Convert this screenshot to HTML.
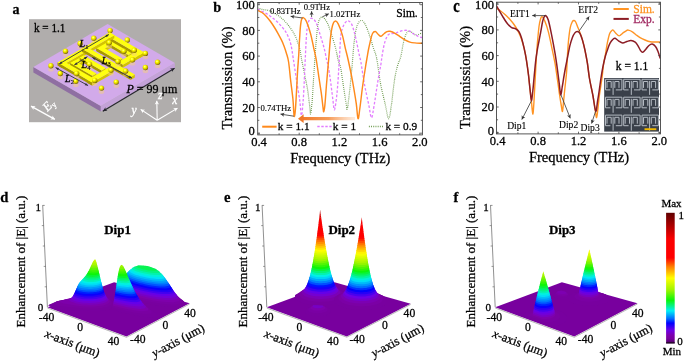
<!DOCTYPE html>
<html><head><meta charset="utf-8"><style>
html,body{margin:0;padding:0;background:#fff;width:685px;height:361px;overflow:hidden}
svg{display:block;font-family:"Liberation Serif", serif;will-change:transform}
text{stroke-width:.28px}
text:not([fill]){stroke:#000}
</style></head><body>
<svg width="685" height="361" viewBox="0 0 685 361">
<defs>
<clipPath id="clipb"><rect x="257.7" y="2.5" width="164.7" height="132.4"/></clipPath>
<clipPath id="clipc"><rect x="496.5" y="2.2" width="164" height="131.7"/></clipPath>
<linearGradient id="gArr" gradientUnits="userSpaceOnUse" x1="302" y1="0" x2="355" y2="0"><stop offset="0" stop-color="#f07828"/><stop offset="0.5" stop-color="#f58a3a" stop-opacity="0.85"/><stop offset="1" stop-color="#fbb078" stop-opacity="0.25"/></linearGradient>
<radialGradient id="gSph" cx="0.38" cy="0.34" r="0.75"><stop offset="0" stop-color="#ffffa0"/><stop offset="0.28" stop-color="#ffff00"/><stop offset="0.68" stop-color="#c0ac00"/><stop offset="1" stop-color="#403800"/></radialGradient>
</defs>
<text x="12.6" y="13.6" font-size="14" font-weight="bold">a</text>
<rect x="29" y="19.2" width="152" height="103" fill="#b0adac"/>
<polygon points="33.4,67 100.8,106 100.8,111.5 33.4,72.5" fill="#8f6fa2" />
<polygon points="100.8,106 174.9,62.9 174.9,68.4 100.8,111.5" fill="#c4a2d8" />
<polygon points="33.4,67 107.6,24.1 174.9,62.9 100.8,106" fill="#d2aaea" />
<text x="0" y="0" font-size="11.2" transform="translate(33.9 31.9) scale(1 1.15)">k = 1.1</text>
<ellipse cx="110.1" cy="34.2" rx="2.8" ry="2.2" fill="#f6d080" opacity="0.5"/>
<circle cx="110.1" cy="30.6" r="2.7" fill="url(#gSph)"/>
<ellipse cx="127.3" cy="43.6" rx="2.8" ry="2.2" fill="#f6d080" opacity="0.5"/>
<circle cx="127.3" cy="40" r="2.7" fill="url(#gSph)"/>
<ellipse cx="93.8" cy="41.9" rx="2.8" ry="2.2" fill="#f6d080" opacity="0.5"/>
<circle cx="93.8" cy="38.3" r="2.7" fill="url(#gSph)"/>
<ellipse cx="80.1" cy="47.1" rx="2.8" ry="2.2" fill="#f6d080" opacity="0.5"/>
<circle cx="80.1" cy="43.5" r="2.7" fill="url(#gSph)"/>
<polygon points="96.4,51.1 101,53.7 101,50.7 96.4,48.1" fill="#a89800" />
<polygon points="101,53.7 115.1,45.6 115.1,42.6 101,50.7" fill="#d4c400" />
<polygon points="96.4,48.1 101,50.7 115.1,42.6 110.5,39.9" fill="#ffff10" />
<polygon points="106.4,45.3 128.4,57.9 128.4,54.9 106.4,42.3" fill="#a89800" />
<polygon points="128.4,57.9 132.4,55.6 132.4,52.6 128.4,54.9" fill="#d4c400" />
<polygon points="106.4,42.3 128.4,54.9 132.4,52.6 110.5,39.9" fill="#ffff10" />
<polygon points="105.4,38.1 139.8,58 139.8,55 105.4,35.1" fill="#a89800" />
<polygon points="139.8,58 144.1,55.5 144.1,52.5 139.8,55" fill="#d4c400" />
<polygon points="105.4,35.1 139.8,55 144.1,52.5 109.7,32.6" fill="#ffff10" />
<polygon points="96.4,51.1 118.3,63.8 118.3,60.8 96.4,48.1" fill="#a89800" />
<polygon points="118.3,63.8 122.3,61.4 122.3,58.4 118.3,60.8" fill="#d4c400" />
<polygon points="96.4,48.1 118.3,60.8 122.3,58.4 100.4,45.8" fill="#ffff10" />
<polygon points="57.7,65.6 62.3,68.3 62.3,65.3 57.7,62.6" fill="#a89800" />
<polygon points="62.3,68.3 114.3,38.3 114.3,35.3 62.3,65.3" fill="#d4c400" />
<polygon points="57.7,62.6 62.3,65.3 114.3,35.3 109.7,32.6" fill="#ffff10" />
<polygon points="70.4,66.1 75,68.8 75,65.8 70.4,63.1" fill="#a89800" />
<polygon points="75,68.8 88.4,61 88.4,58 75,65.8" fill="#d4c400" />
<polygon points="70.4,63.1 75,65.8 88.4,58 83.8,55.4" fill="#ffff10" />
<polygon points="118.3,65.1 122.9,67.7 122.9,64.7 118.3,62.1" fill="#a89800" />
<polygon points="122.9,67.7 144.1,55.5 144.1,52.5 122.9,64.7" fill="#d4c400" />
<polygon points="118.3,62.1 122.9,64.7 144.1,52.5 139.5,49.8" fill="#ffff10" />
<polygon points="79.7,60.7 101.6,73.4 101.6,70.4 79.7,57.7" fill="#a89800" />
<polygon points="101.6,73.4 105.7,71.1 105.7,68.1 101.6,70.4" fill="#d4c400" />
<polygon points="79.7,57.7 101.6,70.4 105.7,68.1 83.8,55.4" fill="#ffff10" />
<polygon points="70.4,66.1 92.3,78.8 92.3,75.8 70.4,63.1" fill="#a89800" />
<polygon points="92.3,78.8 96.4,76.4 96.4,73.4 92.3,75.8" fill="#d4c400" />
<polygon points="70.4,63.1 92.3,75.8 96.4,73.4 74.5,60.8" fill="#ffff10" />
<polygon points="81.9,51.7 130.7,80 130.7,77 81.9,48.7" fill="#a89800" />
<polygon points="130.7,80 134.8,77.6 134.8,74.6 130.7,77" fill="#d4c400" />
<polygon points="81.9,48.7 130.7,77 134.8,74.6 85.9,46.4" fill="#ffff10" />
<polygon points="57.7,65.6 92.1,85.5 92.1,82.5 57.7,62.6" fill="#a89800" />
<polygon points="92.1,85.5 96.4,83 96.4,80 92.1,82.5" fill="#d4c400" />
<polygon points="57.7,62.6 92.1,82.5 96.4,80 62,60.2" fill="#ffff10" />
<polygon points="87.5,82.9 92.1,85.5 92.1,82.5 87.5,79.9" fill="#a89800" />
<polygon points="92.1,85.5 113.3,73.3 113.3,70.3 92.1,82.5" fill="#d4c400" />
<polygon points="87.5,79.9 92.1,82.5 113.3,70.3 108.7,67.6" fill="#ffff10" />
<ellipse cx="65.5" cy="54.8" rx="2.8" ry="2.2" fill="#f6d080" opacity="0.5"/>
<circle cx="65.5" cy="51.2" r="2.7" fill="url(#gSph)"/>
<ellipse cx="109.3" cy="46.2" rx="2.8" ry="2.2" fill="#f6d080" opacity="0.5"/>
<circle cx="109.3" cy="42.6" r="2.7" fill="url(#gSph)"/>
<ellipse cx="123.9" cy="54.8" rx="2.8" ry="2.2" fill="#f6d080" opacity="0.5"/>
<circle cx="123.9" cy="51.2" r="2.7" fill="url(#gSph)"/>
<ellipse cx="134.2" cy="53.9" rx="2.8" ry="2.2" fill="#f6d080" opacity="0.5"/>
<circle cx="134.2" cy="50.3" r="2.7" fill="url(#gSph)"/>
<ellipse cx="145.4" cy="57" rx="2.8" ry="2.2" fill="#f6d080" opacity="0.5"/>
<circle cx="145.4" cy="53.4" r="2.7" fill="url(#gSph)"/>
<ellipse cx="50.9" cy="69.4" rx="2.8" ry="2.2" fill="#f6d080" opacity="0.5"/>
<circle cx="50.9" cy="65.8" r="2.7" fill="url(#gSph)"/>
<ellipse cx="89.5" cy="67.7" rx="2.8" ry="2.2" fill="#f6d080" opacity="0.5"/>
<circle cx="89.5" cy="64.1" r="2.7" fill="url(#gSph)"/>
<ellipse cx="111" cy="73.7" rx="2.8" ry="2.2" fill="#f6d080" opacity="0.5"/>
<circle cx="111" cy="70.1" r="2.7" fill="url(#gSph)"/>
<ellipse cx="117.9" cy="65.1" rx="2.8" ry="2.2" fill="#f6d080" opacity="0.5"/>
<circle cx="117.9" cy="61.5" r="2.7" fill="url(#gSph)"/>
<ellipse cx="132.5" cy="63.4" rx="2.8" ry="2.2" fill="#f6d080" opacity="0.5"/>
<circle cx="132.5" cy="59.8" r="2.7" fill="url(#gSph)"/>
<ellipse cx="145.4" cy="71.1" rx="2.8" ry="2.2" fill="#f6d080" opacity="0.5"/>
<circle cx="145.4" cy="67.5" r="2.7" fill="url(#gSph)"/>
<ellipse cx="60.3" cy="77.1" rx="2.8" ry="2.2" fill="#f6d080" opacity="0.5"/>
<circle cx="60.3" cy="73.5" r="2.7" fill="url(#gSph)"/>
<ellipse cx="76.6" cy="77.1" rx="2.8" ry="2.2" fill="#f6d080" opacity="0.5"/>
<circle cx="76.6" cy="73.5" r="2.7" fill="url(#gSph)"/>
<ellipse cx="94.7" cy="84" rx="2.8" ry="2.2" fill="#f6d080" opacity="0.5"/>
<circle cx="94.7" cy="80.4" r="2.7" fill="url(#gSph)"/>
<ellipse cx="116.2" cy="85.7" rx="2.8" ry="2.2" fill="#f6d080" opacity="0.5"/>
<circle cx="116.2" cy="82.1" r="2.7" fill="url(#gSph)"/>
<ellipse cx="125.6" cy="74.6" rx="2.8" ry="2.2" fill="#f6d080" opacity="0.5"/>
<circle cx="125.6" cy="71" r="2.7" fill="url(#gSph)"/>
<ellipse cx="75.8" cy="84.9" rx="2.8" ry="2.2" fill="#f6d080" opacity="0.5"/>
<circle cx="75.8" cy="81.3" r="2.7" fill="url(#gSph)"/>
<ellipse cx="101.5" cy="91.7" rx="2.8" ry="2.2" fill="#f6d080" opacity="0.5"/>
<circle cx="101.5" cy="88.1" r="2.7" fill="url(#gSph)"/>
<ellipse cx="157.6" cy="65.9" rx="2.8" ry="2.2" fill="#f6d080" opacity="0.5"/>
<circle cx="157.6" cy="62.3" r="2.7" fill="url(#gSph)"/>
<g stroke="#303040" stroke-width="0.9" fill="#303040">
<path d="M59.1 64L108.9 34.5" fill="none"/>
<path d="M59.1 64L61.2 61.3L62.5 63.5Z" stroke="none"/>
<path d="M108.9 34.5L106.8 37.2L105.5 35Z" stroke="none"/>
<path d="M55.6 67.6L88.1 85.6" fill="none"/>
<path d="M55.6 67.6L59 68L57.8 70.3Z" stroke="none"/>
<path d="M88.1 85.6L84.7 85.2L85.9 82.9Z" stroke="none"/>
<path d="M74.3 65L87.4 56.7" fill="none"/>
<path d="M74.3 65L76.3 62.2L77.7 64.4Z" stroke="none"/>
<path d="M87.4 56.7L85.4 59.5L84 57.3Z" stroke="none"/>
<path d="M92.3 57.4L132 78.2" fill="none"/>
<path d="M92.3 57.4L95.7 57.7L94.5 60Z" stroke="none"/>
<path d="M132 78.2L128.6 77.9L129.8 75.6Z" stroke="none"/>
</g>
<path d="M174.6 68.2L102.8 111.2" stroke="#26262e" stroke-width="1.1" fill="none"/>
<path d="M102.8 111.2L105.4 107.3L105.5 109.6L107.4 110.8Z" fill="#26262e"/>
<path d="M174.6 68.2L172 72.1L171.9 69.8L170 68.6Z" fill="#26262e"/>
<text x="79.5" y="46.5" font-size="10" font-style="italic">L</text>
<text x="85.3" y="48.5" font-size="6.5" style="stroke-width:.12px">1</text>
<text x="65" y="82" font-size="10" font-style="italic">L</text>
<text x="70.8" y="84" font-size="6.5" style="stroke-width:.12px">2</text>
<text x="101.8" y="64.3" font-size="10" font-style="italic">L</text>
<text x="107.6" y="66.3" font-size="6.5" style="stroke-width:.12px">3</text>
<text x="81.5" y="67.8" font-size="10" font-style="italic">L</text>
<text x="87.3" y="69.8" font-size="6.5" style="stroke-width:.12px">4</text>
<text x="126.4" y="93.2" font-size="12"><tspan font-style="italic">P</tspan> = 99 μm</text>
<path d="M157.2 120.3L156.8 100.7" stroke="#fff" stroke-width="1.1" fill="none"/>
<path d="M156.8 100.7L159.1 104.5L156.9 103.5L154.7 104.5Z" fill="#fff"/>
<path d="M157.2 120.3L177.5 108.1" stroke="#fff" stroke-width="1.1" fill="none"/>
<path d="M177.5 108.1L175.4 111.9L175.1 109.6L173.1 108.2Z" fill="#fff"/>
<path d="M157.2 120.3L140.7 109.4" stroke="#fff" stroke-width="1.1" fill="none"/>
<path d="M140.7 109.4L145.1 109.7L143.1 111L142.7 113.3Z" fill="#fff"/>
<text x="158" y="98.8" font-size="11.5" font-style="italic" fill="#fff" stroke="#fff">z</text>
<text x="172.3" y="103.6" font-size="11.5" font-style="italic" fill="#fff" stroke="#fff">x</text>
<text x="131.6" y="113.6" font-size="11.5" font-style="italic" fill="#fff" stroke="#fff">y</text>
<path d="M31 106.2L54.9 119.3" stroke="#fff" stroke-width="1.35" fill="none"/>
<path d="M54.9 119.3L50.3 119.4L52.3 117.9L52.5 115.4Z" fill="#fff"/>
<path d="M31 106.2L35.6 106.1L33.6 107.6L33.4 110.1Z" fill="#fff"/>
<text x="0" y="0" font-size="12.5" fill="#fff" stroke="#fff" stroke-width="0.3" transform="translate(47.6 112) rotate(-46)"><tspan font-style="italic">E</tspan><tspan font-size="8" dy="2">y</tspan></text>
<text x="213.3" y="12" font-size="14.3" font-weight="bold">b</text>
<g clip-path="url(#clipb)">
<path d="M257.7 8C258.6 8.3 261 9.1 263 9.6C265 10.1 267 9.7 269.8 10.9C272.6 12.1 276.7 14.3 279.7 16.6C282.7 18.9 285.5 21.8 288 24.9C290.5 27.9 293 31.8 294.7 34.9C296.4 38 297.1 40.7 298 43.2C298.9 45.7 299.3 46.6 300 50C300.7 53.4 301.2 57.3 302.4 63.5C303.6 69.7 305.9 80.1 307.1 87C308.3 93.9 309 100.4 309.6 104.9C310.2 109.4 310.2 114.6 310.6 114C311 113.4 311.6 107.5 312.1 101.5C312.6 95.5 313.1 85.4 313.6 78C314.1 70.6 314.6 63.3 315 57C315.4 50.7 315.9 44.7 316.3 40C316.7 35.3 316.9 32.1 317.3 29C317.7 25.9 318 23.1 318.8 21.1C319.6 19.1 320.8 16.7 322.2 16.9C323.6 17.1 325.6 19.7 327.1 22.5C328.6 25.3 329.8 29.4 331.2 33.5C332.6 37.6 334.2 43 335.4 47.4C336.6 51.8 337.3 56.4 338.2 60C339.1 63.6 340 64.3 340.9 69C341.8 73.7 342.8 82.4 343.7 88.2C344.6 94 345.6 100.5 346.2 104C346.8 107.5 346.6 111.5 347.2 109.5C347.8 107.5 348.8 97.9 349.5 92C350.2 86.1 350.8 79.3 351.3 74C351.8 68.7 352.1 65.8 352.6 60C353.1 54.2 353.7 44.8 354.5 39C355.3 33.2 356.1 28.3 357.3 25.2C358.5 22.1 360.1 20.4 361.5 20.4C362.9 20.4 364.2 22.6 365.6 25.2C367 27.8 368.5 32.6 369.8 36.3C371.1 40 372.1 43.7 373.2 47.4C374.3 51.1 375.5 52.5 376.7 58.5C377.9 64.5 379.1 76 380.5 83.4C381.9 90.9 383.6 97.3 385 103.2C386.4 109.1 387.5 118.3 388.6 118.6C389.7 118.9 390.4 111.4 391.4 105C392.4 98.6 393.5 86.5 394.5 80C395.5 73.5 396.4 69.9 397.5 66C398.6 62.1 399.8 60.3 400.8 56.5C401.8 52.7 402.5 46.8 403.3 43.2C404.1 39.6 404.9 36.9 405.7 34.9C406.5 32.9 407.4 31.9 408.2 31.3C409 30.8 409.9 31.3 410.7 31.6C411.5 31.9 412.4 32.7 413.2 33.3C414 33.9 414.9 35 415.7 35.2C416.5 35.4 417.1 35 418.2 34.6C419.2 34.2 421.4 33.1 422 32.8" fill="none" stroke="#679647" stroke-width="1.2" stroke-dasharray="0.85 1.15"/>
<path d="M257.7 8.9C258.1 9.2 259.2 9.9 260.4 10.5C261.6 11.1 263.4 11.9 264.9 12.7C266.4 13.5 267.8 14.5 269.3 15.5C270.8 16.5 272.2 17.6 273.7 18.8C275.2 20 276.7 21.2 278.2 22.7C279.7 24.2 281.3 26.1 282.6 27.7C283.9 29.3 284.9 30.4 285.9 32.1C286.9 33.8 287.8 35.6 288.7 37.7C289.6 39.9 290.2 41.5 291 45C291.8 48.5 292.4 53 293.3 58.8C294.2 64.6 295.4 73 296.5 80C297.6 87 299 95.1 299.8 101C300.6 106.9 300.9 115.7 301.5 115.5C302.1 115.3 302.7 105.9 303.2 100C303.7 94.1 304 86.7 304.3 80C304.6 73.3 304.9 66.7 305.2 60C305.5 53.3 305.9 45.3 306.2 40C306.5 34.7 306.7 31.3 307.2 28C307.7 24.7 308.3 22 309.1 20.4C309.9 18.8 310.8 17.9 311.9 18.3C313 18.7 314.6 19.7 316 22.5C317.4 25.3 318.8 30.5 320.2 34.9C321.6 39.3 323.2 44.6 324.3 48.8C325.4 53 326 57.1 326.6 60C327.2 62.9 327.6 62.7 328.2 66C328.8 69.3 329.6 74.3 330.4 80C331.2 85.7 332.2 94.9 332.9 99.9C333.6 104.9 333.8 110.9 334.5 109.8C335.2 108.7 336.3 99.8 337 93.2C337.7 86.6 338.3 76.4 338.7 70C339.1 63.6 339.2 60.9 339.6 55C340 49.1 340.2 39.9 340.9 34.9C341.6 29.9 342.6 27.5 343.7 25.2C344.8 22.9 346.2 21.1 347.4 20.8C348.6 20.5 350 21.5 351.1 23.2C352.2 24.9 353 27.7 353.9 30.8C354.8 33.9 355.7 37.8 356.6 41.9C357.5 46 358.7 52.4 359.4 55.7C360.1 59.1 360.1 57.4 360.9 62C361.7 66.6 363 76.2 364.3 83.4C365.6 90.6 367.6 99.3 368.8 105C370 110.7 370.6 117.7 371.5 117.7C372.4 117.7 373.1 111 374.2 105C375.2 99 376.7 88.3 377.8 81.6C378.9 74.9 380 69.5 380.8 64.8C381.6 60.1 381.8 57.1 382.5 53.2C383.2 49.3 384 44.7 385 41.6C386 38.5 387.1 36.1 388.3 34.8C389.5 33.4 390.7 33.8 392 33.5C393.3 33.2 394.7 33.4 396 33C397.3 32.6 398.4 31.8 399.9 31.3C401.4 30.9 403.4 30.4 404.9 30.3C406.4 30.2 407.9 30.3 409.1 30.8C410.4 31.3 411.3 32.6 412.4 33.3C413.5 34 414.7 34.3 415.7 34.9C416.7 35.5 417.6 36.2 418.6 36.6C419.7 37 421.4 37.4 422 37.5" fill="none" stroke="#e27cff" stroke-width="1.3" stroke-dasharray="2.6 1.8"/>
<path d="M257.7 10.3C258.4 10.7 260.6 11.5 262 12.5C263.4 13.5 265 14.9 266.4 16.4C267.8 17.9 269.1 19.6 270.5 21.5C271.9 23.4 273.5 25.9 274.8 28C276.1 30.1 277.1 31.8 278.2 33.8C279.3 35.8 280.4 37.9 281.4 39.9C282.4 41.9 283.2 43.8 284 46C284.8 48.2 285.6 50.5 286.4 53.2C287.2 55.9 287.9 57.5 288.6 62C289.3 66.5 289.9 73.9 290.6 80C291.3 86.1 292.3 92.8 292.9 98.8C293.5 104.8 293.7 113.8 294.1 115.8C294.5 117.8 294.9 114.6 295.3 110.6C295.7 106.6 296.1 98.5 296.5 91.8C296.9 85.1 297.2 76.9 297.6 70.6C298 64.3 298.5 59.1 298.8 54C299.1 48.9 299.2 44.3 299.5 40C299.8 35.7 300 31.4 300.3 28C300.6 24.6 301 21.4 301.5 19.7C302 18 302.5 17.4 303.3 17.6C304.1 17.8 305.1 18.5 306.3 21.1C307.5 23.8 309.2 28.9 310.5 33.5C311.8 38.1 312.9 44.4 313.9 48.8C314.9 53.2 315.5 55.4 316.3 60C317.1 64.6 318 71.1 318.8 76.6C319.6 82.1 320.6 88.2 321.3 93.2C322 98.2 322.5 103.4 322.9 106.5C323.3 109.6 323.4 112.1 323.7 111.8C324 111.5 324.5 108.8 324.9 104.9C325.3 101 325.8 93.8 326.2 88.2C326.6 82.7 327.2 76.6 327.6 71.6C328 66.6 328.3 63.6 328.8 58C329.3 52.4 329.9 43.2 330.5 37.7C331.1 32.2 331.8 28 332.6 25.2C333.4 22.4 334.2 21.3 335.1 21.1C336 20.9 337 21.6 338.2 23.9C339.4 26.2 341.1 30.8 342.3 34.9C343.5 39 344.4 44.4 345.4 48.6C346.4 52.8 347 54.5 348.2 60C349.4 65.5 351.3 74.4 352.6 81.6C353.9 88.8 355.3 97 356.2 103.2C357.1 109.4 357.4 117.7 358 118.6C358.6 119.5 359.1 113.9 359.8 108.6C360.6 103.3 361.6 93.6 362.5 87C363.4 80.4 364.4 73.8 365.2 69C365.9 64.2 366.4 61.3 367 58C367.6 54.7 368 51.9 368.6 49C369.2 46.1 369.9 43.1 370.5 40.5C371.1 37.9 371.7 35 372.5 33.5C373.3 32 374.4 31.4 375.3 31.5C376.2 31.6 377.2 33.4 378.1 34.2C379 35 379.9 36.4 380.9 36.3C381.9 36.2 383.3 34.3 384.3 33.5C385.3 32.7 386.1 32 387 31.6C387.9 31.2 388.7 31 390 31.3C391.3 31.6 393.4 32.4 395 33.3C396.6 34.2 398.2 35.5 399.9 36.6C401.5 37.7 403.2 39 404.9 39.9C406.6 40.8 408.2 41.6 409.9 42.1C411.6 42.6 412.9 42.7 414.9 42.9C416.9 43.1 420.8 43.2 422 43.3" fill="none" stroke="#ff8a1c" stroke-width="1.45"/>
</g>
<rect x="257.7" y="2.5" width="164.7" height="132.4" fill="none" stroke="#444" stroke-width="0.9"/>
<path d="M259 134.9v-2.2M259 2.5v2.2M279.1 134.9v-1.6M279.1 2.5v1.6M299.2 134.9v-2.2M299.2 2.5v2.2M319.3 134.9v-1.6M319.3 2.5v1.6M339.4 134.9v-2.2M339.4 2.5v2.2M359.5 134.9v-1.6M359.5 2.5v1.6M379.6 134.9v-2.2M379.6 2.5v2.2M399.7 134.9v-1.6M399.7 2.5v1.6M419.8 134.9v-2.2M419.8 2.5v2.2M257.7 133.2h2.2M422.4 133.2h-2.2M257.7 120.3h1.6M422.4 120.3h-1.6M257.7 107.5h2.2M422.4 107.5h-2.2M257.7 94.6h1.6M422.4 94.6h-1.6M257.7 81.8h2.2M422.4 81.8h-2.2M257.7 68.9h1.6M422.4 68.9h-1.6M257.7 56.1h2.2M422.4 56.1h-2.2M257.7 43.2h1.6M422.4 43.2h-1.6M257.7 30.4h2.2M422.4 30.4h-2.2M257.7 17.5h1.6M422.4 17.5h-1.6M257.7 4.7h2.2M422.4 4.7h-2.2" stroke="#444" stroke-width="0.8" fill="none"/>
<text x="259" y="146" font-size="12.6" text-anchor="middle">0.4</text>
<text x="299.2" y="146" font-size="12.6" text-anchor="middle">0.8</text>
<text x="339.4" y="146" font-size="12.6" text-anchor="middle">1.2</text>
<text x="379.6" y="146" font-size="12.6" text-anchor="middle">1.6</text>
<text x="419.8" y="146" font-size="12.6" text-anchor="middle">2.0</text>
<text x="254.8" y="135.3" font-size="12.6" text-anchor="end">0</text>
<text x="254.8" y="111.8" font-size="12.6" text-anchor="end">20</text>
<text x="254.8" y="86.1" font-size="12.6" text-anchor="end">40</text>
<text x="254.8" y="60.4" font-size="12.6" text-anchor="end">60</text>
<text x="254.8" y="34.7" font-size="12.6" text-anchor="end">80</text>
<text x="254.8" y="9.3" font-size="12.6" text-anchor="end">100</text>
<text x="0" y="0" font-size="14.5" text-anchor="middle" transform="translate(231.8 78) rotate(-90)">Transmission (%)</text>
<text x="340.3" y="162.8" font-size="14.5" text-anchor="middle">Frequency (THz)</text>
<path d="M262.2 126.7H276.6" stroke="#ff8a1c" stroke-width="2"/>
<text x="277.8" y="129.6" font-size="11.3">k = 1.1</text>
<path d="M317.3 126.5H331.6" stroke="#e27cff" stroke-width="1.6" stroke-dasharray="2.4 1.6"/>
<text x="332.8" y="129.6" font-size="11.3">k = 1</text>
<path d="M368.9 126.5H384.2" stroke="#679647" stroke-width="1.3" stroke-dasharray="0.9 1.3"/>
<text x="385.4" y="129.6" font-size="11.3">k = 0.9</text>
<text x="396.3" y="17.1" font-size="11.5">Sim.</text>
<text x="269.9" y="13.9" font-size="8.7" style="stroke-width:.12px">0.83THz</text>
<text x="303.7" y="10.3" font-size="8.7" style="stroke-width:.12px">0.9THz</text>
<text x="329.6" y="16.6" font-size="8.7" style="stroke-width:.12px">1.02THz</text>
<text x="260.5" y="110.5" font-size="8.7" style="stroke-width:.12px">0.74THz</text>
<path d="M302.5 18L290.6 16.3" stroke="#333" stroke-width="0.8" fill="none"/>
<path d="M290.6 16.3L294.6 14.9L293.4 16.7L294.1 18.8Z" fill="#333"/>
<path d="M311.6 17L311.6 11.2" stroke="#333" stroke-width="0.8" fill="none"/>
<path d="M311.6 11.2L313.6 15L311.6 14L309.6 15Z" fill="#333"/>
<path d="M322.4 16.8L328.8 13.8" stroke="#333" stroke-width="0.8" fill="none"/>
<path d="M328.8 13.8L326.2 17.2L326.2 15L324.5 13.6Z" fill="#333"/>
<path d="M293.9 116.2L280.5 114.1" stroke="#333" stroke-width="0.8" fill="none"/>
<path d="M280.5 114.1L284.6 112.7L283.3 114.5L283.9 116.7Z" fill="#333"/>
<path d="M302.5 118.7H355" stroke="url(#gArr)" stroke-width="3.2"/>
<path d="M298 118.7L303.6 114.3V123.1Z" fill="#f07828"/>
<text x="0" y="0" font-size="14.5" font-weight="bold" transform="translate(453.2 12) scale(1 1.3)">c</text>
<g clip-path="url(#clipc)">
<path d="M496.5 8.7C497.1 9 498.6 9.5 500 10.5C501.4 11.5 503.3 13 505 14.5C506.7 16 508.5 17.8 510 19.5C511.5 21.2 512.8 22.8 514 24.5C515.2 26.2 516.5 28.1 517.4 29.8C518.3 31.5 518.9 32.8 519.6 34.5C520.3 36.2 521 37.7 521.8 40C522.5 42.3 523.3 44.9 524.1 48.2C524.9 51.5 525.7 55.5 526.4 60C527.1 64.5 527.9 70 528.5 75C529.1 80 529.6 85.3 530.1 90C530.6 94.7 531.2 99 531.6 103C532 107 532.4 113.8 532.8 114C533.2 114.2 533.5 108.3 533.8 104.3C534.1 100.3 534.3 94.9 534.6 90C534.9 85.1 535.1 80 535.4 75C535.7 70 535.9 65.3 536.2 60C536.5 54.7 536.9 48.6 537.4 43C537.9 37.4 538.5 30.6 539 26.5C539.5 22.4 540.2 20.1 540.7 18.5C541.2 16.9 541.6 16.3 542.3 16.8C543 17.3 544 19.1 545 21.6C546 24.1 547.2 27.4 548.3 31.6C549.4 35.8 550.5 41.3 551.6 46.6C552.7 51.9 554 57.6 555 63.2C556 68.8 556.7 74.7 557.5 80C558.3 85.3 559 90.8 559.6 95C560.2 99.2 560.7 102.3 561.2 105C561.7 107.7 562.1 112.1 562.5 111.4C562.9 110.7 563.2 104.6 563.6 101C564 97.4 564.3 93.5 564.7 90C565.1 86.5 565.5 83 565.8 80C566.1 77 566.3 75.9 566.6 72C566.9 68.1 567.1 61.9 567.4 56.5C567.7 51.1 568.1 44.8 568.6 39.9C569.1 35 569.7 30.4 570.3 27.4C570.9 24.3 571.8 22.8 572.4 21.6C573 20.5 573.5 20.4 574.1 20.5C574.7 20.6 575.1 20.9 575.7 22C576.3 23.1 577.2 25.7 577.9 27.4C578.6 29.1 579.1 30.3 579.9 32.4C580.6 34.5 581.6 37 582.4 39.9C583.2 42.8 584.1 46 584.9 49.9C585.7 53.8 586.6 58.4 587.4 63.1C588.1 67.8 588.5 72.5 589.4 78C590.3 83.5 592.1 91 593 96C593.9 101 594.4 104.4 595 108C595.6 111.6 596.1 117.9 596.6 117.6C597.1 117.3 597.8 109.6 598.2 106C598.7 102.4 598.7 100.7 599.3 96C599.9 91.3 601.3 83.3 602 78C602.7 72.7 603 67.9 603.6 64C604.2 60.1 604.8 58.2 605.4 54.6C606 51 606.8 45.7 607.5 42.2C608.2 38.8 608.8 35.8 609.5 33.9C610.2 32 611 31.4 611.6 30.8C612.2 30.2 612.3 29.6 613 30C613.7 30.4 614.8 32.2 615.8 33.2C616.8 34.2 618.1 35.9 619.2 35.9C620.4 35.9 621.5 34.1 622.7 33.2C623.9 32.4 625.3 31.3 626.2 30.8C627.1 30.3 627.2 29.9 628.2 30.1C629.2 30.3 631 30.9 632.4 31.8C633.8 32.6 635.2 34.2 636.6 35.2C638 36.2 639.1 37 640.5 37.8C641.9 38.6 643.4 39.3 645 40C646.6 40.7 648.7 41.5 650.4 41.8C652.1 42.1 653.4 42 655 42C656.6 42 659.4 42 660.3 42" fill="none" stroke="#ff9424" stroke-width="1.4"/>
<path d="M496.5 5.8C496.9 6.6 498.1 8.6 499.2 10.5C500.3 12.4 501.9 15.3 503.3 17.5C504.7 19.7 506.1 22.1 507.5 23.8C508.9 25.5 510.2 26.8 511.6 27.6C513 28.5 514.5 28.2 515.8 28.9C517 29.6 518.1 30.2 519.1 31.8C520.1 33.4 520.8 35.5 521.6 38.2C522.4 40.9 523.3 44.6 524.1 48.2C524.9 51.8 525.7 55.5 526.4 60C527.1 64.5 527.9 70 528.5 75C529.1 80 529.6 85.7 530.1 90C530.6 94.3 531 100.4 531.4 100.6C531.8 100.8 532.3 95.3 532.8 91C533.3 86.7 533.8 80.2 534.3 75C534.8 69.8 535.3 64.2 535.8 60C536.3 55.8 536.8 53.2 537.3 50C537.8 46.8 538.4 44 539 41C539.6 38 540.1 35.2 540.7 32C541.3 28.8 542 24.5 542.5 22C543 19.5 543.5 18.3 544 17.2C544.5 16.1 545.1 15.1 545.8 15.6C546.5 16.1 547.3 16.8 548.3 20C549.3 23.2 550.5 29.4 551.6 34.9C552.7 40.4 554 47.4 555 53.2C556 59.1 556.8 64.9 557.5 70C558.2 75.1 558.8 79.9 559.3 84C559.8 88.1 560.2 94.3 560.7 94.8C561.2 95.3 561.7 90.1 562.2 87C562.8 83.9 563.4 79.5 564 76C564.6 72.5 565.2 69 565.8 66C566.4 63 566.7 61.4 567.4 58C568.1 54.6 569.1 49.1 569.9 45.7C570.7 42.3 571.6 39.5 572.4 37.4C573.2 35.3 574.1 33.9 574.9 32.9C575.7 31.9 576.6 31.5 577.4 31.6C578.2 31.7 579.1 31.9 579.9 33.3C580.7 34.7 581.6 37.1 582.4 39.9C583.2 42.7 584.1 46 584.9 49.9C585.7 53.8 586.6 58.4 587.4 63.1C588.1 67.8 588.5 72.5 589.4 78C590.3 83.5 592 90.5 593 96C594 101.5 594.9 110.5 595.7 111.3C596.5 112.1 597 104.5 597.6 101C598.2 97.5 598.7 94.2 599.3 90C599.9 85.8 600.6 80.2 601.3 76C602 71.8 602.6 68.3 603.3 65C604 61.7 604.6 58.9 605.4 56C606.2 53.1 607.4 49.9 608.2 47.7C609 45.5 609.4 44.2 610.2 42.8C611 41.4 612.2 40 613 39.2C613.8 38.5 614.2 38 615.1 38.3C616 38.6 617.2 40 618.5 40.8C619.8 41.6 621.3 42.8 622.7 42.9C624.1 43 625.5 41.9 626.9 41.5C628.3 41.1 629.6 40.4 631 40.5C632.4 40.6 634.1 41.4 635.2 42.2C636.4 43.1 637 44.2 637.9 45.6C638.8 47 639.7 49.4 640.5 50.5C641.3 51.6 641.9 52.5 642.8 52.2C643.7 52 645 50.1 646 49C647 47.9 648 46.3 649 45.5C650 44.7 651.1 43.9 652.2 44.1C653.3 44.3 654.5 45.3 655.5 46.5C656.5 47.7 657.2 49.5 658 51.5C658.8 53.5 659.9 57.3 660.3 58.5" fill="none" stroke="#8c1c24" stroke-width="1.5"/>
</g>
<rect x="496.5" y="2.2" width="164" height="131.7" fill="none" stroke="#444" stroke-width="0.9"/>
<path d="M497.7 133.9v-2.2M497.7 2.2v2.2M517.9 133.9v-1.6M517.9 2.2v1.6M538.1 133.9v-2.2M538.1 2.2v2.2M558.3 133.9v-1.6M558.3 2.2v1.6M578.5 133.9v-2.2M578.5 2.2v2.2M598.7 133.9v-1.6M598.7 2.2v1.6M618.9 133.9v-2.2M618.9 2.2v2.2M639.1 133.9v-1.6M639.1 2.2v1.6M659.3 133.9v-2.2M659.3 2.2v2.2M496.5 132.7h2.2M660.5 132.7h-2.2M496.5 119.8h1.6M660.5 119.8h-1.6M496.5 107h2.2M660.5 107h-2.2M496.5 94.1h1.6M660.5 94.1h-1.6M496.5 81.3h2.2M660.5 81.3h-2.2M496.5 68.4h1.6M660.5 68.4h-1.6M496.5 55.6h2.2M660.5 55.6h-2.2M496.5 42.8h1.6M660.5 42.8h-1.6M496.5 29.9h2.2M660.5 29.9h-2.2M496.5 17h1.6M660.5 17h-1.6M496.5 4.2h2.2M660.5 4.2h-2.2" stroke="#444" stroke-width="0.8" fill="none"/>
<text x="497.7" y="145.2" font-size="12.6" text-anchor="middle">0.4</text>
<text x="538.1" y="145.2" font-size="12.6" text-anchor="middle">0.8</text>
<text x="578.5" y="145.2" font-size="12.6" text-anchor="middle">1.2</text>
<text x="618.9" y="145.2" font-size="12.6" text-anchor="middle">1.6</text>
<text x="659.3" y="145.2" font-size="12.6" text-anchor="middle">2.0</text>
<text x="494" y="134.8" font-size="12.6" text-anchor="end">0</text>
<text x="494" y="111.3" font-size="12.6" text-anchor="end">20</text>
<text x="494" y="85.6" font-size="12.6" text-anchor="end">40</text>
<text x="494" y="59.9" font-size="12.6" text-anchor="end">60</text>
<text x="494" y="34.2" font-size="12.6" text-anchor="end">80</text>
<text x="494" y="8.8" font-size="12.6" text-anchor="end">100</text>
<text x="0" y="0" font-size="14.5" text-anchor="middle" transform="translate(470 77.5) rotate(-90)">Transmission (%)</text>
<text x="579" y="162" font-size="14.5" text-anchor="middle">Frequency (THz)</text>
<path d="M613.5 9H628.8" stroke="#ff9424" stroke-width="2"/>
<path d="M613.5 18.9H628.8" stroke="#8c1c24" stroke-width="2"/>
<text x="633.3" y="13.4" font-size="11.5" fill="#ff9424" stroke="#ff9424">Sim.</text>
<text x="633.3" y="22.8" font-size="11.5" fill="#a02860" stroke="#a02860">Exp.</text>
<text x="632" y="70.3" font-size="11.5" text-anchor="middle">k = 1.1</text>
<text x="510" y="16.6" font-size="9.6" style="stroke-width:.12px">EIT1</text>
<text x="578.3" y="12.9" font-size="9.6" style="stroke-width:.12px">EIT2</text>
<text x="507.2" y="128.7" font-size="9.6" style="stroke-width:.12px">Dip1</text>
<text x="559" y="127.6" font-size="9.6" style="stroke-width:.12px">Dip2</text>
<text x="580.5" y="130.5" font-size="9.6" style="stroke-width:.12px">Dip3</text>
<path d="M545.5 15.6L532.2 15.6" stroke="#333" stroke-width="0.8" fill="none"/>
<path d="M532.2 15.6L536 13.6L535.1 15.6L536 17.6Z" fill="#333"/>
<path d="M578.7 31.6L589.2 16.5" stroke="#333" stroke-width="0.8" fill="none"/>
<path d="M589.2 16.5L588.7 20.8L587.6 18.8L585.4 18.5Z" fill="#333"/>
<path d="M531.3 101L521.8 119.6" stroke="#333" stroke-width="0.8" fill="none"/>
<path d="M521.8 119.6L521.7 115.3L523.1 117.1L525.3 117.1Z" fill="#333"/>
<path d="M561 95L570.3 118.3" stroke="#333" stroke-width="0.8" fill="none"/>
<path d="M570.3 118.3L567 115.5L569.2 115.7L570.7 114Z" fill="#333"/>
<path d="M595.5 111.5L591.6 123.5" stroke="#333" stroke-width="0.8" fill="none"/>
<path d="M591.6 123.5L590.9 119.3L592.5 120.8L594.7 120.5Z" fill="#333"/>
<rect x="604.2" y="78" width="54.8" height="53.6" fill="#3a404a"/>
<path d="M610.4 89.9H605.5V79.3H621.9V89.9H615.8M613.1 80.9V94.9M607 87.9V81.5H611.2V87.9M614.8 87.9V81.5H619V87.9M610.4 107.8H605.5V97.2H621.9V107.8H615.8M613.1 98.8V112.8M607 105.8V99.4H611.2V105.8M614.8 105.8V99.4H619V105.8M610.4 125.7H605.5V115.1H621.9V125.7H615.8M613.1 116.7V130.7M607 123.7V117.3H611.2V123.7M614.8 123.7V117.3H619V123.7M628.6 89.9H623.7V79.3H640.1V89.9H634M631.3 80.9V94.9M625.2 87.9V81.5H629.5V87.9M633 87.9V81.5H637.3V87.9M628.6 107.8H623.7V97.2H640.1V107.8H634M631.3 98.8V112.8M625.2 105.8V99.4H629.5V105.8M633 105.8V99.4H637.3V105.8M628.6 125.7H623.7V115.1H640.1V125.7H634M631.3 116.7V130.7M625.2 123.7V117.3H629.5V123.7M633 123.7V117.3H637.3V123.7M646.9 89.9H642V79.3H658.4V89.9H652.3M649.6 80.9V94.9M643.5 87.9V81.5H647.8V87.9M651.3 87.9V81.5H655.6V87.9M646.9 107.8H642V97.2H658.4V107.8H652.3M649.6 98.8V112.8M643.5 105.8V99.4H647.8V105.8M651.3 105.8V99.4H655.6V105.8M646.9 125.7H642V115.1H658.4V125.7H652.3M649.6 116.7V130.7M643.5 123.7V117.3H647.8V123.7M651.3 123.7V117.3H655.6V123.7" stroke="#b4bac2" stroke-width="1.0" fill="none"/>
<path d="M644.5 129.2H656.3" stroke="#f2b800" stroke-width="1.9"/>
<text x="0.3" y="202.2" font-size="14.6" font-weight="bold">d</text>
<polygon points="47.4,307.2 126.5,336.5 189.6,303.2 114.1,282.3" fill="#78009e" />
<polygon points="110.4,287.5 112.5,285.4 118.5,284.4 126,284.6 133.7,285.9 143.4,288.6 155.6,291.9 164.8,294.4 175.8,297.4 182.4,300.1 185.3,303 182.1,305.1 177.7,307 169.1,306.8 161.1,305.9 154.8,304.9 149.8,303.9 145.7,303.1 142.3,302.3 139.4,301.5 136.8,300.8 134.3,300.1 132,299.3 129.6,298.6 127.1,297.7 124.5,296.7 121.6,295.6 118.4,294.1 115,292.3 111.9,290.1" fill="#78009f"/>
<polygon points="110.4,287.5 112.5,285.4 114.8,284.7 120.4,283.8 127.4,283.9 133.7,284.5 139.6,286.1 143.4,287.1 155.7,290.4 164.9,292.9 175.7,295.9 179.7,298.1 182.4,300.1 185.3,303 182.1,305.1 177.7,307 169.1,306.8 161.1,305.9 154.8,304.9 149.8,303.9 145.7,303.1 142.3,302.3 139.4,301.5 136.8,300.8 134.3,300.1 132,299.3 129.6,298.6 127.1,297.7 124.5,296.7 121.6,295.6 118.4,294.1 115,292.3 111.9,290.1" fill="#78009f"/>
<polygon points="112.9,286.6 114.8,284.7 116.6,283.7 121.8,282.9 128.4,283 134.4,283.6 139.6,284.7 143.5,285.7 146.3,286.4 164.9,291.4 169.2,292.6 174,294.2 177.7,296.3 179.7,298.1 182.3,300.9 181.2,303.3 175.3,304.4 167.3,304.3 160,303.5 154.1,302.6 149.5,301.7 145.8,300.9 142.7,300.1 140,299.5 137.5,298.8 135.3,298.1 133.1,297.5 130.8,296.8 128.6,296 126.1,295.1 123.4,294 120.5,292.7 117.3,291.1 114.4,289" fill="#7a00a3"/>
<polygon points="114.8,285.6 116.6,283.7 118,282.7 123,281.9 129.3,282 135,282.6 139.6,283.2 152.3,286.6 165,290 169.2,291.1 172.6,292.6 176.1,294.6 178.4,296.9 180.2,298.9 179.1,301.1 173.5,302.2 166,302 159.2,301.3 153.7,300.4 149.3,299.6 145.8,298.9 142.9,298.2 140.4,297.6 138.1,296.9 135.9,296.3 133.8,295.7 131.8,295.1 129.6,294.3 127.3,293.5 124.8,292.5 122,291.3 119,289.7 116.2,287.8" fill="#7e00ab"/>
<polygon points="116.3,284.5 118,282.7 119.3,281.6 124.1,280.9 130.1,281 135.5,281.5 139.9,282.1 143.5,282.8 150.6,284.7 159.6,287.1 165,288.5 168.2,289.6 171.4,291 174.7,292.9 176.9,295.1 178.4,296.9 177.3,299.1 172.1,300.1 165,299.9 158.5,299.2 153.3,298.4 149.2,297.7 145.8,297 143.1,296.3 140.7,295.7 138.5,295.2 136.5,294.6 134.5,294 132.5,293.4 130.5,292.7 128.3,291.9 125.8,291 123.2,289.8 120.3,288.4 117.7,286.5" fill="#7800c0"/>
<polygon points="117.7,283.3 119.3,281.6 120.4,280.5 125,279.8 130.8,279.9 136,280.4 140.2,281 143.6,281.6 146.4,282.1 154.1,284.1 162,286.2 164.5,287 167.2,288.1 170.3,289.4 173.4,291.2 175.5,293.3 176.9,295.1 175.9,297.1 170.8,298 164.1,297.9 157.9,297.2 153,296.5 149.1,295.8 145.9,295.1 143.3,294.5 141,293.9 138.9,293.4 137,292.9 135.1,292.3 133.2,291.7 131.2,291.1 129.1,290.4 126.8,289.5 124.3,288.4 121.5,287 119,285.3" fill="#7200d7"/>
<polygon points="118.9,282.1 120,280.9 121.5,279.4 125.9,278.7 131.4,278.8 136.4,279.3 140.5,279.8 143.7,280.4 146.4,280.9 148.7,281.4 150.7,281.8 155.8,283.1 157.7,283.6 159.5,284.1 161.5,284.8 163.8,285.6 166.4,286.6 169.3,287.8 172.3,289.5 174.2,291.5 175.5,293.3 174.5,295.2 169.7,296 163.3,295.9 157.4,295.3 152.7,294.6 148.9,293.9 145.9,293.3 143.4,292.7 141.2,292.2 139.2,291.7 137.4,291.2 135.6,290.7 133.8,290.1 131.9,289.5 129.9,288.8 127.7,288 125.2,286.9 122.6,285.6 120.2,284" fill="#6400e8"/>
<polygon points="120,280.9 121.2,279.7 122.5,278.2 126.7,277.6 132,277.7 136.8,278.1 140.7,278.7 143.9,279.2 146.4,279.7 148.6,280.1 150.5,280.5 152.2,280.9 153.9,281.4 155.5,281.8 157.2,282.2 159,282.8 160.9,283.4 163.1,284.1 165.5,285 168.3,286.2 171.2,287.8 173,289.7 174.2,291.5 173.3,293.3 168.7,294.1 162.6,294 156.9,293.4 152.4,292.7 148.8,292.1 146,291.5 143.6,291 141.5,290.5 139.6,290 137.8,289.5 136.1,289 134.4,288.5 132.6,287.9 130.6,287.2 128.5,286.4 126.2,285.5 123.6,284.2 121.3,282.7" fill="#4500ef"/>
<polygon points="121.2,279.7 122.2,278.4 123.5,277.1 127.6,276.4 132.7,276.5 137.3,277 141,277.5 144,278 146.4,278.4 148.5,278.9 150.3,279.2 152,279.6 153.6,280 155.2,280.4 156.8,280.9 158.4,281.4 160.3,281.9 162.4,282.6 164.7,283.5 167.4,284.7 170.1,286.2 171.9,287.9 173,289.7 172.1,291.4 167.7,292.2 161.8,292.1 156.5,291.5 152.2,290.9 148.8,290.3 146,289.7 143.7,289.2 141.7,288.7 139.9,288.3 138.2,287.8 136.6,287.4 134.9,286.9 133.2,286.3 131.3,285.7 129.3,284.9 127,284 124.6,282.8 122.3,281.4" fill="#2600f6"/>
<polygon points="122.2,278.4 123.3,277.2 124.5,275.9 128.4,275.3 133.2,275.4 137.7,275.8 141.2,276.3 144.1,276.8 146.5,277.2 148.4,277.6 150.2,278 151.8,278.3 153.3,278.7 154.8,279.1 156.3,279.5 157.9,280 159.7,280.5 161.7,281.2 163.9,282 166.5,283.1 169.1,284.5 170.7,286.2 171.9,287.9 171,289.5 166.8,290.3 161.2,290.2 156.1,289.7 151.9,289.1 148.7,288.5 146.1,288 143.8,287.5 141.9,287 140.2,286.6 138.6,286.2 137,285.7 135.4,285.3 133.8,284.7 132,284.1 130.1,283.4 127.9,282.6 125.6,281.4 123.4,280" fill="#0700fd"/>
<polygon points="123.3,277.2 124.3,275.9 125.5,274.7 129.2,274.2 133.9,274.2 138.1,274.6 141.5,275.1 144.2,275.5 146.5,275.9 148.4,276.3 150,276.7 151.6,277 153,277.4 154.4,277.7 155.9,278.1 157.4,278.6 159.1,279.1 161,279.7 163.1,280.5 165.6,281.5 168,282.9 169.6,284.4 170.7,286.2 169.8,287.7 165.8,288.4 160.5,288.3 155.6,287.8 151.7,287.2 148.6,286.7 146.1,286.2 144,285.8 142.2,285.3 140.5,284.9 139,284.5 137.5,284.1 135.9,283.7 134.4,283.2 132.7,282.6 130.8,281.9 128.7,281.1 126.5,280 124.4,278.7" fill="#0025ff"/>
<polygon points="124.3,275.9 125.4,274.7 126.5,273.5 130.1,273 134.5,273.1 138.5,273.4 141.8,273.9 144.4,274.3 146.5,274.7 148.3,275.1 149.9,275.4 151.3,275.7 152.7,276.1 154.1,276.4 155.4,276.8 156.9,277.2 158.5,277.7 160.3,278.2 162.3,279 164.6,280 166.9,281.2 168.4,282.7 169.6,284.4 168.7,285.8 164.9,286.5 159.8,286.4 155.2,286 151.5,285.4 148.5,284.9 146.1,284.4 144.1,284 142.4,283.6 140.8,283.2 139.3,282.9 137.9,282.5 136.4,282.1 134.9,281.6 133.3,281.1 131.6,280.4 129.6,279.6 127.4,278.6 125.4,277.4" fill="#0055ff"/>
<polygon points="125.4,274.7 126.5,273.5 127.6,272.4 130.9,271.9 135.1,271.9 138.9,272.3 142,272.7 144.5,273.1 146.5,273.4 148.2,273.8 149.7,274.1 151.1,274.4 152.4,274.7 153.7,275.1 155,275.4 156.4,275.8 157.9,276.2 159.6,276.8 161.5,277.5 163.7,278.4 165.8,279.6 167.2,280.9 168.4,282.7 167.6,284 164,284.6 159.2,284.5 154.8,284.1 151.2,283.6 148.4,283.1 146.2,282.7 144.3,282.3 142.6,281.9 141.1,281.6 139.7,281.2 138.3,280.8 137,280.4 135.5,280 134,279.5 132.3,278.9 130.4,278.2 128.4,277.2 126.5,276.1" fill="#007efe"/>
<polygon points="126.5,273.5 127.7,272.2 128.7,271.2 131.8,270.7 135.8,270.8 139.4,271.1 142.3,271.5 144.6,271.9 146.5,272.2 148.1,272.5 149.6,272.8 150.8,273.1 152.1,273.4 153.3,273.7 154.5,274 155.8,274.4 157.2,274.8 158.8,275.3 160.6,276 162.7,276.8 164.7,277.9 166,279.2 167.2,280.9 166.5,282.2 163,282.8 158.5,282.7 154.3,282.3 151,281.8 148.3,281.4 146.2,280.9 144.4,280.6 142.8,280.2 141.4,279.9 140.1,279.6 138.8,279.2 137.5,278.9 136.2,278.4 134.7,278 133.1,277.4 131.3,276.7 129.4,275.8 127.5,274.7" fill="#00a0fb"/>
<polygon points="127.7,272.2 128.7,271.2 129.9,270.1 132.8,269.6 136.5,269.7 139.9,270 142.6,270.3 144.8,270.7 146.6,271 148.1,271.3 149.4,271.6 150.6,271.8 151.7,272.1 152.9,272.4 154,272.7 155.2,273 156.5,273.4 158,273.9 159.7,274.5 161.6,275.2 163.5,276.2 164.7,277.4 166,279.2 165.3,280.3 162,280.9 157.8,280.8 153.9,280.4 150.7,280 148.2,279.6 146.2,279.2 144.6,278.9 143.1,278.5 141.8,278.2 140.5,277.9 139.3,277.6 138.1,277.2 136.8,276.9 135.4,276.4 133.9,275.9 132.2,275.3 130.4,274.4 128.7,273.4" fill="#00c1f9"/>
<polygon points="129,271 129.9,270.1 131.2,268.9 133.9,268.5 137.3,268.6 140.4,268.8 142.9,269.2 144.9,269.5 146.6,269.8 147.9,270 149.2,270.3 150.3,270.5 151.3,270.8 152.4,271 153.4,271.3 154.6,271.6 155.8,272 157.1,272.4 158.7,272.9 160.4,273.6 162.1,274.6 163.2,275.6 164.7,277.4 164,278.5 161,279 157,278.9 153.4,278.6 150.5,278.2 148.1,277.8 146.3,277.4 144.7,277.1 143.3,276.8 142.1,276.5 140.9,276.2 139.8,275.9 138.7,275.6 137.5,275.3 136.2,274.9 134.8,274.4 133.2,273.8 131.5,273 129.8,272.1" fill="#00e3f6"/>
<polygon points="130.3,269.8 131.2,268.9 132.6,267.8 135.1,267.5 138.2,267.5 141,267.8 143.3,268 145.1,268.3 146.6,268.6 147.8,268.8 148.9,269.1 149.9,269.3 150.9,269.5 151.8,269.7 152.8,270 153.8,270.2 154.9,270.6 156.1,270.9 157.5,271.4 159.1,272.1 160.6,272.9 161.6,273.8 163.2,275.6 162.6,276.6 159.8,277 156.2,277 152.8,276.7 150.2,276.3 148,276 146.3,275.6 144.9,275.4 143.6,275.1 142.5,274.8 141.4,274.6 140.3,274.3 139.3,274 138.2,273.7 137,273.3 135.7,272.9 134.3,272.4 132.7,271.6 131.2,270.8" fill="#01f1d9"/>
<polygon points="131.9,268.6 132.6,267.8 134.4,266.8 136.5,266.5 139.2,266.5 141.7,266.7 143.7,267 145.3,267.2 146.6,267.4 147.7,267.7 148.7,267.9 149.5,268 150.4,268.2 151.2,268.4 152,268.6 152.9,268.9 153.8,269.1 154.9,269.5 156.1,269.9 157.5,270.4 158.8,271.1 160.6,272.9 161.6,273.8 161,274.7 158.5,275.1 155.2,275 152.2,274.8 149.8,274.4 147.9,274.1 146.3,273.8 145.1,273.6 143.9,273.3 142.9,273.1 141.9,272.9 141,272.6 140,272.4 139,272.1 138,271.8 136.8,271.4 135.5,270.9 134,270.3 132.7,269.5" fill="#03f2ac"/>
<polygon points="133.8,267.5 134.4,266.8 136.8,265.9 138.5,265.6 140.7,265.7 142.7,265.9 144.3,266.1 145.6,266.2 146.6,266.4 147.5,266.6 148.2,266.7 149,266.9 150.3,267.2 150.9,267.4 151.6,267.6 152.4,267.8 153.2,268 154.2,268.4 155.3,268.8 156.4,269.4 158.8,271.1 159.7,272 159.1,272.7 156.9,273 154.1,273 151.5,272.8 149.4,272.5 147.7,272.2 146.4,272 145.3,271.8 144.3,271.6 143.4,271.4 142.5,271.1 141.7,270.9 140.9,270.7 140,270.5 139.1,270.2 138.1,269.9 136.9,269.4 135.6,268.9 134.4,268.2" fill="#05f37f"/>
<polygon points="136.3,266.4 136.8,265.9 138.5,265.6 142.9,265.6 143.9,265.6 144.8,265.7 145.5,265.8 146.1,265.8 146.6,265.9 147,266 147.3,266.1 147.7,266.1 147.9,266.2 148.5,266.3 149.2,266.5 149.6,266.6 150,266.8 154.2,268.4 155.3,268.8 156.4,269.4 157,270 156.6,270.6 154.8,270.8 152.6,270.8 150.5,270.6 148.8,270.4 147.5,270.2 146.4,270 145.5,269.8 144,269.5 143.4,269.4 142.7,269.2 142,269 141.3,268.8 140.6,268.6 139.8,268.3 138.8,268 137.8,267.6 136.8,267.1" fill="#07f351"/>
<polygon points="48.2,305.3 54,302.7 59.5,300.7 67.5,299.5 86.4,297.8 89.5,297.5 92.5,297.4 95.4,297.3 98.2,297.4 100.9,297.6 103.4,298 105.8,298.5 108,299.1 109.9,299.8 111.6,300.6 112.9,301.5 113.9,302.4 114.5,303.5 114.7,304.6 114.3,305.6 113.5,306.7 112.2,307.8 110.4,308.7 108.1,309.5 105.5,310.2 102.7,310.7 99.7,311 96.6,311.2 93.6,311.2 90.5,311.1 68.4,310 59.1,309.5 54,307.6" fill="#78009f"/>
<polygon points="48.2,305.3 56.9,301.3 59.5,300.7 64.9,299.7 84.2,297.1 87.3,296.9 90.2,296.7 92.9,296.7 95.4,296.7 97.8,296.9 100.1,297.1 102.3,297.4 104.3,297.8 106.1,298.3 107.8,298.9 109.9,299.8 111.6,300.6 112.9,301.5 113.9,302.4 114.5,303.5 114.7,304.6 114.3,305.6 113.5,306.7 112.2,307.8 110.4,308.7 108.1,309.5 105.5,310.2 102.7,310.7 99.7,311 96.6,311.2 93.6,311.2 90.5,311.1 68.4,310 59.1,309.5 54,307.6" fill="#78009f"/>
<polygon points="54,303.6 56.9,301.3 63.1,299.9 78.5,296.9 81.8,296.3 84.8,295.9 87.8,295.7 90.5,295.6 93.1,295.6 95.4,295.7 97.6,295.9 99.7,296.1 101.6,296.5 103.3,296.9 104.9,297.3 106.3,297.8 107.5,298.4 108.5,299.1 110.3,300.3 111.1,301.1 111.6,302 111.7,302.9 111.4,303.8 110.7,304.7 109.5,305.6 108,306.4 106.1,307.1 104,307.6 101.6,308.1 99.1,308.3 96.5,308.5 93.9,308.6 91.1,308.6 88.2,308.6 85.1,308.5 81.8,308.2 66.2,306.8 57.2,305.8" fill="#7a00a2"/>
<polygon points="59.6,301.9 63.1,299.9 76.2,296.4 79.3,295.6 82.3,295.1 85.3,294.7 88.2,294.5 90.8,294.4 93.2,294.4 95.5,294.6 97.5,294.8 99.4,295 101.1,295.4 102.6,295.7 104,296.1 105.3,296.6 106.3,297.2 107.2,297.8 108.5,299.1 109.2,299.8 109.6,300.6 109.7,301.3 109.4,302.1 108.8,302.9 107.8,303.6 106.5,304.3 104.8,304.9 103,305.4 100.9,305.8 98.7,306.1 96.4,306.3 94,306.5 91.5,306.6 88.7,306.6 85.8,306.5 82.6,306.3 79.3,305.9 64.2,303.6" fill="#7d00ab"/>
<polygon points="68.6,300.1 70.3,298.6 72.1,297.2 74.2,296 76.9,295 79.9,294.2 82.8,293.7 85.7,293.4 88.5,293.2 91,293.1 93.3,293.2 95.5,293.4 97.4,293.6 99.1,293.8 100.7,294.1 102.1,294.5 103.4,294.9 104.5,295.4 105.4,295.9 106.1,296.4 106.7,297 107.8,298.4 108.1,299.1 108.2,299.8 108,300.5 107.4,301.1 106.5,301.8 105.3,302.4 103.9,302.9 102.2,303.4 100.4,303.8 98.5,304.1 96.4,304.4 94.1,304.5 91.7,304.7 89.1,304.7 86.2,304.6 83.2,304.4 80,304.1 76.8,303.5 73.7,302.6 70.8,301.5" fill="#7900bf"/>
<polygon points="71.2,298.5 72.1,297.2 73.1,295.7 75,294.5 77.6,293.6 80.4,292.9 83.3,292.4 86.1,292.1 88.7,291.9 91.2,291.9 93.4,291.9 95.5,292.1 97.3,292.3 98.9,292.6 100.4,292.9 101.7,293.2 102.8,293.6 103.8,294 104.7,294.5 105.3,295 105.8,295.5 106.7,297 107,297.6 107,298.2 106.8,298.8 106.3,299.4 105.5,300 104.5,300.6 103.2,301.1 101.7,301.5 100.1,301.9 98.3,302.2 96.3,302.5 94.2,302.7 91.9,302.8 89.4,302.9 86.7,302.8 83.7,302.7 80.7,302.3 77.6,301.7 74.7,300.9 72.4,299.8" fill="#7300d5"/>
<polygon points="72.5,297 73.1,295.7 73.9,294.2 75.7,293.1 78.1,292.2 80.9,291.5 83.7,291 86.4,290.7 89,290.6 91.4,290.6 93.5,290.6 95.5,290.8 97.2,291 98.7,291.3 100.1,291.6 101.3,291.9 102.4,292.3 103.3,292.7 104,293.1 104.6,293.6 105,294.1 105.8,295.5 106,296.1 106.1,296.6 105.9,297.2 105.4,297.8 104.7,298.3 103.8,298.8 102.6,299.3 101.3,299.7 99.8,300.1 98.1,300.4 96.3,300.6 94.3,300.9 92.1,301 89.7,301.1 87,301.1 84.2,300.9 81.2,300.6 78.2,300 75.5,299.2 73.4,298.2" fill="#6700e8"/>
<polygon points="73.3,295.4 73.9,294.2 74.7,292.7 76.3,291.6 78.7,290.8 81.3,290.1 84,289.6 86.7,289.4 89.2,289.2 91.5,289.2 93.6,289.3 95.5,289.5 97.1,289.7 98.6,289.9 99.9,290.2 101,290.6 102,290.9 102.8,291.3 103.5,291.7 104,292.1 104.4,292.6 104.6,293 105.3,294.6 105.3,295.1 105.1,295.6 104.7,296.1 104,296.6 103.2,297.1 102.1,297.5 100.9,297.9 99.5,298.3 98,298.6 96.2,298.9 94.3,299.1 92.2,299.2 89.9,299.3 87.3,299.3 84.6,299.2 81.7,298.9 78.8,298.3 76.2,297.6 74.2,296.6" fill="#4900ee"/>
<polygon points="74.1,293.8 75.3,291.2 76.9,290.2 79.2,289.3 81.8,288.7 84.4,288.3 87,288 89.4,287.9 91.7,287.9 93.7,288 95.4,288.1 97,288.4 98.4,288.6 99.6,288.9 100.7,289.2 101.6,289.5 102.4,289.9 103,290.3 103.5,290.7 103.8,291.1 104,291.5 104.6,293 104.6,293.5 104.5,294 104.1,294.5 103.5,294.9 102.7,295.4 101.7,295.8 100.6,296.2 99.3,296.5 97.8,296.8 96.2,297.1 94.4,297.3 92.4,297.5 90.1,297.6 87.7,297.6 85,297.4 82.2,297.1 79.4,296.6 76.9,295.9 74.9,295" fill="#2b00f5"/>
<polygon points="74.8,292.3 75.5,290.7 76,289.7 77.5,288.7 79.7,287.9 82.2,287.3 84.8,286.9 87.3,286.7 89.7,286.6 91.8,286.6 93.7,286.6 95.4,286.8 96.9,287 98.3,287.2 99.4,287.5 100.4,287.8 101.3,288.1 102,288.5 102.6,288.8 103,289.2 103.3,289.6 103.5,290 104,291.5 104,292 103.9,292.4 103.5,292.9 103,293.3 102.3,293.7 101.4,294.1 100.3,294.5 99.1,294.8 97.7,295.1 96.2,295.3 94.4,295.6 92.5,295.7 90.3,295.8 88,295.8 85.4,295.7 82.7,295.4 80,295 77.5,294.3 75.6,293.4" fill="#0c00fc"/>
<polygon points="75.5,290.7 76,289.7 76.6,288.2 78.1,287.2 80.3,286.5 82.7,285.9 85.2,285.5 87.6,285.3 89.9,285.2 91.9,285.2 93.8,285.3 95.4,285.5 96.9,285.7 98.1,285.9 99.2,286.1 100.2,286.4 101,286.7 101.6,287.1 102.2,287.4 102.6,287.8 102.9,288.1 103,288.5 103.5,290 103.5,290.4 103.4,290.9 103,291.3 102.5,291.7 101.9,292.1 101,292.4 100,292.8 98.9,293.1 97.6,293.4 96.1,293.6 94.5,293.8 92.6,294 90.5,294.1 88.3,294.1 85.8,294 83.2,293.7 80.5,293.3 78.1,292.6 76.3,291.8" fill="#001cff"/>
<polygon points="76.2,289.2 76.6,288.2 77.3,286.6 78.8,285.8 80.8,285.1 83.2,284.5 85.6,284.1 87.9,283.9 90.1,283.9 92.1,283.9 93.9,283.9 95.4,284.1 96.8,284.3 98,284.5 99,284.8 99.9,285.1 100.7,285.3 101.3,285.6 101.8,286 102.2,286.3 102.5,286.6 102.6,287 103,288.5 103,288.9 102.9,289.3 102.6,289.7 102.1,290 101.5,290.4 100.7,290.8 99.8,291.1 98.7,291.4 97.5,291.6 96.1,291.9 94.5,292.1 92.7,292.2 90.8,292.3 88.6,292.4 86.2,292.2 83.7,292 81.1,291.6 78.7,291 77,290.2" fill="#004cff"/>
<polygon points="76.9,287.6 77.3,286.6 78.1,285.1 79.5,284.3 81.5,283.6 83.7,283.1 86,282.8 88.2,282.6 90.3,282.5 92.2,282.5 93.9,282.6 95.4,282.7 96.7,282.9 97.9,283.1 98.8,283.4 99.7,283.6 100.4,283.9 101,284.2 101.4,284.5 101.8,284.8 102,285.1 102.2,285.5 102.6,287 102.6,287.3 102.5,287.7 102.2,288.1 101.7,288.4 101.2,288.8 100.4,289.1 99.6,289.4 98.5,289.7 97.4,289.9 96,290.2 94.5,290.4 92.8,290.5 91,290.6 88.9,290.6 86.6,290.5 84.2,290.3 81.7,289.9 79.4,289.4 77.7,288.6" fill="#0077fe"/>
<polygon points="77.7,286.1 78.1,285.1 78.9,283.6 80.2,282.9 82.1,282.2 84.3,281.7 86.5,281.4 88.6,281.2 90.5,281.1 92.4,281.2 94,281.2 95.4,281.4 96.7,281.6 97.7,281.8 98.7,282 99.4,282.2 100.1,282.5 100.7,282.8 101.1,283.1 101.4,283.3 101.6,283.6 101.8,283.9 102.2,285.5 102.2,285.8 102,286.1 101.8,286.5 101.4,286.8 100.8,287.1 100.2,287.4 99.3,287.7 98.4,288 97.3,288.2 96,288.5 94.6,288.6 93,288.8 91.2,288.9 89.2,288.9 87,288.8 84.7,288.6 82.3,288.2 80.2,287.7 78.5,287" fill="#0098fc"/>
<polygon points="78.6,284.5 78.9,283.6 79.9,282.1 81.1,281.4 82.9,280.8 84.9,280.4 86.9,280.1 88.9,279.9 90.8,279.8 92.5,279.8 94,279.9 95.4,280 96.6,280.2 97.6,280.4 98.5,280.6 99.2,280.8 99.8,281.1 100.3,281.3 100.8,281.6 101.1,281.9 101.3,282.1 101.4,282.4 101.8,283.9 101.8,284.3 101.6,284.6 101.4,284.9 101,285.2 100.5,285.5 99.9,285.8 99.1,286.1 98.2,286.3 97.2,286.6 96,286.8 94.6,286.9 93.1,287.1 91.4,287.2 89.5,287.2 87.4,287.1 85.2,286.9 83,286.5 81,286 79.3,285.4" fill="#00b9f9"/>
<polygon points="79.6,283 79.9,282.1 81.1,280.7 82.2,280 83.7,279.4 85.5,279 87.4,278.7 89.2,278.5 91,278.4 92.7,278.4 94.1,278.5 95.4,278.6 96.5,278.8 97.5,279 98.3,279.2 99,279.4 99.6,279.6 100,279.9 100.4,280.1 100.7,280.4 100.9,280.6 101,280.9 101.4,282.4 101.4,282.7 101.3,283 101,283.3 100.7,283.6 100.2,283.9 99.6,284.1 98.9,284.4 98,284.6 97,284.9 95.9,285.1 94.6,285.2 93.2,285.4 91.6,285.4 89.8,285.4 87.9,285.4 85.8,285.2 83.8,284.8 81.9,284.4 80.3,283.7" fill="#00daf7"/>
<polygon points="80.9,281.4 81.1,280.7 82.5,279.2 83.3,278.6 84.6,278 86.2,277.6 87.9,277.3 89.6,277.1 91.3,277.1 92.8,277.1 94.2,277.2 95.4,277.3 96.4,277.4 97.3,277.6 98.1,277.8 98.8,278 99.3,278.2 99.8,278.4 100.1,278.7 100.4,278.9 100.5,279.1 100.6,279.4 101,280.9 101,281.2 100.9,281.4 100.7,281.7 100.4,282 99.9,282.3 99.4,282.5 98.7,282.8 97.9,283 97,283.2 95.9,283.4 94.7,283.5 93.3,283.6 91.8,283.7 90.1,283.7 88.3,283.6 86.5,283.4 84.6,283.1 82.9,282.7 81.5,282.1" fill="#01f0e7"/>
<polygon points="82.3,279.8 82.5,279.2 83.9,277.7 84.5,277.1 85.6,276.6 86.9,276.2 88.4,276 90,275.8 91.5,275.7 93,275.7 94.2,275.8 95.4,275.9 96.4,276.1 97.2,276.2 97.9,276.4 98.5,276.6 99,276.8 99.5,277 99.8,277.2 100,277.4 100.2,277.6 100.3,277.9 100.6,279.4 100.6,279.6 100.5,279.9 100.3,280.1 100,280.4 99.6,280.6 99.1,280.9 98.5,281.1 97.7,281.3 96.8,281.5 95.8,281.7 94.7,281.8 93.4,281.9 92,282 90.4,282 88.8,281.9 87.1,281.7 85.5,281.4 84,281 82.9,280.4" fill="#02f1ba"/>
<polygon points="83.8,278.3 83.9,277.7 85.2,276.2 85.7,275.7 86.5,275.2 87.6,274.9 89,274.6 90.4,274.4 91.8,274.4 93.1,274.4 94.3,274.4 95.4,274.5 96.3,274.7 97.1,274.8 97.8,275 98.3,275.2 98.8,275.4 99.2,275.5 99.5,275.7 99.7,275.9 99.8,276.1 99.9,276.4 100.3,277.9 100.3,278.1 100.2,278.3 100,278.6 99.7,278.8 99.3,279 98.9,279.2 98.3,279.5 97.6,279.7 96.8,279.8 95.8,280 94.7,280.1 93.5,280.2 92.2,280.3 90.8,280.3 89.3,280.2 87.8,280 86.4,279.7 85.2,279.3 84.3,278.8" fill="#04f28e"/>
<polygon points="85.2,276.7 85.2,276.2 86.4,274.7 86.7,274.2 87.4,273.9 88.3,273.5 89.5,273.3 90.8,273.1 92,273 93.3,273 94.4,273.1 95.4,273.2 96.2,273.3 97,273.4 97.6,273.6 98.1,273.7 98.5,273.9 98.9,274.1 99.2,274.3 99.3,274.4 99.5,274.6 99.6,274.8 99.9,276.4 99.9,276.6 99.8,276.8 99.7,277 99.4,277.2 99.1,277.4 98.6,277.6 98.1,277.8 97.4,278 96.7,278.2 95.8,278.3 94.8,278.4 93.7,278.5 92.4,278.6 91.1,278.6 89.8,278.4 88.4,278.3 87.2,278 86.2,277.6 85.5,277.2" fill="#06f361"/>
<polygon points="86.3,275.1 86.4,274.7 87.3,273.2 87.6,272.8 88.2,272.4 89,272.1 90,271.9 91.1,271.7 92.3,271.7 93.4,271.6 94.5,271.7 95.4,271.8 96.2,271.9 96.8,272 97.4,272.2 97.9,272.3 98.3,272.5 98.6,272.6 98.8,272.8 99,273 99.1,273.1 99.2,273.3 99.6,274.8 99.5,275 99.5,275.2 99.3,275.4 99.1,275.6 98.8,275.8 98.4,276 97.9,276.2 97.3,276.3 96.5,276.5 95.7,276.6 94.8,276.8 93.8,276.8 92.7,276.9 91.4,276.8 90.2,276.7 89,276.6 88,276.3 87.2,276 86.6,275.6" fill="#08f435"/>
<polygon points="87.3,273.6 87.3,273.2 88.2,271.7 88.5,271.3 88.9,271 89.6,270.7 90.5,270.5 91.5,270.4 92.6,270.3 93.6,270.3 94.5,270.3 95.3,270.4 96.1,270.5 96.7,270.6 97.2,270.8 97.6,270.9 98,271 98.3,271.2 98.5,271.3 98.7,271.5 98.8,271.6 98.8,271.8 99.2,273.3 99.2,273.5 99.1,273.7 99,273.8 98.8,274 98.5,274.2 98.1,274.4 97.7,274.5 97.1,274.7 96.5,274.8 95.7,274.9 94.8,275.1 93.9,275.1 92.9,275.1 91.8,275.1 90.7,275 89.6,274.9 88.7,274.6 88,274.3 87.6,274" fill="#0bf50a"/>
<polygon points="88.2,272 88.2,271.7 89,270.2 89.2,269.9 89.6,269.6 90.2,269.3 91,269.1 91.9,269 92.8,268.9 93.8,268.9 94.6,269 95.3,269 96,269.1 96.5,269.2 97,269.3 97.4,269.5 97.7,269.6 98,269.7 98.2,269.9 98.3,270 98.4,270.1 98.5,270.3 98.8,271.8 98.8,271.9 98.8,272.1 98.7,272.3 98.5,272.4 98.2,272.6 97.9,272.7 97.4,272.9 96.9,273 96.3,273.2 95.7,273.3 94.9,273.4 94,273.4 93.1,273.4 92.1,273.4 91.1,273.3 90.2,273.2 89.4,272.9 88.8,272.7 88.4,272.4" fill="#27f508"/>
<polygon points="89,270.5 89,270.2 89.8,268.7 89.9,268.4 90.3,268.2 90.8,267.9 91.5,267.8 92.3,267.6 93.1,267.6 93.9,267.6 94.7,267.6 95.3,267.7 95.9,267.7 96.4,267.8 96.8,267.9 97.2,268 97.5,268.1 97.7,268.3 97.9,268.4 98,268.5 98.1,268.6 98.1,268.7 98.5,270.3 98.5,270.4 98.4,270.6 98.3,270.7 98.1,270.8 97.9,271 97.6,271.1 97.2,271.2 96.8,271.4 96.2,271.5 95.6,271.6 94.9,271.7 94.2,271.7 93.3,271.7 92.4,271.7 91.6,271.6 90.8,271.5 90.1,271.3 89.5,271 89.2,270.8" fill="#44f506"/>
<polygon points="89.8,268.7 90.5,267.1 90.6,266.9 90.9,266.7 91.4,266.5 92,266.4 92.7,266.3 93.4,266.2 94.1,266.2 94.8,266.2 95.3,266.3 95.8,266.4 96.3,266.4 96.6,266.5 96.9,266.6 97.2,266.7 97.4,266.8 97.5,266.9 97.6,267 97.7,267.1 97.7,267.2 98.1,268.7 98.1,268.9 98.1,269 98,269.1 97.8,269.2 97.6,269.4 97.3,269.5 97,269.6 96.6,269.7 96.1,269.8 95.6,269.9 95,270 94.3,270 93.5,270 92.8,270 92,269.9 91.3,269.8 90.7,269.6 90.2,269.4 89.9,269.2 89.8,268.9" fill="#60f504"/>
<polygon points="90.5,267.1 91.2,265.6 91.3,265.4 91.6,265.3 92,265.1 92.5,265 93.1,264.9 93.7,264.9 94.3,264.9 94.8,264.9 95.3,264.9 95.8,265 96.1,265 96.4,265.1 96.7,265.2 96.9,265.3 97,265.4 97.2,265.4 97.3,265.5 97.3,265.6 97.3,265.7 97.7,267.2 97.7,267.3 97.7,267.4 97.6,267.5 97.5,267.6 97.3,267.8 97.1,267.9 96.8,268 96.4,268.1 96,268.1 95.5,268.2 95,268.3 94.4,268.3 93.8,268.3 93.1,268.3 92.5,268.2 91.8,268.1 91.3,268 90.9,267.8 90.6,267.6 90.5,267.4" fill="#7df502"/>
<polygon points="91.2,265.6 91.9,264.1 92,264 92.2,263.8 92.5,263.7 93,263.6 93.5,263.5 94,263.5 94.5,263.5 94.9,263.5 95.3,263.6 95.7,263.6 96,263.6 96.2,263.7 96.4,263.8 96.6,263.8 96.7,263.9 96.8,264 96.9,264 96.9,264.1 97,264.2 97.3,265.7 97.3,265.8 97.3,265.9 97.2,266 97.1,266.1 97,266.1 96.8,266.2 96.6,266.3 96.3,266.4 95.9,266.5 95.5,266.5 95,266.6 94.5,266.6 94,266.6 93.4,266.6 92.9,266.6 92.4,266.5 91.9,266.3 91.5,266.2 91.3,266 91.2,265.8" fill="#99f500"/>
<polygon points="91.9,264.1 92.6,262.6 92.7,262.5 92.9,262.4 93.2,262.3 93.5,262.2 93.9,262.2 94.3,262.1 94.7,262.1 95,262.2 95.3,262.2 95.6,262.2 95.8,262.3 96,262.3 96.1,262.4 96.2,262.4 96.3,262.5 96.4,262.5 96.5,262.6 96.5,262.6 97,264.2 96.9,264.2 96.9,264.3 96.9,264.4 96.8,264.5 96.7,264.5 96.5,264.6 96.3,264.7 96.1,264.7 95.8,264.8 95.5,264.9 95.1,264.9 94.7,264.9 94.2,264.9 93.8,264.9 93.3,264.9 92.9,264.8 92.5,264.7 92.2,264.6 92,264.4 91.9,264.3" fill="#acf600"/>
<polygon points="92.6,262.6 93.4,261.1 93.5,261 93.6,260.9 93.8,260.9 94.1,260.8 94.4,260.8 94.6,260.8 94.9,260.8 95.1,260.8 95.3,260.8 95.5,260.9 95.6,260.9 95.7,260.9 95.8,261 95.9,261 95.9,261 96,261.1 96,261.1 96,261.1 96.5,262.6 96.5,262.7 96.5,262.7 96.5,262.8 96.5,262.8 96.4,262.9 96.3,262.9 96.2,263 96,263 95.9,263.1 95.7,263.1 95.4,263.2 95.2,263.2 94.8,263.2 94.5,263.2 94.1,263.2 93.8,263.2 93.4,263.1 93.1,263.1 92.9,263 92.7,262.9 92.6,262.7" fill="#bcf800"/>
<polygon points="93.4,261.1 94.6,259.6 94.6,259.6 94.7,259.6 94.8,259.5 94.9,259.5 95.1,259.5 95.2,259.5 95.3,259.5 95.4,259.6 95.4,259.6 95.4,259.6 95.4,259.6 95.5,259.6 96,261.1 96,261.2 96,261.2 96,261.2 96,261.3 95.9,261.3 95.8,261.3 95.8,261.4 95.7,261.4 95.5,261.4 95.4,261.4 95.2,261.5 95,261.5 94.8,261.5 94.5,261.5 94.3,261.5 94.1,261.4 93.8,261.4 93.6,261.4 93.5,261.3 93.4,261.2" fill="#ccfa00"/>
<polygon points="111.3,308.7 111.5,307.8 112.3,306.9 113.3,306.2 114.1,305.7 114.9,305.3 115.5,305 116.1,304.7 116.7,304.5 117.2,304.2 118.4,303.7 119,303.5 119.8,303.2 120.7,302.9 121.9,302.5 123.5,302.1 125.5,301.7 127.9,301.4 130,301.7 131.6,302.2 133.2,302.8 134.9,303.4 136.8,304.1 139.1,305 141.8,306.1 145.5,307.7 150.6,310 156.5,313.5 156.9,316.8 148.8,317.4 138.6,315.9 131.4,314.4 126.5,313.3 123,312.4 120.2,311.7 117.9,311.1 115.9,310.6 114,310 112.2,309.5" fill="#78009f"/>
<polygon points="111.3,308.7 111.5,307.8 112.4,306 113.2,305.2 114,304.6 114.8,304.1 115.5,303.8 116.1,303.5 117.2,303 118.1,302.6 118.7,302.4 119.2,302.1 119.9,301.9 120.8,301.6 121.8,301.2 123.3,300.9 125.2,300.5 127.4,300.3 129.3,300.5 130.8,301 132.2,301.5 133.8,302.1 135.5,302.7 137.5,303.5 139.9,304.5 143.1,305.9 147.2,307.9 156.5,313.5 156.9,316.8 148.8,317.4 138.6,315.9 131.4,314.4 126.5,313.3 123,312.4 120.2,311.7 117.9,311.1 115.9,310.6 114,310 112.2,309.5" fill="#78009f"/>
<polygon points="112.1,306.9 112.4,306 113,304.3 113.7,303.5 114.6,303 115.3,302.6 115.9,302.2 116.5,302 117,301.7 117.5,301.5 118.4,301.1 118.9,300.9 119.4,300.7 120,300.5 120.8,300.2 121.8,299.9 123.1,299.5 124.9,299.2 127,299 128.8,299.2 130.2,299.6 131.6,300.1 133,300.6 134.5,301.2 136.3,302 138.6,302.9 141.4,304.2 144.9,306 148.4,308.4 151.7,310.8 151.4,313.4 145,314.1 136.6,313 130.4,311.8 126,310.9 122.8,310.1 120.3,309.5 118.2,309 116.3,308.5 114.6,308.1 113,307.6" fill="#7a00a2"/>
<polygon points="112.7,305.1 113.2,303.4 113.5,302.6 114.2,301.9 115,301.4 115.7,301 116.3,300.7 116.8,300.4 117.3,300.2 117.7,300 118.1,299.9 119,299.5 119.5,299.3 120.1,299.1 120.8,298.8 121.8,298.5 123,298.2 124.7,297.8 126.7,297.6 128.4,297.8 129.7,298.2 131,298.7 132.3,299.2 133.8,299.8 135.5,300.4 137.5,301.3 140,302.5 143.1,304.1 145.9,306.3 148.4,308.4 147.8,310.6 142.4,311.3 135.2,310.6 129.7,309.6 125.7,308.8 122.7,308.1 120.4,307.6 118.4,307.1 116.7,306.6 115.1,306.2 113.5,305.8" fill="#7e00ab"/>
<polygon points="113.2,303.4 113.6,301.7 113.9,300.9 114.6,300.3 115.3,299.8 116,299.4 116.6,299.1 117.1,298.9 117.5,298.7 117.9,298.5 118.7,298.2 119.6,297.8 120.2,297.6 120.9,297.4 121.8,297.1 123,296.8 124.5,296.4 126.5,296.2 128.1,296.4 129.3,296.8 130.5,297.3 131.8,297.7 133.2,298.3 134.7,298.9 136.6,299.7 138.8,300.8 141.6,302.3 143.9,304.2 145.9,306.3 145.2,308.2 140.5,308.9 134.1,308.3 129.1,307.4 125.4,306.7 122.7,306.1 120.4,305.6 118.6,305.2 116.9,304.8 115.4,304.4 114,304" fill="#7900c0"/>
<polygon points="113.6,301.7 114,300 114.2,299.3 114.9,298.7 115.7,298.2 116.3,297.9 116.8,297.6 117.3,297.4 118.1,297 118.9,296.7 119.3,296.5 120.2,296.2 120.9,295.9 121.7,295.7 122.9,295.4 124.4,295.1 126.2,294.9 127.8,295 129,295.4 130.1,295.8 131.3,296.3 132.6,296.8 134,297.4 135.8,298.1 137.8,299.1 140.2,300.5 142.1,302.2 143.9,304.2 143,305.9 138.9,306.6 133.2,306.1 128.6,305.4 125.2,304.8 122.6,304.2 120.5,303.8 118.7,303.4 117.2,303 115.7,302.6 114.3,302.3" fill="#7200d6"/>
<polygon points="114,300 114.3,298.3 114.6,297.6 115.2,297.1 115.9,296.6 116.5,296.3 117,296 117.9,295.7 118.3,295.5 118.6,295.4 119.4,295.1 120.3,294.7 120.9,294.5 121.7,294.2 122.8,293.9 124.3,293.6 126,293.4 127.6,293.6 128.7,293.9 129.8,294.4 130.9,294.8 132.1,295.3 133.4,295.8 135,296.6 136.9,297.5 139.1,298.8 140.6,300.3 142.1,302.2 141.2,303.7 137.5,304.4 132.4,304 128.2,303.4 125,302.9 122.5,302.4 120.5,302 118.9,301.6 117.4,301.2 116,300.9 114.6,300.5" fill="#6600e8"/>
<polygon points="114.3,298.3 114.6,296.6 114.9,296 115.5,295.4 116.2,295 116.8,294.7 117.3,294.5 118.1,294.1 118.4,294 118.8,293.8 119.1,293.7 119.9,293.4 120.4,293.2 121,293 121.7,292.8 122.7,292.5 124.1,292.2 125.8,292 127.3,292.1 128.4,292.5 129.4,292.9 130.5,293.3 131.6,293.8 132.9,294.3 134.3,295 136.1,295.9 138,297 139.2,298.4 140.6,300.3 139.6,301.6 136.3,302.3 131.7,302 127.8,301.5 124.8,301 122.5,300.6 120.6,300.2 119,299.8 117.5,299.5 116.2,299.2 114.9,298.8" fill="#4700ef"/>
<polygon points="114.6,296.6 114.9,295 115.2,294.4 115.8,293.8 116.4,293.4 117,293.2 117.5,292.9 118.2,292.6 118.6,292.5 119.6,292.1 120,291.9 120.4,291.8 121,291.6 121.7,291.3 122.7,291.1 124,290.8 125.7,290.6 127.1,290.7 128.1,291.1 129.1,291.4 130.1,291.8 131.2,292.2 132.3,292.8 133.7,293.4 135.3,294.2 137,295.3 138,296.6 139.2,298.4 138.2,299.6 135.2,300.2 131.1,300 127.4,299.6 124.6,299.1 122.4,298.7 120.6,298.4 119.1,298.1 117.7,297.8 116.4,297.5 115.2,297.1" fill="#2800f6"/>
<polygon points="114.9,295 115.2,293.3 115.4,292.7 116.1,292.2 116.7,291.9 117.2,291.6 117.7,291.4 118.4,291.1 119,290.8 119.7,290.6 120,290.4 120.5,290.3 121,290.1 121.7,289.9 122.6,289.6 123.9,289.3 125.5,289.2 126.9,289.3 127.8,289.6 128.8,289.9 129.7,290.3 130.7,290.7 131.8,291.2 133.1,291.8 134.6,292.6 136,293.6 136.8,294.7 138,296.6 136.9,297.6 134.2,298.2 130.4,298.1 127.1,297.7 124.5,297.3 122.4,296.9 120.7,296.6 119.2,296.3 117.9,296 116.6,295.8 115.5,295.5" fill="#0a00fd"/>
<polygon points="115.2,293.3 115.4,291.7 115.7,291.1 116.3,290.6 116.9,290.3 117.4,290 117.8,289.8 118.2,289.7 118.8,289.4 119.1,289.3 119.7,289.1 120.5,288.8 121,288.6 121.7,288.4 122.6,288.1 123.8,287.9 125.3,287.7 126.7,287.8 127.6,288.1 128.5,288.5 129.4,288.8 130.3,289.2 131.4,289.7 132.5,290.2 133.8,291 135.1,291.9 136.8,294.7 135.8,295.7 133.3,296.2 129.9,296.2 126.8,295.9 124.3,295.5 122.3,295.2 120.7,294.9 119.3,294.6 118,294.3 116.8,294.1 115.7,293.8" fill="#0021ff"/>
<polygon points="115.4,291.7 115.7,290 116,289.5 116.5,289.1 117.1,288.7 117.6,288.5 118.3,288.1 119,287.9 119.2,287.8 120.2,287.4 120.5,287.3 121,287.1 121.7,286.9 122.5,286.7 123.7,286.4 125.2,286.3 126.5,286.4 127.3,286.7 128.2,287 129,287.3 129.9,287.7 130.9,288.1 132,288.7 133.2,289.3 134.2,290.2 135.7,292.9 134.7,293.8 132.5,294.3 129.4,294.3 126.5,294 124.2,293.7 122.3,293.4 120.7,293.1 119.4,292.9 118.2,292.6 117,292.4 115.9,292.1" fill="#0051ff"/>
<polygon points="115.7,290 115.9,288.4 116.2,287.9 116.8,287.4 117.3,287.1 117.8,286.9 118.2,286.7 118.5,286.6 119.1,286.4 119.6,286.1 120.2,285.9 120.6,285.8 121,285.6 121.7,285.4 122.5,285.2 123.6,285 125,284.8 126.2,284.9 127.1,285.2 127.9,285.5 128.7,285.8 129.5,286.2 130.4,286.6 131.4,287.1 132.5,287.7 133.4,288.5 134.2,290.2 134.7,291.1 133.7,291.9 131.7,292.4 128.9,292.4 126.2,292.2 124,291.9 122.2,291.6 120.8,291.4 119.5,291.2 118.3,290.9 117.2,290.7 116.2,290.4" fill="#007bfe"/>
<polygon points="115.9,288.4 116.2,286.7 116.4,286.3 117,285.9 117.5,285.6 118,285.4 118.3,285.2 118.7,285 119.2,284.8 119.7,284.6 120,284.5 120.3,284.4 120.6,284.3 121.1,284.1 121.6,284 122.4,283.8 123.5,283.5 124.9,283.4 126,283.4 126.8,283.7 127.6,284 128.4,284.3 129.2,284.6 130,285.1 130.9,285.5 131.8,286.1 132.6,286.8 133.4,288.5 133.7,289.3 132.8,290 130.9,290.5 128.4,290.6 125.9,290.4 123.9,290.1 122.2,289.9 120.8,289.7 119.5,289.4 118.4,289.2 117.4,289 116.4,288.8" fill="#009cfb"/>
<polygon points="116.2,286.7 116.4,285.1 116.7,284.6 117.2,284.3 117.7,284 118.1,283.8 118.5,283.6 118.8,283.5 119.1,283.4 119.3,283.3 120.1,283 120.3,282.9 120.7,282.8 121.1,282.7 121.6,282.5 122.4,282.3 123.4,282.1 124.7,281.9 125.8,282 126.6,282.2 127.3,282.5 128.1,282.8 128.8,283.1 129.6,283.5 130.4,283.9 131.2,284.5 131.8,285.1 132.6,286.8 132.8,287.6 131.9,288.2 130.2,288.6 127.9,288.7 125.7,288.6 123.8,288.4 122.2,288.2 120.8,287.9 119.6,287.8 118.6,287.6 117.5,287.4 116.6,287.1" fill="#00bdf9"/>
<polygon points="116.4,285.1 116.6,283.5 116.9,283 117.4,282.7 117.9,282.4 118.3,282.2 118.7,282.1 119.2,281.9 119.4,281.8 120.1,281.5 120.4,281.4 120.7,281.3 121.6,281 122.3,280.8 123.3,280.6 124.5,280.4 125.7,280.5 126.4,280.8 127,281 127.7,281.3 128.4,281.6 129.1,282 129.8,282.4 130.5,282.9 131.1,283.4 131.8,285.1 131.9,285.8 131,286.4 129.5,286.8 127.4,286.9 125.4,286.8 123.6,286.6 122.1,286.4 120.8,286.2 119.7,286.1 118.7,285.9 117.7,285.7 116.8,285.5" fill="#00def6"/>
<polygon points="116.6,283.5 116.9,281.8 117.2,281.4 117.7,281.1 118.1,280.8 118.5,280.7 118.8,280.5 119.1,280.4 119.5,280.2 119.8,280.1 120.5,279.9 120.8,279.8 121.1,279.7 121.6,279.5 122.3,279.4 123.2,279.1 124.4,279 125.5,279.1 126.1,279.3 126.8,279.5 127.4,279.8 128,280.1 128.7,280.4 129.3,280.8 129.9,281.2 130.3,281.8 131.1,283.4 131.1,284.1 130.2,284.6 128.8,284.9 127,285.1 125.1,285 123.5,284.8 122.1,284.7 120.9,284.5 119.8,284.4 118.8,284.2 117.9,284 117,283.8" fill="#01f0e0"/>
<polygon points="116.9,281.8 117.1,280.2 117.4,279.8 117.9,279.5 118.3,279.3 118.7,279.1 119,279 119.2,278.9 119.5,278.8 119.9,278.6 120.3,278.5 120.8,278.3 121.2,278.2 121.6,278 122.2,277.9 123.1,277.7 124.2,277.5 125.2,277.6 125.9,277.8 126.5,278.1 127,278.3 127.6,278.6 128.2,278.9 128.8,279.2 129.3,279.6 129.6,280.1 130.3,281.8 130.2,282.3 129.4,282.8 128.2,283.1 126.5,283.2 124.9,283.2 123.3,283.1 122,282.9 120.9,282.8 119.9,282.6 119,282.5 118.1,282.3 117.2,282.2" fill="#03f1b3"/>
<polygon points="117.1,280.2 117.4,278.6 117.7,278.2 118.1,277.9 118.5,277.7 118.9,277.5 119.4,277.3 119.6,277.2 120.2,277 120.6,276.9 120.8,276.8 121.6,276.6 122.2,276.4 123,276.2 124.1,276.1 125,276.1 125.6,276.3 126.2,276.6 126.7,276.8 127.2,277 127.7,277.3 128.2,277.6 128.6,278 128.8,278.4 129.6,280.1 129.4,280.6 128.7,281 127.6,281.3 126.1,281.4 124.6,281.4 123.2,281.3 122,281.2 121,281.1 120,280.9 119.1,280.8 118.3,280.7 117.5,280.5" fill="#05f286"/>
<polygon points="117.4,278.6 117.6,276.9 117.9,276.6 118.3,276.3 118.7,276.1 119,276 119.3,275.9 119.9,275.6 120.4,275.4 121.2,275.2 121.6,275.1 122.1,274.9 122.9,274.8 123.9,274.6 124.8,274.7 125.4,274.9 125.9,275.1 126.3,275.3 126.8,275.5 127.2,275.8 127.6,276.1 127.9,276.4 128.8,278.4 128.6,278.9 127.9,279.2 126.9,279.5 125.7,279.6 124.3,279.6 123.1,279.6 122,279.5 121,279.4 120.1,279.3 119.2,279.1 118.5,279 117.7,278.9" fill="#07f359"/>
<polygon points="117.6,276.9 117.9,275.3 118.2,275 118.6,274.7 119,274.5 119.2,274.4 119.5,274.3 119.9,274.2 120.2,274 120.7,273.9 121.2,273.7 121.6,273.6 122.1,273.5 122.8,273.3 123.7,273.2 124.6,273.2 125.1,273.4 125.5,273.6 126,273.8 126.4,274 126.7,274.2 127,274.5 127.3,274.8 127.9,276.4 128.1,276.8 127.8,277.1 127.2,277.4 126.3,277.7 125.2,277.8 124.1,277.9 122.9,277.8 121.9,277.8 121,277.7 120.2,277.6 119.4,277.4 118.6,277.3 117.9,277.2" fill="#09f42c"/>
<polygon points="117.9,275.3 118.2,273.6 118.5,273.4 118.8,273.1 119.2,273 119.5,272.8 120.2,272.6 120.6,272.4 121,272.3 121.2,272.2 121.6,272.1 122,272 122.7,271.8 123.6,271.7 124.3,271.8 124.8,271.9 125.2,272.1 125.6,272.3 125.9,272.5 126.2,272.7 126.4,272.9 126.6,273.2 127.3,274.8 127.3,275.1 127,275.4 126.5,275.7 125.7,275.9 124.8,276 123.8,276.1 122.8,276.1 121.9,276 121,275.9 120.3,275.9 119.5,275.8 118.8,275.7 118.2,275.5" fill="#11f50a"/>
<polygon points="118.2,273.6 118.5,272 118.8,271.7 119.1,271.5 119.4,271.4 119.9,271.2 120.4,271 120.7,270.9 121,270.8 121.2,270.7 121.5,270.6 122,270.5 122.5,270.4 123.3,270.3 124.1,270.3 124.5,270.4 124.8,270.6 125.1,270.8 125.4,271 125.6,271.1 125.8,271.4 126.6,273.2 126.5,273.4 126.2,273.7 125.8,273.9 125.1,274.1 124.3,274.2 123.5,274.3 122.6,274.3 121.8,274.3 121.1,274.2 120.4,274.1 119.7,274.1 119,274 118.4,273.9" fill="#2ef508"/>
<polygon points="118.5,272 118.9,270.3 119.1,270.1 119.4,269.9 119.7,269.8 120.1,269.6 120.3,269.6 120.7,269.4 120.8,269.4 121.1,269.3 121.3,269.2 121.5,269.2 121.9,269.1 122.4,268.9 123.1,268.8 123.8,268.9 124.1,269 124.4,269.1 124.6,269.3 124.8,269.4 125,269.6 125.8,271.4 125.8,271.6 125.7,271.8 125.5,272 125,272.2 124.5,272.3 123.9,272.4 123.2,272.5 122.5,272.5 121.8,272.5 121.1,272.5 120.5,272.4 119.9,272.4 119.3,272.3 118.7,272.2" fill="#4af506"/>
<polygon points="118.9,270.3 119.3,268.7 119.5,268.5 119.8,268.3 120,268.2 120.2,268.1 120.5,268 120.8,267.9 120.9,267.9 121.5,267.7 121.8,267.6 122.2,267.5 122.8,267.4 123.4,267.4 123.7,267.6 123.9,267.7 124,267.8 124.2,267.9 124.2,268.1 125,269.6 125,269.8 125,269.9 124.9,270.1 124.6,270.3 124.3,270.4 123.9,270.5 123.4,270.6 122.9,270.7 122.3,270.7 121.7,270.8 121.2,270.7 120.6,270.7 120.1,270.7 119.5,270.6 119,270.5" fill="#67f504"/>
<polygon points="119.3,268.7 119.8,267 120,266.8 120.2,266.7 120.4,266.6 120.5,266.6 120.8,266.5 121,266.4 121.3,266.3 121.7,266.2 122,266.1 122.5,266.1 122.9,266.1 123.1,266.1 123.2,266.2 123.3,266.3 124.2,267.9 124.2,268.1 124.2,268.2 124.1,268.3 124,268.4 123.8,268.6 123.5,268.6 123.2,268.7 122.9,268.8 122.5,268.9 122.1,268.9 121.7,268.9 121.2,269 120.8,268.9 120.3,268.9 119.8,268.9 119.4,268.8" fill="#84f502"/>
<polygon points="119.8,267 120.8,265.2 120.9,265.1 121,265.1 121.2,265 121.3,265 121.4,264.9 121.5,264.9 121.7,264.9 121.8,264.8 122,264.8 123.2,266.2 123.3,266.3 123.3,266.4 123.3,266.5 123.2,266.6 123.1,266.7 123,266.8 122.9,266.8 122.5,266.9 122.3,267 122.1,267 121.9,267.1 121.6,267.1 121.3,267.1 121,267.1 120.6,267.1 120.2,267.1 119.9,267.1" fill="#a0f500"/>
<path d="M42.7 205.2L47.4 307.2M42.7 205.4h2" stroke="#555" stroke-width="0.65" fill="none"/>
<path d="M43.6 225.6h-1.8M44.6 246h-1.8M45.5 266.4h-1.8M46.5 286.8h-1.8" stroke="#555" stroke-width="0.6"/>
<path d="M47.4 308L126.5 337.3L189.6 304" stroke="#999" stroke-width="0.7" fill="none"/>
<text x="35.5" y="210.6" font-size="11">1</text>
<text x="37.7" y="310.5" font-size="11">0</text>
<text x="46.5" y="320.6" font-size="11.6" text-anchor="middle">-40</text>
<text x="80.1" y="331.2" font-size="11.6" text-anchor="middle">0</text>
<text x="113.5" y="344.7" font-size="11.6" text-anchor="middle">40</text>
<text x="137.8" y="343" font-size="11.6" text-anchor="middle">-40</text>
<text x="165.5" y="328.5" font-size="11.6" text-anchor="middle">0</text>
<text x="190" y="316.6" font-size="11.6" text-anchor="middle">40</text>
<text x="0" y="0" font-size="13" text-anchor="middle" transform="translate(25.2 261.5) rotate(-90)">Enhancement of |E| (a.u.)</text>
<text x="0" y="0" font-size="12.5" text-anchor="middle" transform="translate(71 347) rotate(21)"><tspan font-style="italic">x</tspan>-axis (μm)</text>
<text x="0" y="0" font-size="12.5" text-anchor="middle" transform="translate(180 344) rotate(-28)"><tspan font-style="italic">y</tspan>-axis (μm)</text>
<text x="104.2" y="233.6" font-size="13" font-weight="bold">Dip1</text>
<text x="223.9" y="202.2" font-size="14.6" font-weight="bold">e</text>
<polygon points="266.8,307.3 346.8,336.4 410.7,303.7 334.5,282.3" fill="#78009e" />
<polygon points="305,311.5 305.1,310.7 305.6,310 306.3,309.2 307.4,308.6 308.6,308 310.1,307.5 311.8,307 313.6,306.7 315.5,306.5 317.5,306.4 319.5,306.4 321.4,306.5 323.3,306.7 325,307.1 326.6,307.5 328,308.1 329.1,308.7 330,309.3 330.6,310.1 330.9,310.8 330.9,311.6 330.5,312.3 329.9,313.1 328.9,313.8 327.6,314.4 326.2,315 324.5,315.4 322.6,315.8 320.6,316 318.5,316.2 316.4,316.1 314.4,316 312.4,315.8 310.6,315.4 309,314.9 307.6,314.3 306.5,313.7 305.7,313 305.2,312.2" fill="#78009f"/>
<polygon points="305,311.5 305.1,310.7 305.6,310 306.3,309.2 307.4,308.6 308.6,308 310.9,307.1 312,306.7 313.3,306.4 314.6,306.1 316.1,306 317.6,305.9 319.1,305.9 320.6,306 322,306.2 323.3,306.4 324.5,306.8 326.6,307.5 328,308.1 329.1,308.7 330,309.3 330.6,310.1 330.9,310.8 330.9,311.6 330.5,312.3 329.9,313.1 328.9,313.8 327.6,314.4 326.2,315 324.5,315.4 322.6,315.8 320.6,316 318.5,316.2 316.4,316.1 314.4,316 312.4,315.8 310.6,315.4 309,314.9 307.6,314.3 306.5,313.7 305.7,313 305.2,312.2" fill="#78009f"/>
<polygon points="308.2,309.7 308.3,309.2 308.6,308.6 309.1,308.1 309.9,307.6 311.8,306.4 312.5,306 313.4,305.7 314.4,305.5 315.4,305.3 316.5,305.2 317.6,305.1 318.8,305.1 319.9,305.2 321,305.3 322,305.5 322.9,305.8 323.7,306.1 324.4,306.4 326.4,307.6 327.1,308.1 327.5,308.7 327.7,309.2 327.7,309.8 327.4,310.4 326.9,310.9 326.2,311.4 325.2,311.9 324.1,312.3 322.8,312.7 321.4,312.9 319.9,313.1 318.4,313.2 316.8,313.2 315.3,313.1 313.8,312.9 312.4,312.6 311.2,312.3 310.2,311.9 309.4,311.4 308.7,310.9 308.3,310.3" fill="#7a00a3"/>
<polygon points="310.5,308 310.6,307.6 310.8,307.2 311.2,306.8 313.1,305.4 313.5,305.1 314,304.9 314.6,304.7 315.3,304.5 316.1,304.4 316.9,304.3 317.7,304.2 318.5,304.2 319.4,304.3 320.1,304.4 320.9,304.5 321.5,304.7 322.1,304.9 322.6,305.2 324.4,306.4 324.9,306.8 325.2,307.2 325.3,307.6 325.3,308.1 325.1,308.5 324.7,308.9 324.2,309.3 323.4,309.7 322.6,310 321.6,310.2 320.6,310.4 319.4,310.6 318.2,310.6 317.1,310.6 315.9,310.5 314.8,310.4 313.8,310.2 312.9,309.9 312.1,309.6 311.4,309.3 310.9,308.9 310.6,308.4" fill="#7e00ac"/>
<polygon points="312.6,306.3 312.6,306 312.8,305.7 313.1,305.4 314.9,304 315.2,303.9 315.5,303.7 315.9,303.6 316.3,303.5 316.8,303.4 317.3,303.4 317.8,303.3 318.3,303.3 318.8,303.4 319.3,303.4 319.7,303.5 320.1,303.6 320.5,303.8 320.8,303.9 322.6,305.2 322.9,305.4 323.2,305.7 323.3,306 323.2,306.4 323.1,306.6 322.8,306.9 322.4,307.2 321.9,307.5 321.3,307.7 320.6,307.9 319.8,308 319,308.1 318.1,308.2 317.3,308.2 316.4,308.1 315.7,308 314.9,307.9 314.3,307.7 313.7,307.4 313.2,307.2 312.9,306.9 312.6,306.6" fill="#7800c3"/>
<polygon points="314.6,304.6 314.6,304.4 314.7,304.2 314.9,304 315.2,303.9 315.5,303.7 317.6,302.8 317.7,302.8 317.7,302.8 317.8,302.7 317.9,302.7 318,302.7 318.1,302.8 318.1,302.8 320.5,303.8 320.8,303.9 321,304.1 321.1,304.2 321.2,304.4 321.2,304.6 321.1,304.8 320.9,305 320.6,305.2 320.3,305.3 319.9,305.4 319.5,305.6 319.1,305.6 318.6,305.7 318,305.7 317.5,305.7 317,305.7 316.5,305.6 316.1,305.5 315.6,305.4 315.3,305.3 315,305.1 314.8,305 314.7,304.8" fill="#7100da"/>
<polygon points="295,296.4 295.3,294.9 298.3,293.8 310.4,289.3 313,288.4 316.1,287.4 319.9,287.2 323.8,287.2 327.6,287.4 331.3,287.8 334.7,288.4 337.9,289.2 340.6,290.2 343,291.3 344.9,292.5 346.1,293.8 346.9,295.2 346.9,296.6 346.4,298 345.2,299.4 343.3,300.7 340.9,301.9 337.9,303 334.5,303.9 330.7,304.6 326.6,305.1 322.3,305.3 318,305.3 313.8,305 309.8,304.5 306.1,303.8 302.8,302.9 300,301.8 297.8,300.5 296.2,299.2 295.3,297.8" fill="#78009f"/>
<polygon points="295,296.4 295.3,294.9 301.6,291 303.4,290.1 308,288.4 310.7,287.7 313.7,287.3 316.8,286.9 320.1,286.8 323.3,286.8 326.5,287 329.6,287.3 332.5,287.9 335.2,288.5 337.9,289.2 340.6,290.2 343,291.3 344.9,292.5 346.1,293.8 346.9,295.2 346.9,296.6 346.4,298 345.2,299.4 343.3,300.7 340.9,301.9 337.9,303 334.5,303.9 330.7,304.6 326.6,305.1 322.3,305.3 318,305.3 313.8,305 309.8,304.5 306.1,303.8 302.8,302.9 300,301.8 297.8,300.5 296.2,299.2 295.3,297.8" fill="#78009f"/>
<polygon points="299.2,294.4 299.5,293.3 300.3,292.1 301.6,291 303.8,289.6 305.3,288.7 307.2,287.9 309.4,287.2 311.8,286.7 314.5,286.3 317.3,286 320.1,285.9 323,285.9 325.9,286 328.6,286.3 331.2,286.8 333.5,287.4 335.6,288.1 337.3,288.9 339.5,290.2 341,291.2 342.1,292.3 342.6,293.4 342.6,294.6 342.1,295.8 341.1,296.9 339.6,298 337.5,299 335,299.9 332.2,300.6 329,301.2 325.6,301.6 322.1,301.7 318.5,301.7 315,301.5 311.7,301.1 308.6,300.5 305.9,299.8 303.6,298.9 301.7,297.9 300.4,296.8 299.5,295.6" fill="#7b00a5"/>
<polygon points="301.8,292.6 302,291.5 302.7,290.5 304.4,288.9 305.4,288 306.7,287.2 308.4,286.5 310.4,285.9 312.6,285.4 315.1,285 317.6,284.8 320.2,284.6 322.8,284.7 325.4,284.8 327.9,285.1 330.2,285.5 332.4,286 334.2,286.6 335.8,287.4 337,288.2 338.6,289.7 339.6,290.7 340.1,291.7 340.1,292.7 339.6,293.7 338.7,294.7 337.3,295.7 335.5,296.5 333.3,297.3 330.8,297.9 328,298.4 325,298.7 321.9,298.9 318.8,298.9 315.7,298.7 312.8,298.3 310.1,297.8 307.7,297.2 305.7,296.4 304,295.5 302.8,294.6 302.1,293.6" fill="#7b00b6"/>
<polygon points="303.6,290.7 303.8,289.8 304.4,288.9 305.6,287.2 306.6,286.4 307.8,285.7 309.4,285 311.2,284.5 313.3,284 315.5,283.6 317.8,283.4 320.2,283.3 322.7,283.3 325.1,283.5 327.4,283.7 329.5,284.1 331.5,284.6 333.2,285.1 334.6,285.8 335.8,286.5 336.5,287.3 337.8,289 338.3,289.9 338.3,290.8 337.8,291.8 337,292.6 335.7,293.5 334.1,294.2 332.1,294.9 329.8,295.5 327.3,295.9 324.6,296.2 321.8,296.4 319,296.3 316.2,296.2 313.6,295.9 311.1,295.4 309,294.8 307.1,294.1 305.6,293.3 304.5,292.5 303.8,291.6" fill="#7400d2"/>
<polygon points="304.9,288.8 305.1,288 306.1,286.2 306.6,285.4 307.5,284.7 308.7,284.1 310.1,283.5 311.8,282.9 313.7,282.5 315.8,282.2 318,282 320.3,281.9 322.6,281.9 324.8,282 326.9,282.2 328.9,282.6 330.8,283 332.4,283.6 333.7,284.2 334.8,284.9 335.5,285.6 336.5,287.3 336.9,288.1 336.9,289 336.5,289.8 335.7,290.6 334.6,291.4 333,292.1 331.2,292.7 329.1,293.2 326.8,293.6 324.3,293.9 321.7,294 319.1,294 316.6,293.8 314.2,293.5 311.9,293.1 309.9,292.6 308.2,292 306.8,291.2 305.8,290.5 305.2,289.7" fill="#6400e8"/>
<polygon points="306,287 306.1,286.2 307,284.4 307.5,283.7 308.3,283 309.4,282.4 310.7,281.9 312.4,281.4 314.1,281 316.1,280.7 318.2,280.5 320.3,280.4 322.4,280.4 324.5,280.5 326.6,280.7 328.5,281.1 330.2,281.5 331.7,282 332.9,282.5 333.9,283.2 334.6,283.8 335.5,285.6 335.8,286.3 335.8,287.1 335.4,287.9 334.7,288.6 333.6,289.3 332.2,290 330.5,290.5 328.5,291 326.4,291.4 324.1,291.6 321.6,291.7 319.2,291.7 316.9,291.6 314.6,291.3 312.5,290.9 310.6,290.4 309.1,289.9 307.8,289.2 306.8,288.5 306.2,287.7" fill="#3f00f1"/>
<polygon points="306.9,285.1 307,284.4 307.8,282.6 308.2,281.9 308.9,281.3 310,280.8 311.3,280.2 312.8,279.8 314.5,279.4 316.4,279.1 318.3,278.9 320.3,278.8 322.3,278.9 324.3,279 326.2,279.2 328,279.5 329.7,279.9 331.1,280.3 332.3,280.9 333.2,281.4 333.8,282.1 334.1,282.7 334.9,284.5 334.9,285.3 334.5,286 333.8,286.7 332.8,287.3 331.5,287.9 329.9,288.4 328,288.9 326,289.2 323.8,289.4 321.6,289.5 319.3,289.5 317.1,289.4 315,289.1 313,288.8 311.3,288.3 309.8,287.8 308.6,287.2 307.6,286.5 307.1,285.8" fill="#1900f9"/>
<polygon points="307.6,283.3 307.8,282.6 308.4,280.8 308.8,280.2 309.5,279.6 310.5,279.1 311.8,278.6 313.2,278.1 314.8,277.8 316.6,277.5 318.4,277.4 320.3,277.3 322.2,277.3 324.1,277.4 325.9,277.6 327.6,277.9 329.2,278.2 330.5,278.7 331.7,279.2 332.5,279.7 333.1,280.3 333.4,280.9 334.1,282.7 334.1,283.4 333.8,284.1 333.1,284.7 332.1,285.3 330.9,285.9 329.4,286.4 327.6,286.8 325.7,287.1 323.6,287.3 321.5,287.4 319.4,287.4 317.3,287.3 315.3,287 313.4,286.7 311.8,286.3 310.4,285.8 309.2,285.2 308.4,284.6 307.8,283.9" fill="#0014ff"/>
<polygon points="308.3,281.4 308.4,280.8 309,279 309.4,278.4 310.1,277.9 311,277.4 312.2,276.9 313.5,276.5 315.1,276.2 316.8,275.9 318.5,275.8 320.3,275.7 322.2,275.7 324,275.8 325.7,276 327.3,276.2 328.8,276.6 330.1,277 331.1,277.5 331.9,278 332.5,278.5 332.8,279.1 333.4,280.9 333.4,281.6 333.1,282.2 332.4,282.8 331.5,283.4 330.3,283.9 328.9,284.3 327.2,284.7 325.4,285 323.5,285.2 321.5,285.3 319.5,285.3 317.5,285.2 315.6,285 313.8,284.6 312.2,284.2 310.9,283.8 309.8,283.3 309,282.7 308.5,282.1" fill="#004fff"/>
<polygon points="308.9,279.6 309,279 309.5,277.2 309.9,276.7 310.6,276.1 311.4,275.6 312.6,275.2 313.9,274.8 315.3,274.5 316.9,274.3 318.6,274.1 320.3,274.1 322.1,274.1 323.8,274.2 325.4,274.3 327,274.6 328.4,274.9 329.6,275.3 330.6,275.8 331.4,276.2 331.9,276.8 332.2,277.3 332.8,279.1 332.8,279.7 332.4,280.3 331.9,280.9 331,281.4 329.8,281.9 328.5,282.3 326.9,282.7 325.2,282.9 323.3,283.1 321.4,283.2 319.5,283.2 317.6,283.1 315.8,282.9 314.2,282.6 312.7,282.2 311.4,281.8 310.3,281.3 309.6,280.8 309.1,280.2" fill="#0081fe"/>
<polygon points="309.4,277.8 309.5,277.2 310,275.4 310.4,274.9 311,274.4 311.9,273.9 312.9,273.5 314.1,273.2 315.6,272.9 317.1,272.6 318.7,272.5 320.3,272.4 322,272.4 323.6,272.5 325.2,272.7 326.7,272.9 328,273.2 329.2,273.6 330.2,274 330.9,274.5 331.4,275 331.7,275.5 332.2,277.3 332.2,277.9 331.9,278.4 331.3,279 330.5,279.5 329.4,279.9 328.1,280.3 326.6,280.7 324.9,280.9 323.2,281.1 321.4,281.2 319.6,281.2 317.8,281.1 316.1,280.9 314.5,280.6 313,280.2 311.8,279.8 310.8,279.4 310.1,278.9 309.6,278.3" fill="#00aafa"/>
<polygon points="309.9,275.9 310,275.4 310.5,273.6 310.8,273.1 311.4,272.6 312.2,272.2 313.2,271.8 314.4,271.5 315.8,271.2 317.2,271 318.8,270.9 320.3,270.8 321.9,270.8 323.5,270.9 325,271 326.4,271.3 327.7,271.6 328.8,271.9 329.7,272.3 330.4,272.7 330.9,273.2 331.2,273.7 331.7,275.5 331.6,276 331.4,276.6 330.8,277.1 330,277.5 329,278 327.7,278.4 326.3,278.7 324.7,278.9 323.1,279.1 321.3,279.1 319.6,279.1 317.9,279 316.2,278.9 314.7,278.6 313.4,278.3 312.2,277.9 311.3,277.4 310.6,277 310.1,276.4" fill="#00d3f7"/>
<polygon points="310.4,274.1 310.5,273.6 310.9,271.8 311.2,271.3 311.8,270.9 312.6,270.5 313.5,270.1 314.7,269.8 316,269.5 317.4,269.3 318.8,269.2 320.4,269.1 321.9,269.1 323.4,269.2 324.8,269.4 326.2,269.6 327.4,269.9 328.4,270.2 329.3,270.6 330,271 330.5,271.4 330.7,271.9 331.2,273.7 331.1,274.2 330.9,274.7 330.3,275.2 329.6,275.6 328.6,276 327.4,276.4 326,276.7 324.5,276.9 322.9,277.1 321.3,277.1 319.6,277.1 318,277 316.4,276.9 315,276.6 313.7,276.3 312.6,275.9 311.7,275.5 311,275.1 310.6,274.6" fill="#01f0e5"/>
<polygon points="310.9,272.2 310.9,271.8 311.3,270 311.6,269.5 312.2,269.1 312.9,268.7 313.8,268.4 314.9,268.1 316.1,267.8 317.5,267.6 318.9,267.5 320.4,267.5 321.8,267.5 323.2,267.6 324.6,267.7 325.9,267.9 327.1,268.2 328.1,268.5 328.9,268.8 329.6,269.2 330,269.6 330.2,270.1 330.7,271.9 330.7,272.4 330.4,272.8 329.9,273.3 329.2,273.7 328.2,274.1 327.1,274.4 325.8,274.7 324.4,274.9 322.8,275.1 321.2,275.1 319.7,275.1 318.1,275 316.6,274.9 315.2,274.6 314,274.4 312.9,274 312.1,273.6 311.4,273.2 311,272.7" fill="#03f2ae"/>
<polygon points="311.3,270.4 311.3,270 311.7,268.2 312,267.8 312.5,267.4 313.2,267 314.1,266.7 315.1,266.4 316.3,266.1 317.6,266 318.9,265.9 320.3,265.8 321.8,265.8 323.1,265.9 324.4,266 325.7,266.2 326.8,266.4 327.8,266.7 328.6,267.1 329.2,267.4 329.6,267.9 329.8,268.3 330.2,270.1 330.2,270.5 330,271 329.5,271.4 328.8,271.8 327.9,272.1 326.8,272.5 325.6,272.7 324.2,272.9 322.7,273.1 321.2,273.1 319.7,273.1 318.2,273 316.8,272.9 315.4,272.7 314.3,272.4 313.2,272.1 312.4,271.7 311.8,271.3 311.4,270.9" fill="#05f376"/>
<polygon points="311.6,268.6 311.7,268.2 312.1,266.4 312.4,266 312.9,265.6 313.5,265.2 314.4,264.9 315.4,264.7 316.5,264.4 317.7,264.3 319,264.2 320.3,264.1 321.7,264.1 323,264.2 324.3,264.3 325.4,264.5 326.5,264.7 327.5,265 328.2,265.3 328.8,265.7 329.2,266.1 329.4,266.4 329.8,268.3 329.8,268.7 329.6,269.1 329.1,269.5 328.4,269.9 327.6,270.2 326.5,270.5 325.3,270.8 324,271 322.6,271.1 321.2,271.1 319.7,271.1 318.3,271.1 316.9,270.9 315.7,270.7 314.5,270.5 313.6,270.1 312.8,269.8 312.2,269.4 311.8,269" fill="#08f43f"/>
<polygon points="312,266.8 312.1,266.4 312.4,264.5 312.7,264.2 313.2,263.8 313.8,263.5 314.6,263.2 315.6,262.9 316.6,262.7 317.8,262.6 319.1,262.5 320.3,262.4 321.6,262.4 322.9,262.5 324.1,262.6 325.2,262.8 326.3,263 327.1,263.3 327.9,263.6 328.5,263.9 328.8,264.3 329,264.6 329.4,266.4 329.4,266.9 329.2,267.2 328.7,267.6 328.1,268 327.2,268.3 326.2,268.6 325.1,268.8 323.9,269 322.5,269.1 321.1,269.2 319.8,269.2 318.4,269.1 317.1,269 315.9,268.8 314.8,268.5 313.9,268.2 313.1,267.9 312.5,267.5 312.2,267.1" fill="#0cf50a"/>
<polygon points="312.4,264.9 312.4,264.5 312.8,262.7 313,262.4 313.5,262.1 314.1,261.7 314.9,261.5 315.8,261.2 316.8,261 317.9,260.9 319.1,260.8 320.3,260.7 321.6,260.7 322.8,260.8 323.9,260.9 325,261.1 326,261.3 326.9,261.5 327.6,261.8 328.1,262.1 328.5,262.5 328.6,262.8 329,264.6 329,265 328.8,265.4 328.4,265.7 327.7,266.1 326.9,266.4 326,266.6 324.9,266.9 323.7,267.1 322.4,267.2 321.1,267.2 319.8,267.2 318.5,267.1 317.2,267 316.1,266.8 315,266.6 314.1,266.3 313.4,266 312.9,265.7 312.5,265.3" fill="#2ff508"/>
<polygon points="312.7,263.1 312.8,262.7 313.1,260.9 313.4,260.6 313.8,260.3 314.4,260 315.1,259.7 316,259.5 317,259.3 318,259.2 319.2,259.1 320.3,259 321.5,259 322.7,259.1 323.8,259.2 324.8,259.4 325.8,259.6 326.6,259.8 327.2,260.1 327.8,260.4 328.1,260.7 328.3,261 328.6,262.8 328.6,263.2 328.4,263.5 328,263.9 327.4,264.2 326.6,264.5 325.7,264.7 324.7,264.9 323.5,265.1 322.3,265.2 321.1,265.2 319.8,265.2 318.6,265.2 317.4,265.1 316.2,264.9 315.2,264.7 314.4,264.4 313.7,264.1 313.2,263.8 312.9,263.4" fill="#52f505"/>
<polygon points="313.1,261.3 313.4,259.4 313.4,259.1 313.7,258.8 314.1,258.5 314.6,258.2 315.3,258 316.2,257.8 317.1,257.6 318.1,257.4 319.2,257.4 320.3,257.3 321.4,257.3 322.6,257.4 323.6,257.5 324.6,257.6 325.5,257.8 326.3,258 326.9,258.3 327.4,258.6 327.8,258.9 327.9,259.2 328.3,261 328.2,261.3 328,261.7 327.6,262 327.1,262.3 326.4,262.6 325.5,262.8 324.5,263 323.4,263.1 322.2,263.2 321,263.3 319.8,263.3 318.6,263.2 317.5,263.1 316.4,263 315.5,262.8 314.7,262.5 314,262.2 313.5,261.9 313.2,261.6" fill="#76f503"/>
<polygon points="313.4,259.4 313.7,257.3 314,257 314.3,256.7 314.9,256.5 315.6,256.2 316.4,256 317.2,255.9 318.2,255.7 319.3,255.7 320.3,255.6 321.4,255.6 322.5,255.7 323.5,255.8 324.4,255.9 325.3,256.1 326,256.3 326.6,256.5 327.1,256.8 327.4,257.1 327.6,257.4 327.9,259.2 327.9,259.5 327.7,259.8 327.3,260.1 326.8,260.4 326.1,260.7 325.2,260.9 324.3,261.1 323.2,261.2 322.1,261.3 321,261.4 319.8,261.4 318.7,261.3 317.6,261.2 316.6,261 315.7,260.8 314.9,260.6 314.3,260.3 313.8,260.1 313.5,259.7" fill="#99f500"/>
<polygon points="313.7,257.6 314,255.8 314,255.5 314.2,255.2 314.6,254.9 315.1,254.7 315.8,254.5 316.5,254.3 317.4,254.1 318.3,254 319.3,253.9 320.3,253.9 321.4,253.9 322.4,253.9 323.3,254 324.2,254.2 325,254.3 325.8,254.5 326.3,254.8 326.8,255 327.1,255.3 327.2,255.6 327.6,257.4 327.6,257.7 327.4,258 327,258.3 326.5,258.5 325.8,258.8 325,259 324.1,259.1 323.1,259.3 322.1,259.4 321,259.4 319.9,259.4 318.8,259.4 317.7,259.2 316.8,259.1 315.9,258.9 315.2,258.7 314.6,258.4 314.1,258.2 313.8,257.9" fill="#b0f700"/>
<polygon points="314,255.8 314.3,253.7 314.5,253.4 314.9,253.2 315.4,252.9 316,252.7 316.7,252.6 317.5,252.4 318.4,252.3 319.3,252.2 320.3,252.2 321.3,252.2 322.2,252.2 323.2,252.3 324,252.4 324.8,252.6 325.5,252.8 326.1,253 326.5,253.2 326.8,253.5 326.9,253.8 327.2,255.6 327.2,255.8 327,256.1 326.7,256.4 326.2,256.6 325.6,256.9 324.8,257.1 323.9,257.2 323,257.4 322,257.4 320.9,257.5 319.9,257.5 318.8,257.4 317.9,257.3 316.9,257.2 316.1,257 315.4,256.8 314.8,256.6 314.4,256.3 314.1,256.1" fill="#c4f900"/>
<polygon points="314.3,253.9 314.3,253.7 314.6,251.9 314.8,251.6 315.1,251.4 315.6,251.2 316.2,251 316.9,250.8 317.6,250.7 318.5,250.6 319.4,250.5 320.3,250.5 321.2,250.5 322.1,250.5 323,250.6 323.9,250.7 324.6,250.8 325.2,251 325.8,251.2 326.2,251.4 326.4,251.7 326.6,251.9 326.9,253.8 326.9,254 326.7,254.3 326.4,254.5 325.9,254.8 325.3,255 324.6,255.2 323.8,255.3 322.8,255.4 321.9,255.5 320.9,255.6 319.9,255.5 318.9,255.5 318,255.4 317.1,255.3 316.3,255.1 315.6,254.9 315.1,254.7 314.7,254.5 314.4,254.2" fill="#d8fb00"/>
<polygon points="314.6,252.1 314.9,250.3 314.9,250.1 315.1,249.8 315.4,249.6 315.8,249.4 316.4,249.2 317,249.1 317.8,248.9 318.6,248.8 319.4,248.8 320.3,248.7 321.2,248.7 322.1,248.8 322.9,248.8 323.7,249 324.4,249.1 325,249.3 325.5,249.5 325.9,249.7 326.1,249.9 326.2,250.1 326.6,251.9 326.6,252.2 326.4,252.4 326.1,252.7 325.6,252.9 325,253.1 324.4,253.3 323.6,253.4 322.7,253.5 321.8,253.6 320.9,253.6 319.9,253.6 319,253.6 318.1,253.5 317.2,253.4 316.5,253.2 315.9,253 315.3,252.8 314.9,252.6 314.7,252.3" fill="#ecfd00"/>
<polygon points="314.9,250.3 315.2,248.2 315.3,248 315.6,247.8 316.1,247.6 316.6,247.4 317.2,247.3 317.9,247.2 318.7,247.1 319.5,247 320.3,247 321.1,247 322,247.1 322.8,247.1 323.5,247.2 324.1,247.3 324.7,247.5 325.2,247.7 325.6,247.9 325.8,248.1 325.9,248.3 326.2,250.1 326.2,250.3 326.1,250.6 325.8,250.8 325.3,251 324.8,251.2 324.1,251.4 323.4,251.5 322.6,251.6 321.7,251.7 320.8,251.7 319.9,251.7 319,251.7 318.2,251.6 317.4,251.4 316.7,251.3 316.1,251.1 315.6,250.9 315.2,250.7 315,250.5" fill="#fffe00"/>
<polygon points="315.1,248.4 315.2,248.2 315.4,246.6 315.4,246.4 315.6,246.2 315.9,246 316.3,245.8 316.8,245.7 317.4,245.6 318,245.4 318.7,245.3 319.5,245.3 320.3,245.3 321.1,245.3 321.9,245.3 322.6,245.4 323.3,245.5 323.9,245.6 324.5,245.7 324.9,245.9 325.3,246.1 325.5,246.3 325.6,246.5 325.9,248.3 325.9,248.5 325.8,248.7 325.5,248.9 325.1,249.1 324.6,249.3 323.9,249.5 323.2,249.6 322.5,249.7 321.6,249.7 320.8,249.8 319.9,249.8 319.1,249.7 318.3,249.7 317.5,249.6 316.9,249.4 316.3,249.3 315.8,249.1 315.5,248.9 315.2,248.7" fill="#ffe300"/>
<polygon points="315.4,246.6 315.7,244.8 315.7,244.6 315.9,244.4 316.1,244.2 316.5,244.1 317,243.9 317.5,243.8 318.1,243.7 318.8,243.6 319.5,243.6 320.3,243.5 321,243.5 321.8,243.6 322.5,243.6 323.1,243.7 323.7,243.8 324.2,244 324.7,244.1 325,244.3 325.2,244.5 325.3,244.7 325.6,246.5 325.6,246.7 325.5,246.9 325.2,247.1 324.8,247.3 324.3,247.4 323.7,247.6 323.1,247.7 322.3,247.8 321.6,247.8 320.8,247.9 319.9,247.8 319.1,247.8 318.4,247.8 317.7,247.7 317.1,247.5 316.5,247.4 316.1,247.2 315.7,247 315.5,246.8" fill="#ffc700"/>
<polygon points="315.7,244.8 315.9,243 316,242.8 316.1,242.6 316.4,242.4 316.7,242.3 317.1,242.2 317.7,242 318.3,241.9 318.9,241.9 319.6,241.8 320.3,241.8 321,241.8 321.7,241.8 322.3,241.9 323,242 323.5,242.1 324,242.2 324.4,242.3 324.7,242.5 324.9,242.7 325,242.8 325.3,244.7 325.3,244.8 325.2,245 324.9,245.2 324.5,245.4 324.1,245.5 323.5,245.7 322.9,245.8 322.2,245.9 321.5,245.9 320.7,245.9 320,245.9 319.2,245.9 318.5,245.8 317.8,245.8 317.2,245.6 316.7,245.5 316.3,245.3 316,245.2 315.8,245" fill="#ffac00"/>
<polygon points="315.9,243 316.2,241.1 316.2,241 316.4,240.8 316.6,240.7 316.9,240.5 317.3,240.4 317.8,240.3 318.4,240.2 319,240.1 319.6,240.1 320.3,240.1 320.9,240.1 321.6,240.1 322.2,240.1 322.8,240.2 323.3,240.3 323.8,240.4 324.1,240.6 324.4,240.7 324.6,240.9 324.7,241 325,242.8 325,243 324.9,243.2 324.6,243.4 324.3,243.5 323.9,243.7 323.3,243.8 322.7,243.9 322.1,244 321.4,244 320.7,244 320,244 319.3,244 318.6,243.9 318,243.8 317.4,243.7 316.9,243.6 316.5,243.5 316.2,243.3 316,243.1" fill="#ff9000"/>
<polygon points="316.2,241.1 316.5,239.3 316.5,239.2 316.6,239 316.8,238.9 317.1,238.7 317.5,238.6 318,238.5 318.5,238.4 319.1,238.4 319.6,238.3 320.3,238.3 320.9,238.3 321.5,238.3 322.1,238.4 322.6,238.5 323.1,238.6 323.5,238.7 323.9,238.8 324.2,238.9 324.3,239.1 324.4,239.2 324.7,241 324.7,241.2 324.6,241.3 324.4,241.5 324,241.7 323.6,241.8 323.1,241.9 322.6,242 322,242.1 321.3,242.1 320.7,242.1 320,242.1 319.3,242.1 318.7,242 318.1,242 317.6,241.9 317.1,241.7 316.7,241.6 316.5,241.4 316.3,241.3" fill="#ff7200"/>
<polygon points="316.5,239.3 316.7,237.5 316.7,237.3 316.9,237.2 317.1,237.1 317.3,237 317.7,236.8 318.1,236.8 318.6,236.7 319.1,236.6 319.7,236.6 320.3,236.6 320.8,236.6 321.4,236.6 321.9,236.6 322.4,236.7 322.9,236.8 323.3,236.9 323.6,237 323.9,237.1 324.1,237.3 324.1,237.4 324.4,239.2 324.4,239.4 324.3,239.5 324.1,239.7 323.8,239.8 323.4,239.9 322.9,240 322.4,240.1 321.9,240.2 321.2,240.2 320.6,240.2 320,240.2 319.4,240.2 318.8,240.1 318.2,240.1 317.7,240 317.3,239.9 317,239.7 316.7,239.6 316.5,239.5" fill="#ff4e00"/>
<polygon points="316.7,237.5 317,235.7 317,235.5 317.1,235.4 317.3,235.3 317.5,235.2 317.9,235.1 318.3,235 318.7,234.9 319.2,234.9 319.7,234.8 320.2,234.8 320.8,234.8 321.3,234.8 321.8,234.9 322.3,234.9 322.7,235 323.1,235.1 323.4,235.2 323.6,235.3 323.8,235.4 323.8,235.6 324.1,237.4 324.1,237.5 324,237.7 323.8,237.8 323.5,237.9 323.2,238 322.8,238.1 322.3,238.2 321.7,238.3 321.2,238.3 320.6,238.3 320,238.3 319.4,238.3 318.9,238.2 318.4,238.2 317.9,238.1 317.5,238 317.2,237.9 316.9,237.8 316.8,237.6" fill="#ff2b00"/>
<polygon points="317,235.7 317.2,233.8 317.2,233.7 317.3,233.6 317.5,233.5 317.7,233.4 318.1,233.3 318.4,233.2 318.8,233.2 319.3,233.1 319.8,233.1 320.2,233.1 320.7,233.1 321.2,233.1 321.7,233.1 322.1,233.2 322.5,233.2 322.9,233.3 323.1,233.4 323.4,233.5 323.5,233.6 323.6,233.8 323.8,235.6 323.8,235.7 323.7,235.8 323.6,235.9 323.3,236.1 323,236.2 322.6,236.2 322.1,236.3 321.6,236.4 321.1,236.4 320.6,236.4 320,236.4 319.5,236.4 319,236.3 318.5,236.3 318.1,236.2 317.7,236.1 317.4,236 317.2,235.9 317,235.8" fill="#ff0700"/>
<polygon points="317.2,233.8 317.4,232 317.5,231.9 317.6,231.8 317.7,231.7 317.9,231.6 318.2,231.5 318.6,231.5 318.9,231.4 319.4,231.3 319.8,231.3 320.2,231.3 320.7,231.3 321.1,231.3 321.6,231.4 322,231.4 322.3,231.5 322.6,231.6 322.9,231.6 323.1,231.7 323.2,231.8 323.3,231.9 323.6,233.8 323.5,233.9 323.4,234 323.3,234.1 323,234.2 322.7,234.3 322.4,234.4 322,234.4 321.5,234.5 321,234.5 320.5,234.5 320,234.5 319.5,234.5 319.1,234.5 318.6,234.4 318.2,234.3 317.9,234.2 317.6,234.2 317.4,234.1 317.3,233.9" fill="#fe0000"/>
<polygon points="317.4,232 317.7,230.2 317.7,230.1 317.8,230 317.9,229.9 318.1,229.8 318.4,229.8 318.7,229.7 319,229.6 319.4,229.6 319.8,229.6 320.2,229.6 320.6,229.6 321.1,229.6 321.4,229.6 321.8,229.7 322.1,229.7 322.4,229.8 322.6,229.8 322.8,229.9 322.9,230 323,230.1 323.3,231.9 323.3,232 323.2,232.1 323,232.2 322.8,232.3 322.5,232.4 322.2,232.5 321.8,232.5 321.4,232.6 320.9,232.6 320.5,232.6 320,232.6 319.6,232.6 319.1,232.6 318.8,232.5 318.4,232.5 318.1,232.4 317.8,232.3 317.6,232.2 317.5,232.1" fill="#fe0000"/>
<polygon points="317.7,230.2 317.9,228.3 318,228.2 318.1,228.1 318.3,228 318.6,228 318.8,227.9 319.1,227.9 319.5,227.8 319.9,227.8 320.2,227.8 320.6,227.8 321,227.8 321.3,227.8 321.6,227.9 321.9,227.9 322.2,228 322.4,228.1 322.6,228.1 322.7,228.2 322.7,228.3 323,230.1 323,230.2 322.9,230.3 322.8,230.4 322.6,230.5 322.3,230.6 322,230.6 321.7,230.7 321.3,230.7 320.9,230.7 320.5,230.7 320.1,230.7 319.6,230.7 319.2,230.7 318.9,230.6 318.6,230.6 318.3,230.5 318,230.4 317.9,230.4 317.7,230.3" fill="#fd0000"/>
<polygon points="317.9,228.3 317.9,228.3 318.2,226.5 318.2,226.4 318.2,226.4 318.4,226.3 318.5,226.2 318.7,226.2 319,226.1 319.2,226.1 319.6,226.1 319.9,226.1 320.2,226 320.6,226 320.9,226.1 321.2,226.1 321.5,226.1 321.8,226.2 322,226.2 322.2,226.3 322.3,226.3 322.4,226.4 322.4,226.5 322.7,228.3 322.7,228.4 322.6,228.5 322.5,228.5 322.3,228.6 322.1,228.7 321.8,228.7 321.5,228.8 321.2,228.8 320.8,228.8 320.4,228.8 320.1,228.8 319.7,228.8 319.3,228.8 319,228.8 318.7,228.7 318.4,228.7 318.2,228.6 318.1,228.5 318,228.4" fill="#fd0000"/>
<polygon points="318.2,226.5 318.4,224.7 318.4,224.6 318.4,224.6 318.6,224.5 318.7,224.4 318.9,224.4 319.1,224.4 319.4,224.3 319.6,224.3 319.9,224.3 320.2,224.3 320.5,224.3 320.8,224.3 321.1,224.3 321.3,224.3 321.6,224.4 321.8,224.4 321.9,224.5 322.1,224.5 322.1,224.6 322.2,224.7 322.4,226.5 322.4,226.6 322.4,226.6 322.3,226.7 322.1,226.8 321.6,226.9 321.4,226.9 321.1,226.9 320.7,227 320.4,227 320.1,227 319.7,226.9 319.4,226.9 319.1,226.9 318.9,226.8 318.6,226.8 318.4,226.7 318.3,226.7 318.2,226.6" fill="#fc0000"/>
<polygon points="318.4,224.7 318.6,222.9 318.6,222.8 318.7,222.8 318.8,222.7 318.9,222.7 319.1,222.6 319.2,222.6 319.4,222.6 319.7,222.5 319.9,222.5 320.4,222.5 320.7,222.5 320.9,222.5 321.2,222.6 321.4,222.6 321.6,222.6 321.7,222.7 321.8,222.7 321.9,222.8 321.9,222.8 322.2,224.7 322.2,224.7 322.1,224.8 322,224.8 321.9,224.9 321.7,224.9 321.5,225 321.2,225 321,225.1 320.7,225.1 320.1,225.1 319.8,225.1 319.5,225.1 319.2,225 319,225 318.8,224.9 318.6,224.9 318.5,224.8 318.4,224.8" fill="#fb0000"/>
<polygon points="318.6,222.9 318.8,221 318.8,221 318.9,220.9 319,220.9 319.1,220.9 319.2,220.8 319.4,220.8 319.6,220.8 319.8,220.8 320.2,220.7 320.4,220.7 320.6,220.8 321,220.8 321.2,220.8 321.4,220.8 321.5,220.9 321.6,220.9 321.6,221 321.7,221 321.9,222.8 321.9,222.9 321.9,222.9 321.8,223 321.6,223.1 321.5,223.1 321.3,223.1 321.1,223.2 320.9,223.2 320.6,223.2 320.1,223.2 319.8,223.2 319.6,223.2 319.4,223.2 319.1,223.1 319,223.1 318.8,223 318.7,223 318.6,222.9" fill="#fb0000"/>
<polygon points="318.8,221 319.1,219.2 319.1,219.2 319.1,219.2 319.2,219.1 319.2,219.1 319.4,219.1 319.5,219 319.6,219 320,219 320.4,219 320.5,219 320.7,219 320.9,219 321,219 321.1,219.1 321.2,219.1 321.4,219.2 321.4,219.2 321.7,221 321.7,221.1 321.6,221.1 321.5,221.2 321.4,221.2 321.3,221.2 321.1,221.3 320.9,221.3 320.8,221.3 320.3,221.3 319.9,221.3 319.7,221.3 319.5,221.3 319.3,221.2 319,221.2 318.9,221.1 318.9,221.1" fill="#f90000"/>
<polygon points="319.1,219.2 319.3,217.4 319.3,217.4 319.3,217.3 319.4,217.3 319.4,217.3 319.5,217.3 319.6,217.2 319.7,217.2 320,217.2 320.5,217.2 320.6,217.2 320.7,217.2 320.9,217.2 320.9,217.3 321,217.3 321.1,217.3 321.1,217.3 321.2,217.4 321.4,219.2 321.4,219.2 321.4,219.3 321.3,219.3 321.2,219.3 321.1,219.4 321,219.4 320.8,219.4 320.5,219.4 320.1,219.4 319.9,219.4 319.7,219.4 319.6,219.4 319.4,219.4 319.3,219.4 319.2,219.3 319.1,219.3 319.1,219.3" fill="#ea0000"/>
<polygon points="319.3,217.4 319.5,215.6 319.5,215.6 319.5,215.5 319.5,215.5 319.6,215.5 319.7,215.5 319.7,215.4 319.8,215.4 319.9,215.4 320.2,215.4 320.3,215.4 320.5,215.4 320.6,215.4 320.7,215.5 320.8,215.5 320.9,215.5 320.9,215.6 321.2,217.4 321.1,217.4 321.1,217.4 321.1,217.5 321,217.5 320.8,217.5 320.7,217.6 320.5,217.6 320.4,217.6 320.2,217.6 320.1,217.6 319.8,217.6 319.6,217.5 319.4,217.5 319.3,217.4 319.3,217.4" fill="#dc0000"/>
<polygon points="319.5,215.6 319.7,213.7 319.7,213.7 319.8,213.7 319.8,213.7 319.9,213.7 319.9,213.7 320,213.7 320.4,213.7 320.4,213.7 320.5,213.7 320.6,213.7 320.6,213.7 320.6,213.7 320.7,213.7 320.9,215.6 320.9,215.6 320.9,215.6 320.8,215.6 320.8,215.6 320.7,215.7 320.5,215.7 320.4,215.7 320.2,215.7 320,215.7 319.9,215.7 319.8,215.7 319.7,215.7 319.6,215.7 319.6,215.6 319.5,215.6 319.5,215.6" fill="#cd0000"/>
<polygon points="319.7,213.7 319.9,211.9 319.9,211.9 319.9,211.9 320,211.9 320.3,211.9 320.3,211.9 320.4,211.9 320.4,211.9 320.7,213.7 320.7,213.8 320.6,213.8 320.6,213.8 320.5,213.8 320.5,213.8 320.3,213.8 320.2,213.8 320.1,213.8 320,213.8 319.9,213.8 319.8,213.8 319.8,213.8 319.7,213.8 319.7,213.8 319.7,213.7" fill="#bf0000"/>
<polygon points="319.9,211.9 320.1,210.1 320.2,210.1 320.4,211.9 320.4,211.9 320.4,211.9 320.4,211.9 320.4,211.9 320.3,212 320.2,212 320.1,212 320,212 319.9,211.9 319.9,211.9 319.9,211.9" fill="#b00000"/>
<polygon points="334.2,300.5 334.2,299 334.9,297.6 336.2,296.2 338,295 340.4,293.9 343.1,292.9 346.3,292.1 349.8,291.5 353.5,291.1 357.4,290.9 361.3,291 365.3,291.2 369.1,291.6 372.7,292.2 376.1,293.1 379.1,294.1 381.8,295.2 383.9,296.4 385.6,297.8 386.6,299.2 387,300.7 386.8,302.2 385.9,303.7 384.3,305 382.1,306.3 379.3,307.4 376.1,308.3 372.3,309.1 368.3,309.6 364,309.8 359.6,309.8 355.3,309.5 351.1,309 347.2,308.2 343.6,307.3 340.6,306.1 338,304.9 336.1,303.5 334.8,302" fill="#78009f"/>
<polygon points="334.2,300.5 334.2,299 334.9,297.6 336.2,296.2 338,295 340.4,293.9 343.1,292.9 346.3,292.1 348.5,291.6 351.5,291.1 354.6,290.8 357.9,290.6 361.2,290.6 364.6,290.8 367.8,291.2 370.9,291.7 373.7,292.4 376.1,293.1 379.1,294.1 381.8,295.2 383.9,296.4 385.6,297.8 386.6,299.2 387,300.7 386.8,302.2 385.9,303.7 384.3,305 382.1,306.3 379.3,307.4 376.1,308.3 372.3,309.1 368.3,309.6 364,309.8 359.6,309.8 355.3,309.5 351.1,309 347.2,308.2 343.6,307.3 340.6,306.1 338,304.9 336.1,303.5 334.8,302" fill="#78009f"/>
<polygon points="338.4,297.4 338.9,296.2 340,295.1 341.5,294 343.7,292.8 345.5,292 347.5,291.2 349.9,290.7 352.5,290.2 355.3,289.9 358.2,289.8 361.2,289.8 364.1,290 367,290.3 369.7,290.8 372.3,291.4 374.5,292.1 376.5,292.9 378.1,293.9 380.3,295.3 381.7,296.4 382.5,297.6 382.8,298.8 382.6,300.1 381.8,301.3 380.5,302.4 378.6,303.4 376.3,304.4 373.5,305.1 370.4,305.7 367,306.1 363.5,306.3 359.8,306.3 356.2,306.1 352.7,305.6 349.4,305 346.4,304.2 343.9,303.3 341.7,302.2 340.1,301.1 339,299.9 338.4,298.6" fill="#7b00a5"/>
<polygon points="341,295.8 341.5,294.7 342.4,293.7 344.1,292.2 345.3,291.4 346.9,290.6 348.7,290 350.9,289.5 353.3,289.1 355.8,288.8 358.5,288.7 361.2,288.7 363.9,288.9 366.5,289.1 368.9,289.6 371.2,290.1 373.3,290.8 375.1,291.5 376.5,292.4 377.6,293.3 379.2,294.9 380,295.9 380.2,297 380,298.1 379.3,299.1 378.1,300.1 376.5,301 374.4,301.8 372,302.5 369.2,303 366.3,303.3 363.1,303.5 359.9,303.5 356.8,303.3 353.7,302.9 350.8,302.4 348.2,301.7 345.9,300.9 344,300 342.5,299 341.6,297.9 341,296.8" fill="#7c00b2"/>
<polygon points="342.9,294.1 343.2,293.1 344.6,291.5 345.4,290.7 346.5,289.9 347.9,289.2 349.7,288.6 351.7,288.2 353.9,287.8 356.2,287.6 358.6,287.4 361.1,287.4 363.6,287.6 366.1,287.9 368.4,288.2 370.5,288.7 372.4,289.4 374,290 375.3,290.8 376.3,291.6 377.6,293.3 378.2,294.2 378.4,295.2 378.2,296.1 377.6,297.1 376.5,298 375,298.8 373.1,299.5 370.9,300.1 368.4,300.5 365.8,300.9 362.9,301 360,301 357.1,300.8 354.4,300.5 351.8,300 349.4,299.4 347.3,298.7 345.6,297.8 344.3,296.9 343.4,296 342.9,295" fill="#7500cc"/>
<polygon points="344.2,292.4 344.6,291.5 345.7,289.9 346.4,289.1 347.4,288.4 348.8,287.8 350.4,287.2 352.3,286.8 354.3,286.4 356.5,286.2 358.8,286.1 361.1,286.1 363.5,286.2 365.7,286.5 367.9,286.8 369.9,287.3 371.6,287.9 373.1,288.5 374.4,289.2 375.3,290 375.8,290.8 376.9,292.5 377.1,293.4 376.9,294.3 376.3,295.1 375.3,295.9 373.9,296.7 372.2,297.3 370.1,297.9 367.9,298.3 365.4,298.6 362.8,298.7 360.1,298.7 357.4,298.5 354.9,298.2 352.5,297.8 350.3,297.2 348.4,296.6 346.8,295.8 345.6,295 344.7,294.1 344.3,293.2" fill="#6e00e6"/>
<polygon points="345.4,290.6 345.7,289.9 346.6,288.2 347.3,287.5 348.3,286.8 349.5,286.2 351.1,285.7 352.8,285.3 354.7,285 356.8,284.8 358.9,284.7 361.1,284.7 363.3,284.8 365.4,285 367.5,285.4 369.3,285.8 371,286.3 372.4,286.9 373.6,287.6 374.4,288.3 374.9,289.1 375.8,290.8 376,291.6 375.8,292.4 375.2,293.2 374.3,293.9 373,294.6 371.4,295.2 369.5,295.7 367.4,296.1 365.1,296.4 362.6,296.5 360.2,296.5 357.7,296.3 355.3,296 353.1,295.6 351,295.1 349.3,294.5 347.8,293.8 346.6,293.1 345.8,292.3 345.4,291.5" fill="#4a00ee"/>
<polygon points="346.3,288.9 346.6,288.2 347.4,286.5 348.1,285.9 349,285.2 350.2,284.7 351.6,284.2 353.2,283.8 355.1,283.5 357,283.3 359.1,283.2 361.1,283.2 363.2,283.4 365.2,283.6 367.1,283.9 368.9,284.3 370.5,284.8 371.8,285.3 372.9,286 373.7,286.6 374.2,287.3 374.9,289.1 375.1,289.8 374.9,290.6 374.4,291.3 373.5,292 372.3,292.6 370.8,293.2 369,293.6 367,294 364.8,294.2 362.6,294.3 360.2,294.3 357.9,294.2 355.7,293.9 353.6,293.6 351.7,293.1 350,292.5 348.6,291.9 347.5,291.2 346.8,290.4 346.4,289.7" fill="#2700f6"/>
<polygon points="347.1,287.2 348.1,284.8 348.7,284.2 349.6,283.6 350.7,283.1 352.1,282.7 353.6,282.3 355.4,282 357.2,281.8 359.2,281.7 361.1,281.8 363.1,281.9 365,282.1 366.8,282.4 368.5,282.7 370,283.2 371.3,283.7 372.3,284.3 373.1,284.9 373.5,285.6 374.2,287.3 374.3,288 374.2,288.7 373.6,289.4 372.8,290.1 371.6,290.6 370.2,291.2 368.5,291.6 366.6,291.9 364.6,292.1 362.5,292.2 360.3,292.2 358.1,292.1 356,291.9 354,291.5 352.2,291.1 350.6,290.6 349.3,290 348.3,289.3 347.6,288.6 347.2,287.9" fill="#0300fe"/>
<polygon points="347.9,285.5 348.5,283.7 348.8,283.1 349.3,282.6 350.2,282 351.2,281.5 352.5,281.1 354,280.8 355.7,280.5 357.4,280.3 359.3,280.2 361.1,280.2 363,280.3 364.8,280.5 366.6,280.8 368.1,281.2 369.6,281.6 370.8,282.1 371.8,282.6 372.5,283.2 372.9,283.9 373.5,285.6 373.6,286.3 373.5,286.9 373,287.6 372.2,288.2 371.1,288.7 369.7,289.2 368.1,289.6 366.4,289.9 364.4,290.1 362.4,290.2 360.3,290.2 358.3,290.1 356.3,289.9 354.4,289.5 352.7,289.1 351.2,288.6 349.9,288.1 349,287.4 348.3,286.8 347.9,286.1" fill="#0033ff"/>
<polygon points="348.5,283.7 349.1,282 349.4,281.4 349.9,280.9 350.7,280.4 351.7,279.9 352.9,279.5 354.4,279.2 355.9,278.9 357.6,278.8 359.4,278.7 361.2,278.7 362.9,278.8 364.7,279 366.3,279.2 367.8,279.6 369.2,280 370.3,280.5 371.3,281 371.9,281.5 372.4,282.1 372.9,283.9 373,284.5 372.9,285.1 372.4,285.7 371.6,286.3 370.6,286.8 369.3,287.2 367.8,287.6 366.1,287.9 364.3,288.1 362.3,288.2 360.4,288.2 358.4,288.1 356.5,287.9 354.7,287.6 353.1,287.2 351.7,286.7 350.5,286.2 349.6,285.6 348.9,285 348.6,284.4" fill="#006bff"/>
<polygon points="349.1,282 349.7,280.3 349.9,279.7 350.4,279.2 351.2,278.7 352.1,278.3 353.3,277.9 354.7,277.6 356.2,277.4 357.8,277.2 359.5,277.1 361.2,277.1 362.9,277.2 364.5,277.4 366.1,277.7 367.5,278 368.8,278.4 369.9,278.8 370.8,279.3 371.5,279.8 371.9,280.4 372.4,282.1 372.5,282.7 372.3,283.3 371.9,283.9 371.2,284.4 370.2,284.9 368.9,285.3 367.5,285.7 365.9,285.9 364.1,286.1 362.3,286.2 360.4,286.2 358.6,286.1 356.8,285.9 355.1,285.6 353.5,285.2 352.1,284.8 351,284.3 350.1,283.8 349.5,283.2 349.2,282.6" fill="#0092fc"/>
<polygon points="349.7,280.3 350.2,278.5 350.4,278 350.9,277.5 351.6,277.1 352.6,276.7 353.7,276.3 355,276 356.4,275.8 357.9,275.6 359.5,275.6 361.2,275.6 362.8,275.7 364.4,275.8 365.9,276.1 367.3,276.4 368.5,276.8 369.6,277.2 370.4,277.6 371,278.1 371.4,278.6 371.9,280.4 372,280.9 371.8,281.5 371.4,282 370.7,282.5 369.8,283 368.6,283.4 367.2,283.7 365.7,284 364,284.2 362.2,284.2 360.5,284.2 358.7,284.1 357,283.9 355.4,283.7 353.9,283.3 352.6,282.9 351.5,282.4 350.6,281.9 350.1,281.4 349.7,280.8" fill="#00b9f9"/>
<polygon points="350.2,278.5 350.7,276.8 350.9,276.3 351.4,275.9 352,275.4 352.9,275 354,274.7 355.2,274.4 356.6,274.2 358.1,274.1 359.6,274 361.2,274 362.8,274.1 364.3,274.2 365.7,274.5 367,274.8 368.2,275.1 369.2,275.5 370,275.9 370.6,276.4 371,276.9 371.4,278.6 371.5,279.2 371.4,279.7 370.9,280.2 370.3,280.7 369.4,281.1 368.3,281.5 366.9,281.8 365.5,282 363.9,282.2 362.2,282.3 360.5,282.3 358.8,282.2 357.2,282 355.6,281.8 354.2,281.4 353,281 351.9,280.6 351.1,280.1 350.6,279.6 350.3,279.1" fill="#00dff6"/>
<polygon points="350.7,276.8 351.2,275.1 351.4,274.6 351.8,274.2 352.4,273.8 353.3,273.4 354.3,273.1 355.5,272.8 356.8,272.6 358.2,272.5 359.7,272.4 361.2,272.4 362.7,272.5 364.1,272.6 365.5,272.9 366.8,273.1 367.9,273.5 368.9,273.8 369.6,274.3 370.2,274.7 370.6,275.2 371,276.9 371.1,277.4 370.9,277.9 370.5,278.4 369.9,278.8 369,279.2 368,279.6 366.7,279.9 365.3,280.1 363.8,280.3 362.2,280.3 360.6,280.3 358.9,280.2 357.4,280.1 355.9,279.8 354.5,279.5 353.4,279.2 352.4,278.7 351.6,278.3 351.1,277.8 350.8,277.3" fill="#01f1d8"/>
<polygon points="351.2,275.1 351.6,273.3 351.8,272.9 352.2,272.5 352.8,272.1 353.6,271.7 354.6,271.4 355.8,271.2 357,271 358.4,270.9 359.8,270.8 361.2,270.8 362.6,270.9 364,271 365.4,271.2 366.6,271.5 367.6,271.8 368.6,272.2 369.3,272.6 369.8,273 370.2,273.4 370.6,275.2 370.6,275.6 370.5,276.1 370.1,276.6 369.5,277 368.7,277.4 367.7,277.7 366.5,278 365.1,278.2 363.7,278.4 362.1,278.4 360.6,278.4 359,278.3 357.5,278.2 356.1,277.9 354.8,277.6 353.7,277.3 352.8,276.9 352,276.5 351.5,276 351.2,275.5" fill="#03f2a3"/>
<polygon points="351.6,273.3 352.1,271.6 352.2,271.2 352.6,270.8 353.2,270.4 354,270.1 354.9,269.8 356,269.6 357.2,269.4 358.5,269.3 359.9,269.2 361.2,269.2 362.6,269.3 363.9,269.4 365.2,269.6 366.4,269.9 367.4,270.2 368.3,270.5 369,270.9 369.5,271.3 369.8,271.7 370.3,273.9 370.1,274.3 369.8,274.8 369.2,275.1 368.4,275.5 367.4,275.8 366.2,276.1 365,276.3 363.6,276.4 362.1,276.5 360.6,276.5 359.1,276.4 357.7,276.3 356.4,276 355.1,275.8 354.1,275.4 353.1,275.1 352.4,274.7 351.9,274.2 351.7,273.8" fill="#06f36f"/>
<polygon points="352.1,271.6 352.5,269.9 352.6,269.5 353,269.1 353.6,268.7 354.3,268.4 355.2,268.2 356.2,267.9 357.4,267.8 358.6,267.6 359.9,267.6 361.2,267.6 362.6,267.7 363.8,267.8 365,268 366.1,268.2 367.1,268.5 368,268.8 368.6,269.2 369.1,269.6 369.4,269.9 369.9,272.1 369.8,272.5 369.4,272.9 368.9,273.3 368.1,273.7 367.1,274 366.1,274.2 364.8,274.4 363.5,274.5 362.1,274.6 360.7,274.6 359.3,274.5 357.9,274.4 356.6,274.2 355.4,273.9 354.4,273.6 353.5,273.2 352.8,272.9 352.4,272.4 352.1,272" fill="#08f43b"/>
<polygon points="352.5,269.9 352.9,268.1 353,267.8 353.4,267.4 353.9,267.1 354.6,266.8 355.5,266.5 356.5,266.3 357.6,266.1 358.8,266 360,266 361.3,266 362.5,266.1 363.7,266.2 364.9,266.4 365.9,266.6 366.9,266.8 367.7,267.1 368.4,267.5 368.8,267.8 369.1,268.2 369.2,268.6 369.5,270.4 369.4,270.7 369.1,271.1 368.5,271.5 367.8,271.8 366.9,272.1 365.9,272.3 364.7,272.5 363.4,272.6 362.1,272.7 360.7,272.7 359.4,272.6 358.1,272.5 356.8,272.3 355.7,272 354.7,271.7 353.9,271.4 353.2,271 352.8,270.6 352.5,270.3" fill="#0cf50a"/>
<polygon points="352.9,268.1 353.2,266.4 353.4,266 353.7,265.7 354.2,265.4 354.9,265.1 355.8,264.9 356.7,264.7 357.8,264.5 358.9,264.4 360.1,264.4 361.3,264.4 362.5,264.4 363.6,264.5 364.7,264.7 365.8,264.9 366.7,265.2 367.4,265.4 368.1,265.8 368.5,266.1 368.8,266.5 368.8,266.8 369.2,268.6 369.1,269 368.7,269.3 368.2,269.7 367.5,270 366.7,270.2 365.7,270.5 364.5,270.6 363.3,270.7 362.1,270.8 360.8,270.8 359.5,270.7 358.2,270.6 357,270.4 355.9,270.2 355,269.9 354.2,269.6 353.6,269.2 353.1,268.9 352.9,268.5" fill="#2ef508"/>
<polygon points="353.2,266.4 353.6,264.6 353.8,264.3 354.1,264 354.6,263.7 355.2,263.4 356,263.2 356.9,263 357.9,262.9 359,262.8 360.1,262.7 361.3,262.7 362.4,262.8 363.6,262.9 364.6,263.1 365.6,263.3 366.4,263.5 367.2,263.8 367.8,264.1 368.2,264.4 368.4,264.7 368.5,265.1 368.8,266.8 368.7,267.2 368.4,267.5 367.9,267.8 367.3,268.1 366.4,268.4 365.5,268.6 364.4,268.8 363.2,268.9 362,268.9 360.8,268.9 359.6,268.8 358.4,268.7 357.2,268.5 356.2,268.3 355.3,268.1 354.5,267.8 353.9,267.4 353.5,267.1 353.3,266.7" fill="#4ff505"/>
<polygon points="353.6,264.6 354,262.9 354.1,262.6 354.4,262.3 354.9,262 355.5,261.8 356.3,261.5 357.1,261.4 358.1,261.2 359.1,261.1 360.2,261.1 361.3,261.1 362.4,261.2 363.5,261.3 364.5,261.4 365.4,261.6 366.2,261.8 366.9,262.1 367.5,262.4 367.9,262.7 368.1,263 368.2,263.3 368.5,265.1 368.4,265.4 368.1,265.7 367.6,266 367,266.3 366.2,266.5 365.3,266.7 364.3,266.9 363.2,267 362,267 360.8,267 359.6,267 358.5,266.9 357.4,266.7 356.4,266.5 355.6,266.2 354.9,265.9 354.3,265.6 353.9,265.3 353.6,265" fill="#70f503"/>
<polygon points="354,262.9 354.3,261.1 354.5,260.9 354.8,260.6 355.2,260.3 355.8,260.1 356.5,259.9 357.3,259.7 358.3,259.6 359.2,259.5 360.3,259.5 361.3,259.5 362.4,259.5 363.4,259.6 364.3,259.8 365.2,259.9 366,260.1 366.7,260.4 367.2,260.6 367.6,260.9 367.8,261.2 367.9,261.5 368.2,263.3 368.1,263.6 367.8,263.9 367.4,264.2 366.8,264.4 366,264.7 365.1,264.9 364.2,265 363.1,265.1 362,265.1 360.9,265.1 359.7,265.1 358.6,265 357.6,264.8 356.7,264.6 355.9,264.4 355.2,264.1 354.6,263.8 354.2,263.5 354,263.2" fill="#92f501"/>
<polygon points="354.3,261.1 354.7,259.4 354.8,259.1 355.1,258.9 355.5,258.6 356.1,258.4 356.8,258.2 357.6,258.1 358.4,257.9 359.4,257.9 360.3,257.8 361.3,257.8 362.3,257.9 363.3,258 364.2,258.1 365.1,258.3 365.8,258.5 366.4,258.7 367,258.9 367.3,259.2 367.5,259.5 367.6,259.8 367.9,261.5 367.8,261.8 367.5,262.1 367.1,262.4 366.5,262.6 365.8,262.8 365,263 364,263.1 363,263.2 362,263.3 360.9,263.3 359.8,263.2 358.8,263.1 357.8,263 356.9,262.8 356.1,262.6 355.5,262.3 354.9,262 354.6,261.8 354.4,261.4" fill="#abf600"/>
<polygon points="354.7,259.4 355,257.7 355.1,257.4 355.4,257.2 355.8,256.9 356.4,256.7 357,256.5 357.8,256.4 358.6,256.3 359.5,256.2 360.4,256.2 361.4,256.2 362.3,256.2 363.2,256.3 364.1,256.4 364.9,256.6 365.6,256.8 366.2,257 366.7,257.2 367.1,257.5 367.3,257.7 367.3,258 367.6,259.8 367.5,260.1 367.2,260.3 366.8,260.6 366.3,260.8 365.6,261 364.8,261.2 363.9,261.3 363,261.4 362,261.4 360.9,261.4 359.9,261.4 358.9,261.3 358,261.1 357.1,260.9 356.4,260.7 355.8,260.5 355.3,260.2 354.9,260 354.7,259.7" fill="#bdf800"/>
<polygon points="355,257.7 355.4,255.9 355.5,255.7 355.7,255.4 356.1,255.2 356.6,255 357.2,254.9 357.9,254.7 358.7,254.6 359.6,254.6 360.5,254.5 361.4,254.5 362.3,254.6 363.1,254.7 364,254.8 364.7,254.9 365.4,255.1 366,255.3 366.4,255.5 366.8,255.8 367,256 367,256.2 367.3,258 367.2,258.3 367,258.5 366.6,258.8 366.1,259 365.4,259.2 364.7,259.3 363.8,259.4 362.9,259.5 361.9,259.6 361,259.5 360,259.5 359.1,259.4 358.2,259.3 357.4,259.1 356.6,258.9 356.1,258.7 355.6,258.5 355.2,258.2 355.1,257.9" fill="#d0fa00"/>
<polygon points="355.4,255.9 355.7,254.2 355.8,254 356,253.7 356.4,253.5 356.9,253.3 357.5,253.2 358.1,253.1 358.9,253 359.7,252.9 360.5,252.9 361.4,252.9 362.2,252.9 363.1,253 363.9,253.1 364.6,253.2 365.2,253.4 365.8,253.6 366.2,253.8 366.5,254 366.7,254.2 366.8,254.5 367,256.2 366.9,256.5 366.7,256.7 366.3,256.9 365.8,257.1 365.2,257.3 364.5,257.5 363.7,257.6 362.8,257.7 361.9,257.7 361,257.7 360.1,257.6 359.2,257.6 358.4,257.4 357.6,257.3 356.9,257.1 356.3,256.9 355.9,256.7 355.6,256.4 355.4,256.2" fill="#e3fc00"/>
<polygon points="355.7,254.2 356,252.4 356.1,252.2 356.3,252 356.7,251.8 357.1,251.7 357.7,251.5 358.3,251.4 359,251.3 359.8,251.2 360.6,251.2 361.4,251.2 362.2,251.3 363,251.3 363.7,251.4 364.4,251.6 365,251.7 365.6,251.9 366,252.1 366.3,252.3 366.4,252.5 366.5,252.7 366.8,254.5 366.7,254.7 366.4,254.9 366.1,255.1 365.6,255.3 365,255.5 364.4,255.6 363.6,255.7 362.8,255.8 361.9,255.8 361.1,255.8 360.2,255.8 359.3,255.7 358.5,255.6 357.8,255.4 357.2,255.3 356.6,255.1 356.2,254.9 355.9,254.7 355.7,254.4" fill="#f6fe00"/>
<polygon points="356,252.4 356.3,250.7 356.4,250.5 356.6,250.3 357,250.1 357.4,250 357.9,249.8 358.5,249.7 359.2,249.6 359.9,249.6 360.7,249.6 361.4,249.6 362.2,249.6 362.9,249.7 363.6,249.8 364.3,249.9 364.9,250 365.3,250.2 365.7,250.4 366,250.6 366.2,250.8 366.2,251 366.5,252.7 366.4,252.9 366.2,253.2 365.9,253.3 365.4,253.5 364.9,253.7 364.2,253.8 363.5,253.9 362.7,254 361.9,254 361.1,254 360.3,253.9 359.5,253.9 358.7,253.8 358,253.6 357.4,253.5 356.9,253.3 356.5,253.1 356.2,252.9 356.1,252.7" fill="#fff200"/>
<polygon points="356.3,250.7 356.7,249 356.8,248.8 356.9,248.6 357.2,248.4 357.6,248.3 358.1,248.2 358.7,248.1 359.3,248 360,247.9 360.7,247.9 361.4,247.9 362.2,247.9 362.9,248 363.5,248.1 364.1,248.2 364.7,248.3 365.1,248.5 365.5,248.7 365.8,248.8 365.9,249 365.9,249.2 366.2,251 366.1,251.2 365.9,251.4 365.6,251.5 365.2,251.7 364.7,251.8 364.1,252 363.4,252.1 362.7,252.1 361.9,252.1 361.1,252.1 360.3,252.1 359.6,252 358.9,251.9 358.2,251.8 357.6,251.7 357.2,251.5 356.8,251.3 356.5,251.1 356.4,250.9" fill="#ffd800"/>
<polygon points="356.7,249 357,247.2 357.1,247 357.2,246.9 357.5,246.7 357.9,246.6 358.4,246.5 358.9,246.4 359.5,246.3 360.1,246.2 360.8,246.2 361.5,246.2 362.1,246.3 362.8,246.3 363.4,246.4 364,246.5 364.5,246.6 364.9,246.8 365.2,246.9 365.5,247.1 365.6,247.3 365.7,247.4 365.9,249.2 365.9,249.4 365.7,249.6 365.4,249.7 365,249.9 364.5,250 363.9,250.1 363.3,250.2 362.6,250.3 361.9,250.3 361.2,250.3 360.4,250.2 359.7,250.2 359.1,250.1 358.4,250 357.9,249.8 357.4,249.7 357.1,249.5 356.8,249.3 356.7,249.2" fill="#ffbe00"/>
<polygon points="357,247.2 357.3,245.5 357.4,245.3 357.5,245.2 357.8,245 358.1,244.9 358.6,244.8 359.1,244.7 359.6,244.6 360.2,244.6 360.8,244.6 361.5,244.6 362.1,244.6 362.7,244.6 363.3,244.7 363.8,244.8 364.3,244.9 364.7,245.1 365,245.2 365.3,245.4 365.4,245.5 365.4,245.7 365.7,247.4 365.6,247.6 365.4,247.8 365.2,247.9 364.8,248.1 364.3,248.2 363.8,248.3 363.2,248.4 362.6,248.4 361.9,248.4 361.2,248.4 360.5,248.4 359.8,248.4 359.2,248.3 358.6,248.2 358.1,248 357.7,247.9 357.4,247.7 357.1,247.6 357,247.4" fill="#ffa400"/>
<polygon points="357.3,245.5 357.6,243.7 357.6,243.6 357.8,243.4 358.1,243.3 358.4,243.2 358.8,243.1 359.3,243 359.8,242.9 360.3,242.9 360.9,242.9 361.5,242.9 362.1,242.9 362.6,243 363.2,243 363.7,243.1 364.1,243.2 364.5,243.3 364.8,243.5 365,243.6 365.1,243.8 365.2,243.9 365.4,245.7 365.4,245.8 365.2,246 364.9,246.1 364.6,246.3 364.2,246.4 363.7,246.5 363.1,246.6 362.5,246.6 361.9,246.6 361.2,246.6 360.6,246.6 360,246.5 359.4,246.4 358.8,246.3 358.4,246.2 358,246.1 357.6,245.9 357.4,245.8 357.3,245.6" fill="#ff8a00"/>
<polygon points="357.6,243.7 357.9,242 357.9,241.8 358.1,241.7 358.3,241.6 358.6,241.5 359,241.4 359.4,241.3 359.9,241.3 360.4,241.2 361,241.2 361.5,241.2 362.1,241.2 362.6,241.3 363.1,241.3 363.6,241.4 364,241.5 364.3,241.6 364.6,241.8 364.8,241.9 364.9,242 364.9,242.2 365.2,243.9 365.1,244.1 365,244.2 364.7,244.3 364.4,244.5 364,244.6 363.5,244.7 363,244.7 362.4,244.8 361.9,244.8 361.3,244.8 360.7,244.8 360.1,244.7 359.5,244.6 359,244.5 358.6,244.4 358.2,244.3 357.9,244.2 357.7,244 357.6,243.9" fill="#ff6c00"/>
<polygon points="357.9,242 358.2,240.2 358.2,240.1 358.4,240 358.6,239.9 358.9,239.8 359.2,239.7 359.6,239.6 360.1,239.6 360.5,239.6 361,239.5 361.5,239.5 362,239.6 362.5,239.6 363,239.7 363.4,239.7 363.8,239.8 364.1,239.9 364.4,240 364.6,240.2 364.6,240.3 364.7,240.4 364.9,242.2 364.9,242.3 364.7,242.4 364.5,242.6 364.2,242.7 363.8,242.8 363.4,242.8 362.9,242.9 362.4,242.9 361.9,242.9 361.3,242.9 360.7,242.9 360.2,242.9 359.7,242.8 359.2,242.7 358.8,242.6 358.5,242.5 358.2,242.4 358,242.3 357.9,242.1" fill="#ff4a00"/>
<polygon points="358.2,240.2 358.5,238.5 358.5,238.4 358.7,238.3 358.9,238.2 359.1,238.1 359.4,238 359.8,238 360.2,237.9 360.6,237.9 361.1,237.9 361.6,237.9 362,237.9 362.5,237.9 362.9,238 363.3,238 363.6,238.1 363.9,238.2 364.1,238.3 364.3,238.4 364.4,238.5 364.4,238.7 364.7,240.4 364.6,240.5 364.5,240.7 364.3,240.8 364,240.8 363.7,240.9 363.3,241 362.8,241.1 362.4,241.1 361.9,241.1 361.3,241.1 360.8,241.1 360.3,241.1 359.9,241 359.4,240.9 359.1,240.8 358.7,240.7 358.5,240.6 358.3,240.5 358.2,240.4" fill="#ff2900"/>
<polygon points="358.5,238.5 358.8,236.8 358.8,236.7 358.9,236.6 359.1,236.5 359.3,236.4 359.6,236.3 360,236.3 360.3,236.2 360.7,236.2 361.1,236.2 361.6,236.2 362,236.2 362.4,236.2 362.8,236.3 363.1,236.3 363.5,236.4 363.7,236.5 363.9,236.6 364.1,236.7 364.2,236.8 364.2,236.9 364.4,238.7 364.4,238.8 364.3,238.9 364.1,239 363.8,239.1 363.5,239.1 363.1,239.2 362.7,239.2 362.3,239.3 361.8,239.3 361.4,239.3 360.9,239.3 360.4,239.2 360,239.2 359.6,239.1 359.3,239 359,238.9 358.8,238.8 358.6,238.7 358.5,238.6" fill="#ff0700"/>
<polygon points="358.8,236.8 359.1,235 359.1,234.9 359.2,234.8 359.4,234.8 359.6,234.7 359.8,234.6 360.1,234.6 360.5,234.5 360.8,234.5 361.2,234.5 361.6,234.5 362,234.5 362.3,234.6 362.7,234.6 363,234.7 363.3,234.7 363.5,234.8 363.7,234.9 363.9,234.9 363.9,235 364,235.1 364.2,236.9 364.2,237 364.1,237.1 363.9,237.2 363.6,237.2 363.4,237.3 363,237.4 362.6,237.4 362.2,237.4 361.8,237.5 361.4,237.5 361,237.4 360.6,237.4 360.2,237.4 359.8,237.3 359.5,237.2 359.2,237.1 359,237.1 358.9,236.9 358.8,236.8" fill="#ff0000"/>
<polygon points="359.1,235 359.3,233.3 359.4,233.2 359.5,233.1 359.6,233 359.8,233 360,232.9 360.3,232.9 360.6,232.8 360.9,232.8 361.3,232.8 361.9,232.8 362.3,232.9 362.6,232.9 362.9,232.9 363.1,233 363.4,233.1 363.5,233.1 363.6,233.2 363.7,233.3 363.7,233.4 364,235.1 363.9,235.2 363.8,235.3 363.7,235.4 363.5,235.4 363.2,235.5 362.9,235.6 362.6,235.6 362.2,235.6 361.8,235.6 361.4,235.6 361.1,235.6 360.7,235.6 360.3,235.6 360,235.5 359.7,235.4 359.5,235.3 359.3,235.3 359.1,235.2 359.1,235.1" fill="#fe0000"/>
<polygon points="359.3,233.3 359.6,231.5 359.6,231.4 359.7,231.4 359.9,231.3 360,231.3 360.2,231.2 360.5,231.2 360.7,231.2 361,231.1 361.6,231.1 361.9,231.1 362.2,231.2 362.5,231.2 362.8,231.2 363,231.3 363.2,231.3 363.3,231.4 363.4,231.5 363.5,231.5 363.5,231.6 363.7,233.4 363.7,233.4 363.6,233.5 363.5,233.6 363.3,233.7 363.1,233.7 362.8,233.8 362.5,233.8 362.2,233.8 361.8,233.8 361.5,233.8 361.1,233.8 360.8,233.8 360.5,233.7 360.2,233.7 359.9,233.6 359.7,233.6 359.5,233.5 359.4,233.4 359.4,233.3" fill="#fd0000"/>
<polygon points="359.6,231.5 359.9,229.8 359.9,229.7 360,229.7 360.1,229.6 360.2,229.6 360.4,229.5 360.6,229.5 360.9,229.5 361.1,229.4 361.6,229.4 361.9,229.4 362.2,229.5 362.4,229.5 362.6,229.5 362.8,229.6 363,229.6 363.1,229.7 363.2,229.7 363.3,229.8 363.3,229.8 363.5,231.6 363.5,231.7 363.4,231.8 363.3,231.8 363.1,231.9 362.9,231.9 362.7,231.9 362.4,232 362.1,232 361.8,232 361.5,232 361.2,232 360.9,232 360.6,231.9 360.4,231.9 360.1,231.8 359.9,231.8 359.8,231.7 359.7,231.7 359.6,231.6" fill="#fd0000"/>
<polygon points="359.9,229.8 360.2,228 360.2,228 360.2,227.9 360.4,227.9 360.5,227.8 360.6,227.8 361,227.8 361.2,227.8 361.4,227.7 361.9,227.8 362.1,227.8 362.3,227.8 362.5,227.8 362.7,227.9 362.8,227.9 362.9,227.9 363,228 363.1,228.1 363.1,228.1 363.3,229.8 363.3,229.9 363.2,230 363.1,230 362.9,230.1 362.8,230.1 362.6,230.1 362.3,230.2 362.1,230.2 361.5,230.2 361.3,230.2 361,230.2 360.8,230.1 360.6,230.1 360.4,230.1 360.2,230 360.1,229.9 360,229.9 359.9,229.8" fill="#fc0000"/>
<polygon points="360.2,228 360.4,226.3 360.5,226.2 360.5,226.2 360.7,226.1 361,226.1 361.3,226.1 361.7,226.1 361.9,226.1 362.1,226.1 362.2,226.1 362.4,226.1 362.5,226.2 362.6,226.2 362.7,226.2 362.8,226.3 362.8,226.3 362.9,226.3 363.1,228.1 363,228.2 363,228.2 362.9,228.2 362.8,228.3 362.6,228.3 362.4,228.3 362.2,228.4 362,228.4 361.6,228.4 361.4,228.4 361.1,228.3 360.9,228.3 360.7,228.3 360.6,228.3 360.4,228.2 360.3,228.2 360.2,228.1 360.2,228.1" fill="#fb0000"/>
<polygon points="360.4,226.3 360.7,224.5 360.7,224.5 360.8,224.5 360.8,224.4 360.9,224.4 361.1,224.4 361.4,224.4 361.6,224.3 361.7,224.3 362,224.4 362.1,224.4 362.3,224.4 362.4,224.4 362.5,224.5 362.5,224.5 362.6,224.5 362.6,224.6 362.6,224.6 362.9,226.3 362.8,226.4 362.8,226.4 362.6,226.5 362.5,226.5 362.3,226.5 362.2,226.6 362,226.6 361.6,226.6 361.2,226.6 361.1,226.5 360.9,226.5 360.8,226.5 360.6,226.4 360.6,226.4 360.5,226.4 360.4,226.3" fill="#fb0000"/>
<polygon points="360.7,224.5 361,222.8 361,222.7 361.1,222.7 361.1,222.7 361.3,222.7 361.4,222.7 361.6,222.7 361.7,222.7 361.9,222.7 362.1,222.7 362.1,222.7 362.2,222.7 362.3,222.7 362.4,222.8 362.4,222.8 362.4,222.8 362.4,222.8 362.6,224.6 362.6,224.6 362.6,224.6 362.5,224.7 362.4,224.7 362.2,224.7 361.9,224.8 361.8,224.8 361.5,224.8 361.3,224.8 361.2,224.7 361.1,224.7 361,224.7 360.9,224.7 360.8,224.6 360.7,224.6 360.7,224.6" fill="#fa0000"/>
<polygon points="361,222.8 361.2,221 361.2,221 361.3,221 361.4,221 361.6,220.9 361.8,220.9 362,221 362.1,221 362.1,221 362.2,221 362.2,221.1 362.4,222.8 362.4,222.8 362.4,222.9 362.3,222.9 362.3,222.9 362.2,222.9 362.1,222.9 362,222.9 361.9,223 361.6,223 361.3,222.9 361.2,222.9 361.1,222.9 361,222.9 361,222.8 361,222.8" fill="#f10000"/>
<polygon points="361.2,221 361.5,219.3 361.5,219.3 361.5,219.3 361.5,219.3 361.6,219.2 361.8,219.2 361.9,219.3 362,219.3 362,219.3 362,219.3 362.2,221.1 362.2,221.1 362.2,221.1 362.1,221.1 362.1,221.1 362,221.2 361.9,221.2 361.6,221.2 361.6,221.2 361.4,221.1 361.3,221.1 361.2,221.1 361.2,221.1" fill="#e40000"/>
<polygon points="361.5,219.3 361.7,217.6 361.7,217.5 361.8,217.5 361.8,217.6 362,219.3 362,219.3 362,219.3 361.9,219.3 361.9,219.4 361.7,219.4 361.6,219.3 361.5,219.3 361.5,219.3" fill="#d60000"/>
<path d="M262.1 205.2L266.8 307.2M262.1 205.4h2" stroke="#555" stroke-width="0.65" fill="none"/>
<path d="M263 225.6h-1.8M264 246h-1.8M264.9 266.4h-1.8M265.9 286.8h-1.8" stroke="#555" stroke-width="0.6"/>
<path d="M266.8 308.1L346.8 337.2L410.7 304.5" stroke="#999" stroke-width="0.7" fill="none"/>
<text x="254.9" y="210.6" font-size="11">1</text>
<text x="257.1" y="310.5" font-size="11">0</text>
<text x="265.9" y="320.6" font-size="11.6" text-anchor="middle">-40</text>
<text x="299.5" y="331.2" font-size="11.6" text-anchor="middle">0</text>
<text x="332.9" y="344.7" font-size="11.6" text-anchor="middle">40</text>
<text x="357.2" y="343" font-size="11.6" text-anchor="middle">-40</text>
<text x="384.9" y="328.5" font-size="11.6" text-anchor="middle">0</text>
<text x="409.4" y="316.6" font-size="11.6" text-anchor="middle">40</text>
<text x="0" y="0" font-size="13" text-anchor="middle" transform="translate(246.6 261.5) rotate(-90)">Enhancement of |E| (a.u.)</text>
<text x="0" y="0" font-size="12.5" text-anchor="middle" transform="translate(290.4 347) rotate(21)"><tspan font-style="italic">x</tspan>-axis (μm)</text>
<text x="0" y="0" font-size="12.5" text-anchor="middle" transform="translate(399.4 344) rotate(-28)"><tspan font-style="italic">y</tspan>-axis (μm)</text>
<text x="328.4" y="233.6" font-size="13" font-weight="bold">Dip2</text>
<text x="453.6" y="202.2" font-size="14.6" font-weight="bold">f</text>
<polygon points="495.2,307.2 574.3,336.5 637.4,303.2 561.9,282.3" fill="#78009e" />
<polygon points="553.3,295.3 553.5,294.8 554,294.4 554.8,293.9 555.9,293.6 557.2,293.4 558.5,293.2 559.9,293.2 561.2,293.3 562.4,293.4 563.6,293.5 564.6,293.7 565.6,293.9 566.5,294.1 567.3,294.4 568.1,294.7 568.8,295.1 569.4,295.4 569.9,295.9 570.3,296.3 570.4,296.8 570.3,297.3 569.8,297.8 569,298.2 567.9,298.6 566.6,298.9 565.2,299 563.8,299 562.4,299 561.1,298.9 560,298.7 558.9,298.5 557.9,298.3 557,298 556.1,297.8 555.4,297.4 554.7,297.1 554.1,296.7 553.7,296.3 553.4,295.8" fill="#78009f"/>
<polygon points="553.3,295.3 553.5,294.8 554,294.4 555.1,293.4 555.8,293.1 556.7,292.8 557.8,292.6 559,292.5 560.2,292.4 561.3,292.5 562.3,292.6 563.3,292.7 564.2,292.9 565,293 565.8,293.2 566.5,293.5 567.2,293.7 567.8,294 568.3,294.3 568.7,294.7 569.9,295.9 570.3,296.3 570.4,296.8 570.3,297.3 569.8,297.8 569,298.2 567.9,298.6 566.6,298.9 565.2,299 563.8,299 562.4,299 561.1,298.9 560,298.7 558.9,298.5 557.9,298.3 557,298 556.1,297.8 555.4,297.4 554.7,297.1 554.1,296.7 553.7,296.3 553.4,295.8" fill="#78009f"/>
<polygon points="554.5,294.2 554.7,293.8 555.1,293.4 556.2,292.5 556.8,292.2 557.6,291.9 558.5,291.8 559.5,291.7 560.4,291.7 561.4,291.7 562.2,291.8 563.1,291.9 563.8,292 564.5,292.1 565.1,292.3 565.7,292.5 566.3,292.7 566.8,293 567.2,293.2 567.5,293.5 568.7,294.7 569,295.1 569.1,295.5 569,295.9 568.6,296.3 567.9,296.7 567,297 565.9,297.2 564.7,297.3 563.5,297.4 562.3,297.3 561.2,297.2 560.2,297.1 559.3,296.9 558.5,296.7 557.7,296.5 557,296.3 556.3,296 555.8,295.7 555.3,295.4 554.9,295.1 554.6,294.7" fill="#7900a0"/>
<polygon points="555.7,293.1 555.9,292.8 556.2,292.5 557.5,291.6 557.9,291.3 558.5,291.1 559.2,291 560,290.9 560.7,290.9 561.5,290.9 562.1,291 562.8,291.1 563.3,291.2 563.9,291.3 564.4,291.4 564.8,291.6 565.2,291.7 565.6,291.9 565.9,292.1 566.2,292.4 567.5,293.5 567.8,293.8 567.9,294.2 567.8,294.5 567.5,294.9 566.9,295.2 566.1,295.4 565.2,295.6 564.2,295.7 563.2,295.7 562.2,295.7 561.3,295.6 560.5,295.5 559.7,295.4 559,295.2 558.4,295 557.8,294.8 557.2,294.6 556.8,294.4 556.3,294.1 556,293.8 555.8,293.5" fill="#7c00a7"/>
<polygon points="557.1,292.1 557.2,291.8 557.5,291.6 557.9,291.3 558.5,291.1 559.2,291 561,290.8 561.2,290.8 561.7,290.8 561.9,290.8 562.1,290.9 562.2,290.9 562.4,290.9 563.9,291.3 564.4,291.4 564.8,291.6 565.2,291.7 565.6,291.9 565.9,292.1 566.2,292.4 566.4,292.6 566.5,292.9 566.4,293.1 566.1,293.4 565.7,293.6 565.1,293.8 564.4,293.9 563.6,294 562.9,294 562.1,294 561.4,293.9 560.8,293.9 560.2,293.8 559.7,293.6 559.2,293.5 558.7,293.4 558.3,293.2 557.9,293 557.6,292.8 557.4,292.6 557.2,292.3" fill="#7d00b1"/>
<polygon points="568.1,297.4 568.6,296.3 569.6,295.3 571,294.3 572.8,293.4 574.9,292.7 577.4,292 580.1,291.6 583,291.2 586,291.1 589.1,291.1 592.2,291.2 595.2,291.6 598.1,292.1 600.7,292.7 603.1,293.4 605.2,294.3 606.9,295.3 608.1,296.4 609,297.5 609.3,298.6 609.1,299.8 608.4,300.9 607.1,302 605.5,302.9 603.3,303.8 600.8,304.5 597.9,305.1 594.8,305.5 591.5,305.7 588.1,305.7 584.7,305.5 581.5,305.1 578.4,304.5 575.7,303.8 573.3,302.9 571.3,301.9 569.8,300.9 568.7,299.8 568.2,298.6" fill="#78009f"/>
<polygon points="568.1,297.4 568.6,296.3 569.6,295.3 571,294.3 572.8,293.4 574.9,292.7 577.4,292 580.1,291.6 583,291.2 586,291.1 589.1,291.1 592.2,291.2 595.2,291.6 598.1,292.1 600.7,292.7 603.1,293.4 605.2,294.3 606.9,295.3 608.1,296.4 609,297.5 609.3,298.6 609.1,299.8 608.4,300.9 607.1,302 605.5,302.9 603.3,303.8 600.8,304.5 597.9,305.1 594.8,305.5 591.5,305.7 588.1,305.7 584.7,305.5 581.5,305.1 578.4,304.5 575.7,303.8 573.3,302.9 571.3,301.9 569.8,300.9 568.7,299.8 568.2,298.6" fill="#78009f"/>
<polygon points="574.5,296.1 574.8,295.4 575.4,294.6 576.4,293.9 577.6,293.3 579.1,292.8 580.8,292.4 582.7,292 584.4,291.8 585.8,291.6 587.4,291.5 588.9,291.5 590.5,291.6 592,291.8 593.4,292 595.2,292.4 597.1,292.8 598.8,293.4 600.2,294 601.3,294.6 602.2,295.4 602.7,296.1 602.9,296.9 602.7,297.7 602.2,298.5 601.4,299.2 600.2,299.9 598.7,300.4 596.9,300.9 595,301.3 592.8,301.6 590.6,301.7 588.3,301.7 586,301.5 583.8,301.3 581.7,300.9 579.8,300.4 578.1,299.8 576.8,299.2 575.7,298.4 574.9,297.7 574.5,296.9" fill="#7a00a3"/>
<polygon points="578.5,294.7 578.8,293.2 579,292.7 579.5,292.2 580.1,291.7 581,291.3 582,290.9 583.2,290.6 584.5,290.4 585.9,290.2 587.4,290.1 588.9,290.1 590.5,290.2 591.9,290.4 593.3,290.6 594.6,290.9 595.8,291.3 596.7,291.7 597.5,292.2 598.1,292.7 598.5,293.2 598.6,293.8 598.9,295.3 598.8,295.9 598.4,296.4 597.8,296.9 596.9,297.4 595.8,297.8 594.6,298.1 593.2,298.4 591.6,298.5 590,298.6 588.4,298.6 586.8,298.5 585.2,298.4 583.7,298.1 582.4,297.8 581.2,297.3 580.2,296.9 579.4,296.4 578.8,295.8 578.5,295.3" fill="#7e00ab"/>
<polygon points="578.8,293.2 579.2,291.7 579.4,291.2 579.8,290.7 580.4,290.3 581.2,289.9 582.2,289.5 583.4,289.2 584.7,289 586,288.8 587.5,288.8 589,288.8 590.4,288.9 591.8,289 593.2,289.2 594.4,289.5 595.5,289.9 596.5,290.3 597.3,290.7 597.8,291.2 598.2,291.7 598.3,292.2 598.6,293.8 598.5,294.3 598.1,294.8 597.5,295.3 596.7,295.7 595.6,296.1 594.4,296.5 593,296.7 591.6,296.9 590,297 588.4,297 586.9,296.9 585.3,296.7 583.9,296.4 582.6,296.1 581.4,295.7 580.5,295.3 579.7,294.8 579.2,294.3 578.9,293.7" fill="#7800c1"/>
<polygon points="579.2,291.7 579.5,290.2 579.7,289.7 580.1,289.2 580.7,288.8 581.5,288.4 582.5,288.1 583.6,287.8 584.8,287.6 586.2,287.4 587.5,287.4 589,287.4 590.4,287.5 591.8,287.6 593.1,287.8 594.3,288.1 595.4,288.4 596.3,288.8 597,289.3 597.5,289.7 597.9,290.2 598,290.7 598.3,292.2 598.2,292.7 597.8,293.2 597.2,293.7 596.4,294.1 595.4,294.5 594.2,294.8 592.9,295.1 591.5,295.2 590,295.3 588.5,295.3 587,295.2 585.5,295 584.1,294.8 582.8,294.5 581.7,294.1 580.8,293.7 580,293.2 579.5,292.7 579.2,292.2" fill="#7200d7"/>
<polygon points="579.5,290.2 579.9,288.7 580,288.2 580.4,287.8 581,287.4 581.8,287 582.7,286.7 583.8,286.4 585,286.2 586.3,286.1 587.6,286 589,286 590.4,286.1 591.7,286.2 592.9,286.4 594.1,286.7 595.1,287 596,287.4 596.7,287.8 597.3,288.2 597.6,288.7 597.7,289.2 598,290.7 597.9,291.2 597.5,291.7 597,292.1 596.2,292.5 595.2,292.9 594.1,293.2 592.8,293.4 591.4,293.6 590,293.6 588.5,293.6 587,293.6 585.6,293.4 584.3,293.1 583,292.9 582,292.5 581.1,292.1 580.4,291.6 579.9,291.2 579.6,290.7" fill="#6300e8"/>
<polygon points="579.9,288.7 580.2,287.2 580.4,286.7 580.8,286.3 581.3,285.9 582,285.6 583,285.3 584,285 585.1,284.8 586.4,284.7 587.7,284.6 589,284.6 590.3,284.7 591.6,284.8 592.8,285 593.9,285.3 594.9,285.6 595.8,285.9 596.5,286.3 597,286.8 597.3,287.2 597.4,287.6 597.7,289.2 597.6,289.6 597.2,290.1 596.7,290.5 595.9,290.9 595,291.2 593.9,291.5 592.7,291.7 591.4,291.9 590,292 588.5,292 587.1,291.9 585.8,291.7 584.5,291.5 583.3,291.2 582.2,290.9 581.4,290.5 580.7,290.1 580.2,289.6 579.9,289.1" fill="#4400f0"/>
<polygon points="580.2,287.2 580.6,285.7 580.7,285.2 581.1,284.8 581.6,284.5 582.3,284.1 583.2,283.8 584.2,283.6 585.3,283.4 586.5,283.3 587.7,283.2 589,283.2 590.3,283.3 591.5,283.4 592.7,283.6 593.8,283.9 594.7,284.1 595.5,284.5 596.2,284.9 596.7,285.3 597,285.7 597.1,286.1 597.4,287.6 597.3,288.1 597,288.5 596.4,288.9 595.7,289.3 594.8,289.6 593.7,289.9 592.6,290.1 591.3,290.2 589.9,290.3 588.6,290.3 587.2,290.2 585.9,290.1 584.6,289.9 583.5,289.6 582.5,289.3 581.6,288.9 581,288.5 580.5,288.1 580.3,287.6" fill="#2500f7"/>
<polygon points="580.6,285.7 580.9,284.1 581.1,283.8 581.4,283.4 581.9,283 582.6,282.7 583.4,282.4 584.4,282.2 585.5,282 586.6,281.9 587.8,281.8 589,281.8 590.2,281.9 591.4,282 592.5,282.2 593.6,282.4 594.5,282.7 595.3,283 595.9,283.4 596.4,283.8 596.7,284.2 596.8,284.6 597.1,286.1 597,286.5 596.7,286.9 596.1,287.3 595.5,287.7 594.6,288 593.6,288.2 592.4,288.4 591.2,288.6 589.9,288.6 588.6,288.6 587.3,288.6 586,288.4 584.8,288.2 583.7,288 582.8,287.7 581.9,287.3 581.3,286.9 580.9,286.5 580.6,286.1" fill="#0600fe"/>
<polygon points="580.9,284.1 581.3,282.6 581.4,282.3 581.7,281.9 582.2,281.6 582.9,281.3 583.7,281 584.6,280.8 585.6,280.6 586.7,280.5 587.9,280.4 589,280.4 590.2,280.5 591.3,280.6 592.4,280.8 593.4,281 594.3,281.3 595.1,281.6 595.7,281.9 596.1,282.3 596.4,282.7 596.5,283 596.8,284.6 596.7,285 596.4,285.4 595.9,285.7 595.2,286.1 594.4,286.4 593.4,286.6 592.3,286.8 591.1,286.9 589.9,287 588.6,287 587.4,286.9 586.1,286.8 585,286.6 584,286.4 583,286.1 582.2,285.7 581.6,285.4 581.2,285 581,284.6" fill="#0028ff"/>
<polygon points="581.3,282.6 581.6,281.1 581.8,280.8 582.1,280.4 582.5,280.1 583.2,279.8 583.9,279.6 584.8,279.4 585.8,279.2 586.8,279.1 587.9,279 589,279 590.2,279.1 591.3,279.2 592.3,279.4 593.2,279.6 594.1,279.8 594.8,280.1 595.4,280.4 595.8,280.8 596.1,281.1 596.2,281.5 596.5,283 596.4,283.4 596.1,283.8 595.6,284.1 595,284.5 594.2,284.7 593.2,285 592.2,285.1 591.1,285.3 589.9,285.3 588.7,285.3 587.5,285.3 586.3,285.1 585.2,285 584.2,284.7 583.3,284.4 582.5,284.1 582,283.8 581.5,283.4 581.3,283" fill="#0059ff"/>
<polygon points="581.6,281.1 582,279.6 582.1,279.3 582.4,279 582.8,278.7 583.4,278.4 584.2,278.1 585,277.9 585.9,277.8 587,277.7 588,277.6 589.1,277.6 590.1,277.7 591.2,277.8 592.2,278 593.1,278.1 593.9,278.4 594.6,278.7 595.1,279 595.5,279.3 595.8,279.6 595.9,280 596.2,281.5 596.1,281.9 595.8,282.2 595.3,282.6 594.7,282.9 594,283.1 593.1,283.3 592.1,283.5 591,283.6 589.9,283.7 588.7,283.7 587.5,283.6 586.4,283.5 585.4,283.3 584.4,283.1 583.5,282.8 582.8,282.5 582.3,282.2 581.9,281.9 581.7,281.5" fill="#0081fe"/>
<polygon points="582,279.6 582.3,278.1 582.4,277.8 582.7,277.5 583.1,277.2 583.7,276.9 584.4,276.7 585.2,276.5 586.1,276.4 587.1,276.3 588.1,276.2 589.1,276.2 590.1,276.3 591.1,276.4 592,276.5 592.9,276.7 593.7,276.9 594.3,277.2 594.9,277.5 595.2,277.8 595.5,278.1 595.5,278.4 595.9,280 595.8,280.3 595.5,280.6 595.1,281 594.5,281.2 593.8,281.5 592.9,281.7 591.9,281.9 590.9,282 589.8,282 588.7,282 587.6,282 586.6,281.9 585.5,281.7 584.6,281.5 583.8,281.2 583.1,280.9 582.6,280.6 582.2,280.3 582,280" fill="#00a3fb"/>
<polygon points="582.3,278.1 582.7,276.6 582.8,276.3 583,276 583.5,275.8 584,275.5 584.7,275.3 585.4,275.1 586.3,275 587.2,274.9 588.1,274.9 589.1,274.9 590.1,274.9 591,275 591.9,275.1 592.7,275.3 593.5,275.5 594.1,275.8 594.6,276 595,276.3 595.2,276.6 595.5,278.4 595.5,278.8 595.2,279.1 594.8,279.4 594.2,279.6 593.5,279.9 592.7,280.1 591.8,280.2 590.8,280.3 589.8,280.4 588.8,280.4 587.7,280.3 586.7,280.2 585.7,280.1 584.9,279.9 584.1,279.6 583.4,279.4 582.9,279.1 582.6,278.8 582.4,278.4" fill="#00c4f8"/>
<polygon points="582.7,276.6 583,275.1 583.1,274.8 583.4,274.5 583.8,274.3 584.3,274.1 584.9,273.9 585.6,273.7 586.4,273.6 587.3,273.5 588.2,273.4 589.1,273.4 590,273.5 590.9,273.6 591.8,273.7 592.5,273.9 593.2,274.1 593.8,274.3 594.3,274.6 594.6,274.8 594.9,275.1 594.9,275.4 595.2,276.6 595.2,276.9 595.1,277.2 594.9,277.5 594.5,277.8 594,278 593.3,278.3 592.5,278.4 591.7,278.6 590.8,278.7 589.8,278.7 588.8,278.7 587.8,278.7 586.8,278.6 585.9,278.4 585.1,278.2 584.4,278 583.7,277.8 583.2,277.5 582.9,277.2 582.7,276.9" fill="#00e6f6"/>
<polygon points="583,275.1 583.4,273.6 583.5,273.3 583.7,273.1 584.1,272.8 584.6,272.6 585.2,272.4 585.8,272.3 586.6,272.2 587.4,272.1 588.3,272 589.1,272 590,272.1 590.8,272.2 591.6,272.3 592.4,272.4 593,272.6 593.6,272.8 594,273.1 594.4,273.3 594.5,273.6 594.6,273.9 594.9,275.4 594.8,275.7 594.6,275.9 594.2,276.2 593.7,276.4 593.1,276.6 592.4,276.8 591.6,276.9 590.7,277 589.8,277.1 588.8,277.1 587.9,277 587,276.9 586.1,276.8 585.3,276.6 584.6,276.4 584,276.2 583.6,275.9 583.2,275.7 583.1,275.4" fill="#01f1d5"/>
<polygon points="583.4,273.6 583.7,272.1 583.8,271.8 584.1,271.6 584.4,271.4 584.9,271.2 585.4,271 586,270.9 586.8,270.8 587.5,270.7 588.3,270.6 589.1,270.6 590,270.7 590.8,270.8 591.5,270.9 592.2,271 592.8,271.2 593.3,271.4 593.8,271.6 594.1,271.8 594.2,272.1 594.6,273.9 594.5,274.1 594.3,274.4 594,274.6 593.5,274.8 592.9,275 592.2,275.2 591.4,275.3 590.6,275.4 589.7,275.4 588.9,275.4 588,275.4 587.1,275.3 586.3,275.2 585.5,275 584.9,274.8 584.3,274.6 583.9,274.4 583.6,274.1 583.4,273.9" fill="#03f2a7"/>
<polygon points="583.7,272.1 584.1,270.6 584.2,270.3 584.4,270.1 584.7,269.9 585.1,269.7 585.7,269.6 586.3,269.4 586.9,269.3 587.6,269.3 588.4,269.2 589.1,269.2 589.9,269.3 590.7,269.3 591.4,269.4 592,269.6 592.6,269.7 593.1,269.9 593.5,270.1 593.8,270.3 593.9,270.6 594,270.8 594.2,272.1 594.3,272.3 594.2,272.6 594,272.8 593.7,273 593.2,273.2 592.7,273.4 592,273.6 591.3,273.7 590.5,273.8 589.7,273.8 588.9,273.8 588,273.8 587.2,273.7 586.5,273.6 585.8,273.4 585.2,273.2 584.6,273 584.2,272.8 583.9,272.6 583.8,272.3" fill="#05f37a"/>
<polygon points="584.1,270.6 584.5,269.1 584.5,268.8 584.7,268.6 585,268.4 585.4,268.3 585.9,268.1 586.5,268 587.1,267.9 587.8,267.9 588.5,267.8 589.2,267.8 589.9,267.9 590.6,267.9 591.2,268 591.8,268.1 592.4,268.3 592.8,268.5 593.2,268.6 593.5,268.9 593.6,269.1 593.7,269.3 594,270.8 593.9,271 593.7,271.2 593.4,271.4 593,271.6 592.5,271.8 591.9,271.9 591.2,272.1 590.5,272.1 589.7,272.2 588.9,272.2 588.1,272.1 587.4,272.1 586.7,271.9 586,271.8 585.4,271.6 585,271.4 584.6,271.2 584.3,271 584.1,270.8" fill="#07f44c"/>
<polygon points="584.5,269.1 584.8,267.5 584.9,267.4 585.1,267.2 585.4,267 585.7,266.8 586.2,266.7 586.7,266.6 587.3,266.5 587.9,266.4 588.5,266.4 589.2,266.4 589.8,266.4 590.5,266.5 591.1,266.6 591.6,266.7 592.1,266.8 592.6,267 592.9,267.2 593.1,267.4 593.3,267.6 593.3,267.7 593.7,269.3 593.6,269.5 593.4,269.7 593.1,269.9 592.7,270 592.2,270.2 591.7,270.3 591.1,270.4 590.4,270.5 589.7,270.5 589,270.5 588.2,270.5 587.5,270.4 586.9,270.3 586.2,270.2 585.7,270 585.2,269.9 584.9,269.7 584.6,269.5 584.5,269.3" fill="#09f51e"/>
<polygon points="584.8,267.5 585.2,266 585.3,265.9 585.4,265.7 585.7,265.5 586,265.4 586.4,265.3 586.9,265.2 587.4,265.1 588,265 588.6,265 589.2,265 589.8,265 590.4,265.1 591,265.2 591.5,265.3 591.9,265.4 592.3,265.5 592.6,265.7 592.9,265.9 593,266 593,266.2 593.3,267.7 593.3,267.9 593.1,268.1 592.9,268.3 592.5,268.4 592,268.6 591.5,268.7 590.9,268.8 590.3,268.9 589.6,268.9 589,268.9 588.3,268.9 587.6,268.8 587,268.7 586.5,268.6 586,268.4 585.6,268.3 585.2,268.1 585,267.9 584.9,267.7" fill="#1af509"/>
<polygon points="585.2,266 585.6,264.5 585.6,264.4 585.8,264.2 586,264.1 586.3,263.9 586.7,263.8 587.1,263.7 587.6,263.7 588.1,263.6 588.7,263.6 589.2,263.6 589.8,263.6 590.3,263.7 590.8,263.7 591.3,263.8 591.7,263.9 592,264.1 592.3,264.2 592.5,264.4 592.7,264.5 593,266.2 593,266.4 592.8,266.6 592.6,266.7 592.2,266.9 591.8,267 591.3,267.1 590.8,267.2 590.2,267.2 589.6,267.2 589,267.2 588.4,267.2 587.8,267.2 587.2,267.1 586.7,267 586.2,266.9 585.9,266.7 585.6,266.6 585.3,266.4 585.2,266.2" fill="#37f507"/>
<polygon points="585.6,264.5 585.9,263 586,262.9 586.1,262.7 586.3,262.6 586.6,262.5 586.9,262.4 587.3,262.3 587.8,262.2 588.2,262.2 588.7,262.2 589.2,262.2 589.7,262.2 590.2,262.2 590.7,262.3 591.1,262.4 591.5,262.5 591.8,262.6 592,262.7 592.2,262.9 592.4,263 592.4,263.1 592.7,264.5 592.7,264.7 592.6,264.8 592.5,265 592.3,265.1 592,265.3 591.6,265.4 591.2,265.5 590.7,265.5 590.2,265.6 589.6,265.6 589,265.6 588.5,265.6 587.9,265.5 587.4,265.5 586.9,265.4 586.5,265.3 586.2,265.1 585.9,265 585.7,264.8 585.6,264.7" fill="#55f505"/>
<polygon points="585.9,263 586.3,261.5 586.3,261.4 586.5,261.2 586.6,261.1 586.9,261 587.2,260.9 587.5,260.9 587.9,260.8 588.4,260.8 588.8,260.8 589.2,260.8 589.7,260.8 590.1,260.8 590.5,260.9 590.9,260.9 591.2,261 591.5,261.1 591.8,261.2 591.9,261.4 592,261.5 592.4,263.1 592.3,263.3 592.2,263.4 592,263.6 591.7,263.7 591.4,263.8 591,263.9 590.5,263.9 590.1,264 589.6,264 589.1,264 588.6,264 588.1,263.9 587.6,263.9 587.2,263.8 586.8,263.7 586.5,263.6 586.2,263.4 586,263.3 586,263.1" fill="#72f503"/>
<polygon points="586.3,261.5 586.7,260 586.7,259.9 586.8,259.8 587,259.7 587.2,259.6 587.5,259.5 587.8,259.4 588.1,259.4 588.5,259.4 588.9,259.4 589.2,259.4 589.6,259.4 590,259.4 590.4,259.4 590.7,259.5 591,259.6 591.3,259.7 591.5,259.8 591.6,259.9 591.7,260 591.7,260.1 592,261.5 592,261.6 592,261.8 591.9,261.9 591.7,262 591.5,262.1 591.2,262.2 590.8,262.2 590.4,262.3 590,262.3 589.6,262.4 589.1,262.4 588.6,262.3 588.2,262.3 587.8,262.2 587.4,262.2 587.1,262.1 586.8,262 586.6,261.9 586.4,261.7 586.3,261.6" fill="#8ff501"/>
<polygon points="586.7,260 587,258.5 587.1,258.4 587.2,258.3 587.3,258.2 587.5,258.1 587.7,258.1 588,258 588.3,258 588.6,257.9 588.9,257.9 589.3,257.9 589.6,257.9 589.9,258 590.2,258 590.5,258.1 590.8,258.1 591,258.2 591.2,258.3 591.3,258.4 591.4,258.5 591.7,260.1 591.7,260.2 591.6,260.3 591.4,260.4 591.2,260.5 591,260.6 590.6,260.6 590.3,260.7 589.9,260.7 589.5,260.7 588.7,260.7 588.4,260.7 588,260.6 587.6,260.6 587.4,260.5 587.1,260.4 586.9,260.3 586.8,260.2 586.7,260.1" fill="#a7f600"/>
<polygon points="587,258.5 587.4,257 587.4,256.9 587.5,256.8 587.6,256.7 587.8,256.7 588,256.6 588.2,256.6 588.5,256.5 588.7,256.5 589,256.5 589.3,256.5 589.6,256.5 589.8,256.5 590.1,256.6 590.4,256.6 590.6,256.7 590.8,256.7 590.9,256.8 591,256.9 591.1,257 591.4,258.5 591.4,258.6 591.4,258.7 591.3,258.8 591.1,258.8 591,258.9 590.7,259 590.5,259 590.2,259.1 589.8,259.1 589.5,259.1 589.2,259.1 588.8,259.1 588.5,259.1 588.2,259 587.9,259 587.6,258.9 587.4,258.8 587.2,258.7 587.1,258.6 587,258.6" fill="#b7f700"/>
<polygon points="587.4,257 587.8,255.4 587.8,255.4 587.9,255.3 588,255.3 588.1,255.2 588.2,255.2 588.4,255.1 588.6,255.1 588.8,255.1 589.3,255.1 589.5,255.1 589.8,255.1 590,255.1 590.2,255.2 590.3,255.2 590.5,255.3 590.6,255.3 590.7,255.4 590.7,255.4 591.1,257 591.1,257 591,257.1 591,257.2 590.9,257.3 590.7,257.3 590.5,257.4 590.3,257.4 590,257.4 589.8,257.5 589.5,257.5 589.2,257.5 588.9,257.5 588.6,257.4 588.4,257.4 588.1,257.4 587.9,257.3 587.7,257.2 587.6,257.2 587.5,257.1 587.4,257" fill="#c8f900"/>
<polygon points="587.8,255.4 588.1,253.9 588.2,253.9 588.2,253.8 588.3,253.8 588.4,253.8 588.5,253.7 588.6,253.7 588.8,253.7 589,253.7 589.1,253.7 589.3,253.7 589.5,253.7 589.7,253.7 589.8,253.7 590,253.7 590.1,253.8 590.2,253.8 590.3,253.8 590.4,253.9 590.4,253.9 590.7,255.4 590.7,255.5 590.7,255.6 590.7,255.6 590.6,255.7 590.4,255.7 590.3,255.8 590.1,255.8 589.9,255.8 589.7,255.9 589.5,255.9 589.2,255.9 589,255.9 588.8,255.8 588.5,255.8 588.4,255.8 588.2,255.7 588,255.7 587.9,255.6 587.8,255.6 587.8,255.5" fill="#d8fb00"/>
<polygon points="588.1,253.9 588.5,252.4 588.5,252.4 588.6,252.3 588.8,252.3 588.9,252.3 589,252.2 589.1,252.2 589.5,252.2 589.6,252.2 589.8,252.3 589.9,252.3 590,252.4 590,252.4 590.1,252.4 590.1,252.4 590.4,253.9 590.4,254 590.4,254 590.4,254.1 590.3,254.1 590.2,254.2 590.1,254.2 589.9,254.2 589.8,254.2 589.6,254.2 589.4,254.2 589.3,254.2 589.1,254.2 588.9,254.2 588.8,254.2 588.6,254.2 588.5,254.2 588.4,254.1 588.3,254.1 588.2,254 588.2,254" fill="#e8fd00"/>
<polygon points="588.5,252.4 588.9,250.9 588.9,250.9 588.9,250.9 589,250.8 589.1,250.8 589.2,250.8 589.4,250.8 589.5,250.8 589.6,250.8 589.7,250.9 589.7,250.9 589.8,250.9 590.1,252.4 590.1,252.5 590,252.5 590,252.5 589.9,252.6 589.8,252.6 589.8,252.6 589.5,252.6 589.4,252.6 589.3,252.6 589,252.6 588.9,252.6 588.7,252.6 588.7,252.5 588.6,252.5 588.6,252.5 588.5,252.4" fill="#f9fe00"/>
<polygon points="588.9,250.9 589.3,249.4 589.3,249.4 589.4,249.4 589.4,249.4 589.8,250.9 589.7,250.9 589.7,251 589.7,251 589.7,251 589.6,251 589.6,251 589.5,251 589.2,251 589.1,251 589.1,251 589,251 589,251 588.9,250.9 588.9,250.9" fill="#fff100"/>
<polygon points="523.5,314.4 525.4,313.1 527.7,312 530.3,311.1 533.3,310.3 536.5,309.7 539.8,309.3 543.2,309.1 546.7,309.1 550,309.3 553.3,309.7 556.3,310.3 559.1,311.1 561.6,312.1 563.6,313.2 565.2,314.4 566.3,315.7 566.9,317.1 566.9,318.6 566.4,320 565.3,321.4 563.6,322.8 561.4,324 558.7,325.1 555.6,326.1 551.3,325.7 547.1,324.2 544.4,323.2 537.5,320.7 535.3,319.9 524.5,315.9" fill="#78009f"/>
<polygon points="523.5,314.4 525.4,313.1 527.7,312 530.3,311.1 533.3,310.3 536.5,309.7 539.8,309.3 543.2,309.1 546.7,309.1 550,309.3 553.3,309.7 556.3,310.3 559.1,311.1 561.6,312.1 563.6,313.2 565.2,314.4 566.3,315.7 566.9,317.1 566.9,318.6 566.4,320 565.3,321.4 563.6,322.8 561.4,324 558.7,325.1 555.6,326.1 551.3,325.7 547.1,324.2 544.4,323.2 537.5,320.7 535.3,319.9 524.5,315.9" fill="#78009f"/>
<polygon points="528.3,315.7 528.6,314.7 529.6,313.8 530.9,312.9 532.5,312.1 534.3,311.5 536.4,310.9 538.6,310.5 541,310.2 543.4,310.1 545.9,310.1 548.2,310.2 550.5,310.5 552.7,310.9 554.6,311.5 556.3,312.2 557.7,312.9 558.8,313.8 559.6,314.7 559.9,315.7 559.9,316.7 559.5,317.7 558.7,318.7 557.5,319.6 556,320.4 554.1,321.1 552,321.8 549.6,322.2 547.1,322.5 542.5,320.8 539.7,319.8 534,317.8 532.6,317.2" fill="#7a00a2"/>
<polygon points="532.5,314.9 532.6,314.2 533,312.5 533.4,311.9 534,311.2 534.9,310.6 536,310.1 537.2,309.7 538.7,309.3 540.2,309 541.9,308.8 543.5,308.7 545.2,308.7 546.9,308.8 548.5,309 549.9,309.3 551.3,309.7 552.5,310.1 553.4,310.7 554.2,311.3 554.6,311.9 554.9,312.6 555.3,314.2 555.3,314.9 555,315.6 554.4,316.3 553.5,316.9 552.4,317.5 551.1,318 549.6,318.4 547.9,318.8 546.1,319 544.3,319.1 542.5,319.1 541,318.6 535.2,316.6 534,316.1 532.6,315.6" fill="#7e00ab"/>
<polygon points="532.9,313.2 533,312.5 533.4,310.9 533.7,310.3 534.4,309.7 535.2,309.1 536.2,308.6 537.5,308.2 538.8,307.8 540.3,307.5 541.9,307.3 543.5,307.2 545.1,307.2 546.7,307.3 548.3,307.5 549.7,307.8 551,308.2 552.1,308.6 553,309.1 553.8,309.7 554.2,310.3 554.5,310.9 554.9,312.6 554.9,313.2 554.5,313.9 554,314.5 553.1,315.1 552.1,315.7 550.8,316.2 549.3,316.6 547.7,316.9 546,317.1 544.3,317.2 542.5,317.2 540.9,316.9 537.4,315.7 535.2,314.9 534,314.4 533,313.9" fill="#7900c0"/>
<polygon points="533.3,311.5 533.4,310.9 533.8,309.2 534.1,308.6 534.7,308.1 535.5,307.6 536.5,307.1 537.7,306.7 539,306.3 540.5,306.1 542,305.9 543.5,305.8 545.1,305.8 546.6,305.9 548.1,306.1 549.5,306.3 550.7,306.7 551.8,307.1 552.7,307.6 553.3,308.1 553.8,308.7 554,309.3 554.5,310.9 554.4,311.6 554.1,312.2 553.6,312.8 552.8,313.4 551.7,313.9 550.5,314.4 549.1,314.8 547.6,315.1 545.9,315.3 544.2,315.4 542.5,315.4 540.9,315.2 539.6,314.8 536.3,313.6 533.9,312.8 533.4,312.2" fill="#7300d6"/>
<polygon points="533.6,309.9 533.8,309.2 534.1,307.6 534.5,307 535,306.5 535.8,306 536.8,305.5 537.9,305.1 539.2,304.8 540.6,304.6 542,304.4 543.5,304.3 545,304.3 546.5,304.4 547.9,304.6 549.2,304.8 550.4,305.2 551.4,305.6 552.3,306 552.9,306.5 553.4,307.1 553.6,307.6 554,309.3 554,309.9 553.7,310.5 553.2,311.1 552.4,311.6 551.4,312.1 550.2,312.6 548.9,312.9 547.4,313.2 545.8,313.4 544.2,313.5 542.6,313.5 541,313.4 539.6,313.1 535.1,311.5 534.2,311.1 533.8,310.5" fill="#6600e8"/>
<polygon points="534,308.2 534.1,307.6 534.5,306 534.9,305.4 535.4,304.9 536.1,304.4 537.1,304 538.1,303.6 539.4,303.3 540.7,303.1 542.1,302.9 543.5,302.8 544.9,302.8 546.3,302.9 547.7,303.1 549,303.3 550.1,303.6 551.1,304 551.9,304.5 552.5,304.9 552.9,305.5 553.1,306 553.6,307.6 553.5,308.2 553.3,308.8 552.8,309.3 552,309.9 551.1,310.4 549.9,310.8 548.6,311.1 547.2,311.4 545.7,311.6 544.2,311.7 542.6,311.7 541.1,311.6 539.6,311.4 538.4,311 537.3,310.6 536.2,310.3 535.2,309.9 534.6,309.3 534.2,308.8" fill="#4700ef"/>
<polygon points="534.5,306.5 534.5,306 534.9,304.3 535.2,303.8 535.8,303.3 536.5,302.9 537.3,302.5 538.4,302.1 539.5,301.8 540.8,301.6 542.1,301.4 543.5,301.4 544.9,301.4 546.2,301.4 547.5,301.6 548.7,301.8 549.8,302.1 550.7,302.5 551.5,302.9 552.1,303.4 552.5,303.8 552.7,304.4 553.1,306 553.1,306.5 552.8,307.1 552.3,307.6 551.6,308.1 550.7,308.6 549.6,309 548.4,309.3 547,309.6 545.6,309.7 544.1,309.8 542.6,309.8 541.2,309.7 539.8,309.5 538.5,309.3 537.3,308.9 536.3,308.6 535.5,308.1 535,307.6 534.6,307.1" fill="#2900f6"/>
<polygon points="534.9,304.9 534.9,304.3 535.3,302.7 535.6,302.2 536.1,301.8 536.8,301.3 537.6,300.9 538.6,300.6 539.7,300.3 540.9,300.1 542.2,300 543.5,299.9 544.8,299.9 546.1,300 547.3,300.1 548.4,300.3 549.5,300.6 550.4,301 551.1,301.3 551.7,301.8 552.1,302.2 552.2,302.7 552.7,304.4 552.6,304.9 552.4,305.4 551.9,305.9 551.2,306.4 550.4,306.8 549.4,307.2 548.2,307.5 546.9,307.7 545.5,307.9 544.1,308 542.7,308 541.3,307.9 539.9,307.7 538.7,307.5 537.6,307.1 536.6,306.8 535.9,306.3 535.3,305.9 535,305.4" fill="#0a00fd"/>
<polygon points="535.2,303.2 535.3,302.7 535.7,301.1 536,300.6 536.5,300.2 537.1,299.8 537.9,299.4 538.8,299.1 539.9,298.8 541,298.6 542.2,298.5 543.5,298.4 544.7,298.4 545.9,298.5 547.1,298.6 548.2,298.8 549.2,299.1 550,299.4 550.7,299.8 551.3,300.2 551.6,300.6 551.8,301.1 552.2,302.7 552.2,303.2 552,303.7 551.5,304.2 550.9,304.6 550,305 549.1,305.4 547.9,305.7 546.7,305.9 545.4,306 544,306.1 542.7,306.1 541.4,306 540.1,305.9 538.9,305.6 537.9,305.4 537,305 536.2,304.6 535.7,304.1 535.4,303.7" fill="#0020ff"/>
<polygon points="535.6,301.5 535.7,301.1 536.1,299.4 536.4,299 536.8,298.6 537.4,298.2 538.2,297.9 539.1,297.6 540.1,297.3 541.1,297.1 542.3,297 543.5,296.9 544.6,296.9 545.8,297 546.9,297.1 547.9,297.3 548.9,297.6 549.7,297.9 550.3,298.2 550.9,298.6 551.2,299 551.3,299.4 551.8,301.1 551.8,301.5 551.5,302 551.1,302.4 550.5,302.9 549.7,303.2 548.8,303.6 547.7,303.8 546.5,304.1 545.3,304.2 544,304.3 542.7,304.3 541.5,304.2 540.2,304.1 539.1,303.8 538.1,303.6 537.3,303.2 536.6,302.8 536.1,302.4 535.8,302" fill="#0050ff"/>
<polygon points="536,299.9 536.1,299.4 536.5,297.8 536.8,297.4 537.2,297 537.8,296.6 538.5,296.3 539.3,296.1 540.2,295.8 541.3,295.6 542.3,295.5 543.5,295.5 544.6,295.5 545.6,295.5 546.7,295.6 547.7,295.8 548.6,296.1 549.3,296.3 550,296.7 550.4,297 550.8,297.4 550.9,297.8 551.3,299.4 551.3,299.9 551.1,300.3 550.7,300.7 550.1,301.1 549.4,301.4 548.5,301.8 547.5,302 546.4,302.2 545.2,302.4 544,302.4 542.8,302.4 541.5,302.4 540.4,302.2 539.4,302 538.4,301.8 537.6,301.4 537,301.1 536.5,300.7 536.2,300.3" fill="#007afe"/>
<polygon points="536.5,298.2 536.5,297.8 536.9,296.1 537.2,295.8 537.5,295.4 538.1,295.1 538.8,294.8 539.5,294.5 540.4,294.3 541.4,294.1 542.4,294 543.4,294 544.5,294 545.5,294 546.5,294.1 547.4,294.3 548.2,294.5 549,294.8 549.6,295.1 550,295.4 550.3,295.8 550.4,296.1 550.9,297.8 550.9,298.2 550.6,298.6 550.3,299 549.7,299.4 549,299.7 548.2,300 547.2,300.2 546.2,300.4 545.1,300.5 543.9,300.6 542.8,300.6 541.6,300.5 540.6,300.4 539.6,300.2 538.7,300 537.9,299.7 537.3,299.3 536.9,299 536.6,298.6" fill="#009bfc"/>
<polygon points="536.9,296.5 536.9,296.1 537.3,294.5 537.5,294.2 537.9,293.8 538.4,293.5 539,293.2 539.8,293 540.6,292.8 541.5,292.6 542.5,292.6 543.4,292.5 544.4,292.5 545.4,292.6 546.3,292.7 547.2,292.8 547.9,293 548.6,293.3 549.2,293.5 549.6,293.8 549.9,294.2 550,294.5 550.4,296.1 550.4,296.5 550.2,296.9 549.8,297.3 549.3,297.6 548.7,297.9 547.9,298.2 547,298.4 546,298.6 545,298.7 543.9,298.8 542.8,298.8 541.8,298.7 540.7,298.6 539.8,298.4 539,298.2 538.2,297.9 537.7,297.6 537.2,297.2 537,296.9" fill="#00bdf9"/>
<polygon points="537.3,294.9 537.3,294.5 537.7,292.9 537.9,292.5 538.3,292.2 538.7,292 539.3,291.7 540,291.5 540.8,291.3 541.6,291.1 542.5,291.1 543.4,291 544.3,291 545.2,291.1 546.1,291.2 546.9,291.3 547.6,291.5 548.2,291.7 548.8,292 549.1,292.2 549.4,292.6 549.5,292.9 550,294.5 550,294.9 549.8,295.2 549.4,295.5 548.9,295.9 548.3,296.1 547.6,296.4 546.8,296.6 545.8,296.8 544.9,296.9 543.9,296.9 542.8,296.9 541.9,296.9 540.9,296.8 540,296.6 539.2,296.4 538.6,296.1 538,295.8 537.6,295.5 537.4,295.2" fill="#00def6"/>
<polygon points="537.7,293.2 537.7,292.9 538.1,291.2 538.3,290.9 538.6,290.6 539.1,290.4 539.6,290.2 540.2,289.9 541,289.8 541.7,289.6 542.6,289.6 543.4,289.5 544.3,289.5 545.1,289.6 545.9,289.7 546.6,289.8 547.3,290 547.9,290.2 548.4,290.4 548.7,290.7 549,290.9 549.1,291.2 549.5,292.9 549.5,293.2 549.3,293.5 549,293.8 548.5,294.1 548,294.4 547.3,294.6 546.5,294.8 545.6,294.9 544.8,295 543.8,295.1 542.9,295.1 542,295 541.1,294.9 540.3,294.8 539.5,294.6 538.9,294.4 538.4,294.1 538,293.8 537.8,293.5" fill="#01f0e1"/>
<polygon points="538.1,291.5 538.1,291.2 538.6,289.6 538.7,289.3 539,289.1 539.4,288.8 539.9,288.6 540.5,288.4 541.1,288.3 541.9,288.1 542.6,288.1 543.4,288 544.2,288 545,288.1 545.7,288.2 546.4,288.3 547,288.4 547.5,288.6 548,288.8 548.3,289.1 548.5,289.3 548.6,289.6 549.1,291.2 549,291.5 548.9,291.8 548.6,292.1 548.2,292.4 547.6,292.6 547,292.8 546.3,293 545.5,293.1 544.6,293.2 543.8,293.3 542.9,293.3 542,293.2 541.2,293.1 540.5,293 539.8,292.8 539.2,292.6 538.8,292.4 538.4,292.1 538.2,291.8" fill="#03f1b4"/>
<polygon points="538.5,289.9 538.6,289.6 539,287.9 539.1,287.7 539.4,287.5 539.8,287.3 540.2,287.1 540.7,286.9 541.3,286.8 542,286.6 542.7,286.6 543.4,286.5 544.1,286.5 544.8,286.6 545.5,286.6 546.1,286.8 546.7,286.9 547.1,287.1 547.5,287.3 547.9,287.5 548,287.7 548.1,287.9 548.6,289.6 548.6,289.9 548.4,290.1 548.1,290.4 547.8,290.6 547.3,290.8 546.7,291 546,291.2 545.3,291.3 544.5,291.4 543.7,291.4 542.9,291.4 542.1,291.4 541.4,291.3 540.7,291.2 540.1,291 539.6,290.8 539.1,290.6 538.8,290.4 538.6,290.1" fill="#05f287"/>
<polygon points="538.9,288.2 539,287.9 539.4,286.3 539.5,286.1 539.8,285.9 540.1,285.7 540.5,285.5 541,285.4 541.5,285.2 542.1,285.1 542.7,285.1 543.4,285.1 544,285.1 544.7,285.1 545.3,285.1 545.8,285.2 546.3,285.4 546.8,285.5 547.1,285.7 547.4,285.9 547.6,286.1 547.7,286.3 548.1,287.9 548.1,288.2 548,288.4 547.7,288.7 547.4,288.9 546.9,289.1 546.4,289.2 545.8,289.4 545.1,289.5 544.4,289.6 543.7,289.6 543,289.6 542.2,289.6 541.6,289.5 540.9,289.4 540.4,289.2 539.9,289.1 539.5,288.9 539.2,288.6 539,288.4" fill="#07f35a"/>
<polygon points="539.4,286.5 539.4,286.3 539.8,284.7 539.9,284.5 540.1,284.3 540.4,284.1 540.8,284 541.2,283.8 541.7,283.7 542.2,283.6 542.8,283.6 543.4,283.6 544,283.6 544.5,283.6 545.1,283.6 545.6,283.7 546,283.8 546.4,284 546.7,284.1 547,284.3 547.1,284.5 547.2,284.7 547.7,286.3 547.6,286.5 547.5,286.7 547.3,286.9 547,287.1 546.6,287.3 546.1,287.5 545.5,287.6 545,287.7 544.3,287.8 543.7,287.8 543,287.8 542.4,287.8 541.7,287.7 541.2,287.6 540.6,287.5 540.2,287.3 539.9,287.1 539.6,286.9 539.4,286.7" fill="#08f42e"/>
<polygon points="539.8,284.9 539.8,284.7 540.2,283 540.3,282.9 540.5,282.7 540.8,282.6 541.1,282.4 541.5,282.3 541.9,282.2 542.4,282.1 542.9,282.1 543.4,282.1 543.9,282.1 544.4,282.1 544.9,282.1 545.3,282.2 545.7,282.3 546,282.4 546.3,282.6 546.5,282.7 546.7,282.9 546.7,283 547.2,284.7 547.2,284.9 547.1,285 546.9,285.2 546.6,285.4 546.2,285.6 545.8,285.7 545.3,285.8 544.8,285.9 544.2,285.9 543.6,286 543,286 542.5,285.9 541.9,285.9 541.4,285.8 540.9,285.7 540.5,285.6 540.2,285.4 540,285.2 539.8,285" fill="#10f50a"/>
<polygon points="540.2,283.2 540.2,283 540.6,281.4 540.7,281.2 540.9,281.1 541.1,281 541.4,280.9 541.7,280.8 542.1,280.7 542.5,280.6 542.9,280.6 543.4,280.6 543.8,280.6 544.2,280.6 544.6,280.6 545,280.7 545.4,280.8 545.7,280.9 545.9,281 546.1,281.1 546.2,281.2 546.3,281.4 546.7,283 546.7,283.2 546.6,283.4 546.4,283.5 546.2,283.7 545.9,283.8 545.5,283.9 545.1,284 544.6,284.1 544.1,284.1 543.6,284.2 543.1,284.2 542.6,284.1 542.1,284.1 541.6,284 541.2,283.9 540.9,283.8 540.6,283.7 540.4,283.5 540.2,283.4" fill="#2df508"/>
<polygon points="540.6,281.5 540.6,281.4 541.1,279.7 541.1,279.6 541.3,279.5 541.5,279.4 541.7,279.3 542,279.2 542.3,279.1 542.6,279.1 543,279.1 543.3,279.1 543.7,279.1 544.1,279.1 544.4,279.1 544.7,279.2 545,279.2 545.3,279.3 545.5,279.4 545.6,279.5 545.7,279.6 545.8,279.7 546.3,281.4 546.2,281.5 546.2,281.7 546,281.8 545.8,281.9 545.5,282 545.2,282.1 544.8,282.2 544.4,282.3 544,282.3 543.5,282.4 543.1,282.4 542.7,282.3 542.2,282.3 541.9,282.2 541.5,282.1 541.2,282 541,281.9 540.8,281.8 540.7,281.7" fill="#49f506"/>
<polygon points="541.1,279.9 541.1,279.7 541.5,278.1 541.6,278 541.7,277.9 541.8,277.8 542,277.8 542.2,277.7 542.5,277.6 542.8,277.6 543,277.6 543.3,277.5 543.6,277.5 543.9,277.6 544.2,277.6 544.5,277.6 544.7,277.7 544.9,277.8 545.1,277.8 545.2,277.9 545.3,278 545.3,278.1 545.8,279.7 545.8,279.9 545.7,280 545.6,280.1 545.4,280.2 545.2,280.3 544.9,280.4 544.6,280.4 544.2,280.5 543.9,280.5 543.5,280.6 543.1,280.6 542.8,280.5 542.4,280.5 542.1,280.4 541.8,280.4 541.5,280.3 541.3,280.2 541.2,280.1 541.1,280" fill="#66f504"/>
<polygon points="541.5,278.2 541.5,278.1 541.9,276.4 542,276.4 542.1,276.3 542.2,276.2 542.3,276.2 542.5,276.1 542.7,276.1 542.9,276.1 543.1,276.1 543.3,276 543.5,276 543.8,276.1 544,276.1 544.2,276.1 544.4,276.1 544.5,276.2 544.6,276.2 544.7,276.3 544.8,276.4 544.8,276.4 545.3,278.1 545.3,278.2 545.2,278.3 545.1,278.4 545,278.5 544.8,278.5 544.6,278.6 544.3,278.7 544,278.7 543.8,278.7 543.5,278.7 543.2,278.7 542.9,278.7 542.6,278.7 542.3,278.6 542.1,278.6 541.9,278.5 541.7,278.4 541.6,278.4 541.5,278.3" fill="#83f502"/>
<polygon points="541.9,276.5 541.9,276.4 542.4,274.8 542.4,274.8 542.5,274.7 542.5,274.7 542.6,274.6 542.7,274.6 542.9,274.6 543,274.6 543.2,274.5 543.5,274.5 543.6,274.5 543.8,274.6 543.9,274.6 544,274.6 544.1,274.6 544.2,274.7 544.3,274.7 544.3,274.8 544.8,276.4 544.8,276.5 544.8,276.6 544.7,276.7 544.6,276.7 544.4,276.8 544.3,276.8 544.1,276.9 543.9,276.9 543.6,276.9 543.4,276.9 543.2,276.9 543,276.9 542.8,276.9 542.6,276.9 542.4,276.8 542.2,276.8 542.1,276.7 542,276.7 541.9,276.6" fill="#9ff500"/>
<polygon points="542.4,274.8 542.8,273.2 542.8,273.2 542.8,273.1 542.8,273.1 542.9,273.1 542.9,273.1 543,273.1 543.1,273 543.1,273 543.2,273 543.5,273 543.5,273 543.6,273 543.8,273.1 543.8,273.1 543.8,273.1 543.9,273.1 543.9,273.2 544.3,274.8 544.3,274.8 544.3,274.9 544.3,274.9 544.2,274.9 544.2,275 544.1,275 544,275.1 543.7,275.1 543.5,275.1 543.4,275.1 543.2,275.1 543.1,275.1 542.9,275.1 542.8,275.1 542.7,275.1 542.6,275 542.5,275 542.4,274.9 542.4,274.9 542.4,274.9" fill="#b0f700"/>
<polygon points="542.8,273.2 543.2,271.5 543.2,271.5 543.3,271.5 543.3,271.5 543.4,271.5 543.4,271.5 543.9,273.2 543.9,273.2 543.8,273.2 543.8,273.2 543.8,273.3 543.7,273.3 543.6,273.3 543.6,273.3 543.5,273.3 543.4,273.3 543.2,273.3 543.1,273.3 543,273.3 543,273.3 542.9,273.3 542.8,273.2" fill="#c0f800"/>
<path d="M490.5 205.2L495.2 307.2M490.5 205.4h2" stroke="#555" stroke-width="0.65" fill="none"/>
<path d="M491.4 225.6h-1.8M492.4 246h-1.8M493.3 266.4h-1.8M494.3 286.8h-1.8" stroke="#555" stroke-width="0.6"/>
<path d="M495.2 308L574.3 337.3L637.4 304" stroke="#999" stroke-width="0.7" fill="none"/>
<text x="483.3" y="210.6" font-size="11">1</text>
<text x="485.5" y="310.5" font-size="11">0</text>
<text x="494.3" y="320.6" font-size="11.6" text-anchor="middle">-40</text>
<text x="527.9" y="331.2" font-size="11.6" text-anchor="middle">0</text>
<text x="561.3" y="344.7" font-size="11.6" text-anchor="middle">40</text>
<text x="585.6" y="343" font-size="11.6" text-anchor="middle">-40</text>
<text x="613.3" y="328.5" font-size="11.6" text-anchor="middle">0</text>
<text x="637.8" y="316.6" font-size="11.6" text-anchor="middle">40</text>
<text x="0" y="0" font-size="13" text-anchor="middle" transform="translate(475 261.5) rotate(-90)">Enhancement of |E| (a.u.)</text>
<text x="0" y="0" font-size="12.5" text-anchor="middle" transform="translate(518.8 347) rotate(21)"><tspan font-style="italic">x</tspan>-axis (μm)</text>
<text x="0" y="0" font-size="12.5" text-anchor="middle" transform="translate(627.8 344) rotate(-28)"><tspan font-style="italic">y</tspan>-axis (μm)</text>
<text x="548.9" y="233.6" font-size="13" font-weight="bold">Dip3</text>
<defs><linearGradient id="gCb" x1="0" y1="0" x2="0" y2="1"><stop offset="0%" stop-color="#600000"/><stop offset="20%" stop-color="#fa0000"/><stop offset="34.5%" stop-color="#ff0000"/><stop offset="41.3%" stop-color="#ff8000"/><stop offset="50%" stop-color="#ffff00"/><stop offset="59%" stop-color="#a0f500"/><stop offset="67%" stop-color="#0af50a"/><stop offset="75%" stop-color="#00f0f5"/><stop offset="81%" stop-color="#006eff"/><stop offset="84.5%" stop-color="#0000ff"/><stop offset="90%" stop-color="#6e00e6"/><stop offset="94%" stop-color="#7e00ac"/><stop offset="96.5%" stop-color="#78009e"/><stop offset="100%" stop-color="#48005c"/></linearGradient></defs>
<rect x="666.1" y="212.8" width="8.6" height="130.6" fill="url(#gCb)"/>
<rect x="666.1" y="342.3" width="8.6" height="1.1" fill="#1a0a1a"/>
<text x="671.5" y="206.9" font-size="11" text-anchor="middle">Max</text>
<text x="678.5" y="218.8" font-size="11">1</text>
<text x="677.3" y="345.4" font-size="11">0</text>
<text x="671.8" y="355" font-size="11" text-anchor="middle">Min</text>
</svg></body></html>
